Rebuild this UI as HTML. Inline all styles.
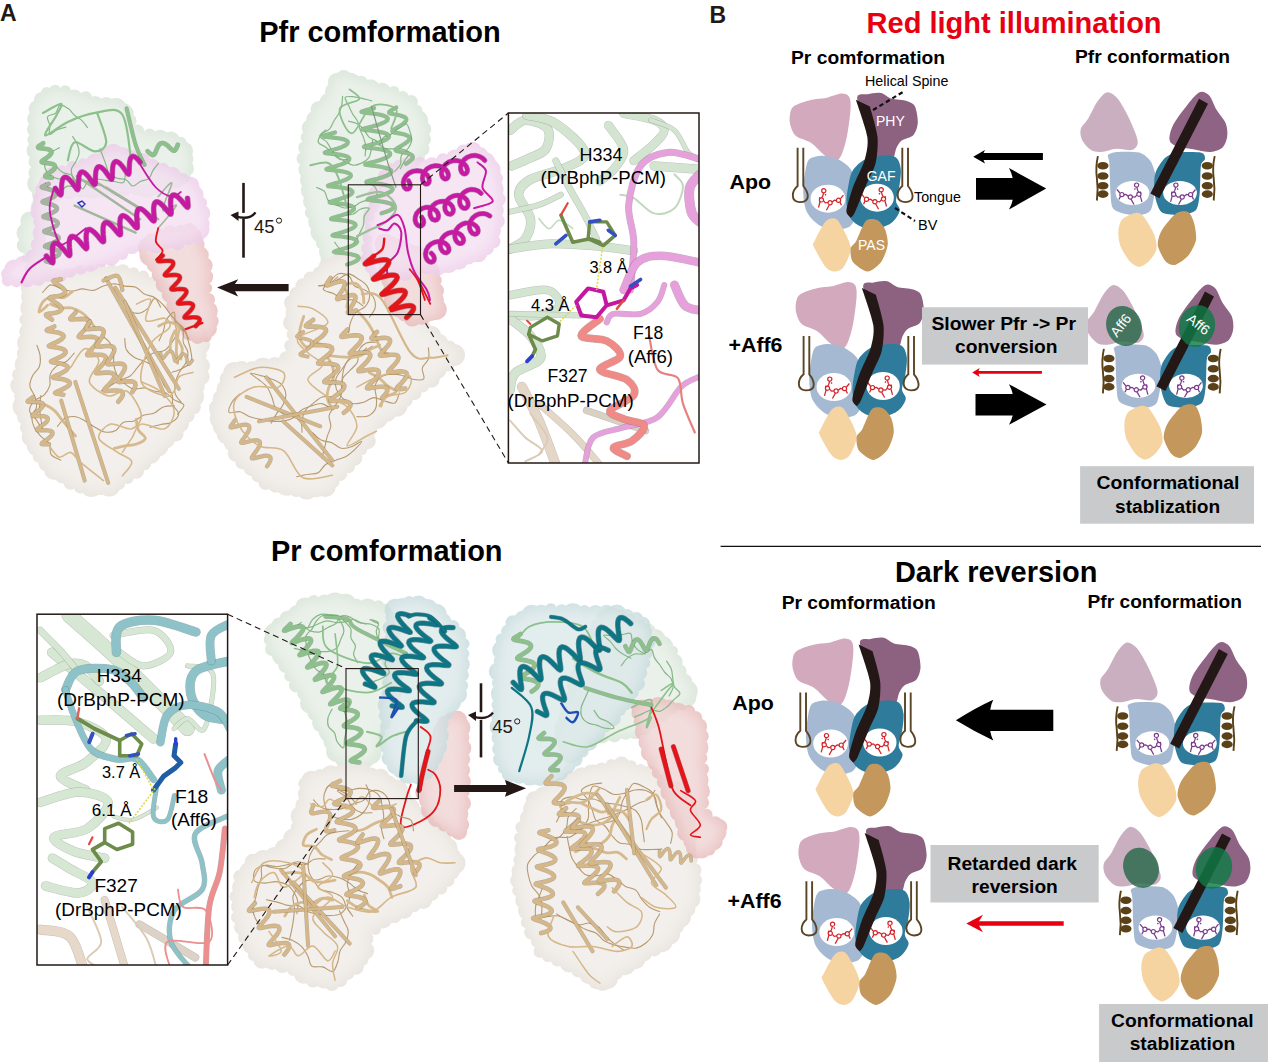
<!DOCTYPE html>
<html><head><meta charset="utf-8"><style>
html,body{margin:0;padding:0;background:#fff;width:1268px;height:1062px;overflow:hidden}
svg{display:block}
text{font-family:"Liberation Sans",sans-serif}
</style></head><body>
<svg width="1268" height="1062" viewBox="0 0 1268 1062">
<rect width="1268" height="1062" fill="#fff"/>
<defs><filter id="shade" x="-5%" y="-5%" width="110%" height="110%" color-interpolation-filters="sRGB"><feMorphology in="SourceAlpha" operator="erode" radius="4" result="er"/><feGaussianBlur in="er" stdDeviation="6" result="bl"/><feFlood flood-color="#ffffff" flood-opacity="0.4"/><feComposite in2="bl" operator="in" result="hi"/><feMerge><feMergeNode in="SourceGraphic"/><feMergeNode in="hi"/></feMerge></filter></defs>
<g opacity="1"><g fill="#dde8dc" filter="url(#shade)"><path d="M36.6,119.4 L40.9,110.1 L43.9,101.3 L47.1,93.4 L55.1,91.3 L64.7,92.9 L74.5,97.4 L85.4,99 L95.3,104.7 L105.7,107.5 L114.3,112.9 L121.4,115.7 L128.7,121.9 L137.2,131.9 L149.5,135.7 L159.8,140.8 L170,143 L179.7,143.9 L182.1,151.7 L185.5,159 L184.1,168 L180.1,174.5 L176.1,181.2 L166.8,182.8 L156.7,183.4 L146.1,183 L135.3,186.7 L124.4,188.8 L113.6,190.2 L102.7,186.3 L91.6,185.6 L80,186.9 L67.9,189 L54.8,192.1 L45.3,201.8 L39.3,212.7 L30.5,221.4 L24.7,232.4 L24.2,245.6 L27.1,257.8 L28.9,270 L42.8,274.3 L43,260.8 L43.7,249.6 L41.2,238.7 L42.8,227.5 L43.4,216.3 L39.7,205.6 L39.3,194.5 L41.7,183.3 L36.7,172.6 L36.3,161.6 L37.6,150.4 L33.7,139.7 L35.3,129.3Z"/><circle cx="34.5" cy="119" r="7.4"/><circle cx="38.1" cy="109.1" r="9.4"/><circle cx="42.5" cy="100.4" r="8.7"/><circle cx="46.7" cy="92.8" r="5.8"/><circle cx="55.1" cy="90.4" r="5.7"/><circle cx="65.1" cy="91.1" r="5.9"/><circle cx="74.4" cy="97.6" r="8"/><circle cx="85.8" cy="97.5" r="6.2"/><circle cx="95.1" cy="105.4" r="9.3"/><circle cx="106.2" cy="106" r="9"/><circle cx="115.9" cy="109.5" r="11.4"/><circle cx="123" cy="114" r="10.7"/><circle cx="130.2" cy="120.8" r="6.4"/><circle cx="137.1" cy="132" r="7.4"/><circle cx="149.6" cy="135.1" r="6.6"/><circle cx="160.2" cy="139.1" r="9.3"/><circle cx="170.9" cy="140.3" r="8.8"/><circle cx="180.6" cy="142.7" r="5.9"/><circle cx="183.5" cy="151" r="9.6"/><circle cx="186.1" cy="159" r="7.4"/><circle cx="185.8" cy="168.4" r="8.2"/><circle cx="180.4" cy="174.7" r="10.3"/><circle cx="176.4" cy="181.8" r="7"/><circle cx="166.7" cy="182.4" r="8.7"/><circle cx="157" cy="185.5" r="9.9"/><circle cx="146.3" cy="186.3" r="11.4"/><circle cx="135.3" cy="186.8" r="8"/><circle cx="124.5" cy="189.7" r="6.4"/><circle cx="113.6" cy="190.5" r="5.7"/><circle cx="102.7" cy="187.3" r="10.1"/><circle cx="91.6" cy="187.9" r="10.8"/><circle cx="80.1" cy="187.7" r="9.7"/><circle cx="68.2" cy="190.3" r="9"/><circle cx="54.4" cy="191.4" r="10.5"/><circle cx="45.6" cy="202.1" r="8.3"/><circle cx="39.4" cy="212.8" r="5.9"/><circle cx="29.7" cy="221" r="9.4"/><circle cx="26.9" cy="233.1" r="10.4"/><circle cx="24.6" cy="245.6" r="7.8"/><circle cx="27.9" cy="257.6" r="5.6"/><circle cx="30.7" cy="269.3" r="6.5"/><circle cx="42.8" cy="274.3" r="5.9"/><circle cx="41.5" cy="260.9" r="6.3"/><circle cx="44" cy="249.6" r="7.8"/><circle cx="40.3" cy="238.7" r="6"/><circle cx="43.3" cy="227.4" r="8.8"/><circle cx="43.8" cy="216.3" r="10.4"/><circle cx="38.5" cy="205.6" r="7.2"/><circle cx="39.6" cy="194.5" r="7.7"/><circle cx="38.5" cy="183.5" r="11.2"/><circle cx="35.1" cy="172.7" r="6.6"/><circle cx="35.4" cy="161.7" r="6.9"/><circle cx="35.5" cy="150.6" r="9"/><circle cx="32.8" cy="139.7" r="5.5"/><circle cx="34.6" cy="129.3" r="7.7"/></g></g>
<g opacity="1"><g fill="#eae5df" filter="url(#shade)"><path d="M32.5,282.8 L37,278.6 L46.5,278.4 L57.3,279.4 L68.9,278.8 L80.1,274.6 L90.5,271.6 L101,271.2 L111.8,272.6 L122.5,274.2 L133.1,274.2 L142.8,277.8 L152.5,282 L160.4,290 L170.4,294 L178.5,300.7 L183.9,309.4 L191.3,315.6 L197.1,323.7 L198.2,333.9 L196.8,344.5 L201.6,354.9 L198.7,365.6 L197.9,376.3 L196.8,386.8 L192.9,396.3 L192.5,406.7 L188,416 L180.3,423.6 L174.6,432.7 L165.7,439 L158.1,446.2 L150.3,453.5 L143.9,462.8 L134.8,469.1 L127.1,477.3 L118.1,482.9 L108.6,483.8 L100.8,485 L91.8,483.8 L81,485 L71.1,481.5 L63,474.9 L55.5,468.4 L47.7,462.5 L39.1,456.5 L37.8,445.5 L32.8,436.5 L26.5,427.6 L24.5,417.1 L25.8,406.1 L21.5,396.1 L22.8,385.7 L20.1,375 L25.5,364.7 L23,353.3 L29.2,343.1 L27.6,331.4 L27.7,319.8 L32.4,308.1 L29.2,297 L28.4,287.4Z"/><circle cx="32.1" cy="282.5" r="11.2"/><circle cx="36.9" cy="278" r="8.6"/><circle cx="46.3" cy="275.3" r="9.6"/><circle cx="57.3" cy="279.4" r="10.9"/><circle cx="68.9" cy="278.9" r="10.7"/><circle cx="79.9" cy="273.3" r="7.9"/><circle cx="90.5" cy="271.2" r="6.1"/><circle cx="101.1" cy="269.3" r="5.9"/><circle cx="112" cy="270.8" r="6.8"/><circle cx="122.8" cy="271.8" r="7.5"/><circle cx="133.5" cy="272.7" r="5.5"/><circle cx="143.3" cy="276.7" r="6.1"/><circle cx="152.4" cy="282.3" r="5.7"/><circle cx="161.7" cy="287.8" r="9.2"/><circle cx="171.2" cy="292.9" r="7"/><circle cx="179.9" cy="299" r="7.7"/><circle cx="183.2" cy="310.1" r="10.6"/><circle cx="192.3" cy="315.1" r="8.3"/><circle cx="198.9" cy="323.1" r="6"/><circle cx="199.9" cy="333.6" r="7.6"/><circle cx="199.7" cy="344.3" r="10.5"/><circle cx="201.2" cy="354.9" r="5.6"/><circle cx="201.2" cy="365.7" r="8.7"/><circle cx="200.9" cy="376.6" r="8.8"/><circle cx="196" cy="386.7" r="8.7"/><circle cx="193.3" cy="396.4" r="10.7"/><circle cx="193.7" cy="407.2" r="7.1"/><circle cx="188" cy="416" r="6.5"/><circle cx="180.3" cy="423.6" r="8.7"/><circle cx="176" cy="433.9" r="7.5"/><circle cx="165" cy="438.4" r="10.4"/><circle cx="158" cy="446.1" r="10.6"/><circle cx="150.4" cy="453.6" r="10.4"/><circle cx="144.4" cy="463.4" r="6.9"/><circle cx="136.4" cy="471.1" r="7.6"/><circle cx="127.9" cy="478.3" r="5.7"/><circle cx="118.2" cy="483.1" r="7.1"/><circle cx="109.2" cy="485.4" r="11.2"/><circle cx="100.7" cy="484" r="11.1"/><circle cx="91.4" cy="485.8" r="11.2"/><circle cx="80.5" cy="486.6" r="6.8"/><circle cx="70.4" cy="483.1" r="6.7"/><circle cx="63.2" cy="474.4" r="9.2"/><circle cx="54.6" cy="469.5" r="10.5"/><circle cx="47.7" cy="462.5" r="9.4"/><circle cx="38.8" cy="456.7" r="6"/><circle cx="37.8" cy="445.5" r="11"/><circle cx="31.6" cy="437" r="10"/><circle cx="26.5" cy="427.6" r="6.6"/><circle cx="24.6" cy="417.1" r="7.5"/><circle cx="23.9" cy="406.4" r="11.3"/><circle cx="22.1" cy="396.1" r="7.9"/><circle cx="20.1" cy="385.6" r="9.8"/><circle cx="18.4" cy="374.8" r="6.3"/><circle cx="25.7" cy="364.8" r="10.9"/><circle cx="23.2" cy="353.4" r="6.4"/><circle cx="28.6" cy="343" r="11.4"/><circle cx="26.8" cy="331.3" r="7.6"/><circle cx="25.6" cy="319.7" r="6.3"/><circle cx="31.7" cy="308.1" r="11.3"/><circle cx="29.8" cy="296.9" r="8.7"/><circle cx="28.7" cy="287.5" r="8.1"/></g></g>
<g opacity="0.8"><g fill="#e7b8b8" filter="url(#shade)"><path d="M151.2,248.1 L152.6,241.3 L160.6,236.5 L170.4,233.4 L180.5,230.8 L189.2,231.7 L193.6,236.6 L197.1,244.7 L199.4,255.2 L201.1,265.9 L203,277 L206.7,288.1 L207.7,299.7 L206.9,311.2 L210.4,321 L208.1,328.9 L205.4,335.7 L197.7,335.5 L192,330 L186,324 L182.8,313.8 L176.4,304.3 L170.6,294.2 L164.7,284.4 L159.5,274.6 L156,264.1 L153.2,254.4Z"/><circle cx="148.6" cy="247.5" r="10.5"/><circle cx="151.6" cy="240.2" r="7"/><circle cx="160.4" cy="236" r="6.9"/><circle cx="170.1" cy="232.3" r="7.1"/><circle cx="180.5" cy="231.2" r="6.3"/><circle cx="189.5" cy="230.7" r="7.6"/><circle cx="193.2" cy="236.9" r="9"/><circle cx="196.6" cy="244.8" r="8"/><circle cx="200.3" cy="255" r="8.5"/><circle cx="204.1" cy="265.5" r="8.6"/><circle cx="205.1" cy="276.7" r="8.1"/><circle cx="206.7" cy="288.1" r="5.5"/><circle cx="208.6" cy="299.5" r="6.5"/><circle cx="207.9" cy="311.1" r="9.9"/><circle cx="211.2" cy="321.1" r="7.5"/><circle cx="208.1" cy="328.9" r="8.8"/><circle cx="205.7" cy="336.2" r="6.1"/><circle cx="197.5" cy="337.1" r="7"/><circle cx="191.2" cy="331" r="10.1"/><circle cx="186" cy="324" r="8.9"/><circle cx="181.3" cy="314.6" r="11"/><circle cx="175.4" cy="304.9" r="9.2"/><circle cx="170.3" cy="294.4" r="8.6"/><circle cx="163.9" cy="284.8" r="8.2"/><circle cx="160.1" cy="274.3" r="8.4"/><circle cx="156.4" cy="263.9" r="9.7"/><circle cx="150.7" cy="255.1" r="11.2"/></g></g>
<g opacity="0.8"><g fill="#edcbe9" filter="url(#shade)"><path d="M47.1,183.1 L54.7,179.8 L62.4,172.3 L72.8,168.4 L83.4,164.3 L95.3,163.3 L103.9,155.9 L113.9,155.9 L122.5,157.1 L132.4,156.4 L141.7,161.8 L150.4,169.6 L162.5,170.2 L171.4,176.8 L181.4,180.6 L187.4,188.7 L193.7,195.3 L200.4,203.1 L200,213.8 L204.4,223.2 L200.1,229.9 L197.2,236.6 L187.9,239.9 L177.2,241.3 L166.6,241.9 L155.5,240.4 L144.2,244.9 L131.6,244.9 L121.3,252.1 L110.2,254.7 L101.6,261.7 L90.2,262.6 L80.8,268.9 L70.3,272.2 L59.3,272.6 L48.5,273.9 L37.9,276.9 L26.9,276.5 L16.5,279.3 L8.7,279.4 L10.1,275 L15.7,271.3 L23.7,266.6 L34.9,258.6 L40.1,245.3 L43.5,233 L40.5,221.7 L45,210.8 L44.9,199.8 L43.7,189.9Z"/><circle cx="47.6" cy="183.5" r="8.9"/><circle cx="53.3" cy="177.2" r="10.5"/><circle cx="62.1" cy="171.5" r="6.2"/><circle cx="72.3" cy="167" r="5.9"/><circle cx="83.3" cy="164.1" r="5.9"/><circle cx="95.5" cy="163.8" r="10.2"/><circle cx="103.8" cy="155.8" r="6.4"/><circle cx="113.5" cy="153.2" r="9.5"/><circle cx="122.3" cy="158" r="10.8"/><circle cx="132.2" cy="156.9" r="6.8"/><circle cx="142.1" cy="160.9" r="7.9"/><circle cx="150.3" cy="169.8" r="11.4"/><circle cx="162.9" cy="169.3" r="6.5"/><circle cx="172.2" cy="175.3" r="8.6"/><circle cx="182.1" cy="179.4" r="6.7"/><circle cx="189.7" cy="186.3" r="9.8"/><circle cx="194.8" cy="194.6" r="8.8"/><circle cx="201.5" cy="202.7" r="5.6"/><circle cx="201.1" cy="213.6" r="9.2"/><circle cx="203.8" cy="223.2" r="5.9"/><circle cx="199.3" cy="229.5" r="10.2"/><circle cx="197.9" cy="237.9" r="6.1"/><circle cx="187.9" cy="239.9" r="5.7"/><circle cx="177.6" cy="243.3" r="7.1"/><circle cx="166.6" cy="241.4" r="8"/><circle cx="155.7" cy="242.8" r="10.4"/><circle cx="144.2" cy="244.5" r="6.4"/><circle cx="131.7" cy="245.2" r="8.9"/><circle cx="122.2" cy="253.9" r="6"/><circle cx="110.8" cy="256" r="9.6"/><circle cx="101.5" cy="261.3" r="5.9"/><circle cx="90.2" cy="262.5" r="9.3"/><circle cx="80.7" cy="268.7" r="6"/><circle cx="70.2" cy="271.9" r="5.9"/><circle cx="59.6" cy="274.2" r="8.2"/><circle cx="48.4" cy="273.3" r="8.8"/><circle cx="38.1" cy="278.9" r="7.1"/><circle cx="27" cy="278.6" r="8.7"/><circle cx="16.4" cy="281" r="6.2"/><circle cx="7.7" cy="280.6" r="5.8"/><circle cx="8.6" cy="274.6" r="7.4"/><circle cx="14.3" cy="269.6" r="10.1"/><circle cx="22.7" cy="264.6" r="8.5"/><circle cx="33" cy="256.9" r="7.6"/><circle cx="37.7" cy="244.8" r="7"/><circle cx="42.5" cy="233" r="9.9"/><circle cx="39.6" cy="221.6" r="6.6"/><circle cx="41.6" cy="210.7" r="11.1"/><circle cx="43.3" cy="199.7" r="10.4"/><circle cx="43.9" cy="190" r="8.5"/></g></g>
<path d="M125.4,173.8 C125,175.2 125.2,181.3 123.4,182.6 C121.5,183.8 117.4,181.9 114.4,181.5 C111.4,181.1 108.5,180.7 105.5,180.3 C102.5,179.9 99.5,178.9 96.6,179 C93.6,179.2 90.1,179.6 87.9,181.3 C85.6,182.9 84.8,188.7 83,188.8 C81.2,189 78.7,184.6 76.8,182.3 C74.9,180 73.8,176.7 71.4,175.1 C69.1,173.4 65.4,173.9 62.8,172.5 C60.3,171.1 57.2,167.5 56.1,166.5" fill="none" stroke="#86b886" stroke-width="1.2" stroke-linecap="round" stroke-linejoin="round"/><path d="M72.6,136.5 C73.4,137.8 76.2,141.4 77.3,144.2 C78.4,146.9 79.4,150.1 79.1,153 C78.9,155.9 77.2,158.7 75.9,161.4 C74.6,164.1 71.9,166.4 71.4,169.1 C70.8,171.9 72,175.2 72.8,178 C73.7,180.9 77.4,184.9 76.5,186.2 C75.6,187.6 70.2,185.4 67.5,186.2 C64.7,187 62.7,190.4 59.9,191.1 C57.1,191.7 53.4,191.4 51,190.1 C48.5,188.7 46.4,184.2 45.4,183" fill="none" stroke="#86b886" stroke-width="1.2" stroke-linecap="round" stroke-linejoin="round"/><path d="M101.5,184.8 C100,184.8 95.3,185.6 92.5,184.9 C89.7,184.2 87.5,180.9 84.7,180.4 C81.9,179.9 78.7,182.3 75.9,182 C73,181.7 70.4,179.2 67.5,178.7 C64.6,178.2 61.4,179.4 58.5,178.9 C55.6,178.3 52.4,177.2 50.2,175.4 C47.9,173.6 45.7,170.7 45,168 C44.3,165.3 44.8,161.7 45.9,159.1 C46.9,156.4 49.3,154 51.5,152.1 C53.8,150.2 58.1,148.5 59.4,147.7" fill="none" stroke="#86b886" stroke-width="1.2" stroke-linecap="round" stroke-linejoin="round"/><path d="M158.5,163.3 C157.6,164.5 154.6,167.9 153,170.4 C151.4,173 151,176.6 148.9,178.4 C146.8,180.3 143.1,180.2 140.4,181.5 C137.7,182.8 135,186.3 132.6,186 C130.2,185.7 128.7,181 126.1,179.7 C123.6,178.4 120.1,179.2 117.3,178.2 C114.4,177.3 111.1,176.1 109.3,174 C107.5,171.9 107.3,168.4 106.3,165.6 C105.3,162.7 104.2,159.9 103.2,157.1 C102.1,154.3 100.5,150.1 100,148.7" fill="none" stroke="#86b886" stroke-width="1.2" stroke-linecap="round" stroke-linejoin="round"/><path d="M65.8,127.1 C64.4,127.5 60,128.6 57.3,129.8 C54.5,131.1 50.8,135.2 49.5,134.5 C48.3,133.8 50.2,128.5 49.8,125.5 C49.5,122.6 46.6,118.9 47.5,116.8 C48.5,114.7 53.7,115 55.7,113.1 C57.8,111.2 57.9,105.9 60,105.2 C62.1,104.4 65.9,107 68.3,108.6 C70.7,110.3 72.3,113.2 74.5,115.2 C76.8,117.1 79.7,118.4 81.8,120.4 C84,122.5 86.5,126.3 87.4,127.5" fill="none" stroke="#86b886" stroke-width="1.2" stroke-linecap="round" stroke-linejoin="round"/>
<path d="M42.9,112.9 C46,111.4 58.8,103.5 61,103.9 C63.3,104.3 59.1,109.9 56.5,115.2 C53.9,120.5 43.3,134.4 45.2,135.5 C47.1,136.7 59.5,125.7 67.8,122 C76.1,118.2 85.9,114.3 94.9,112.9 C104,111.6 116,106.2 122,114.1 C128.1,122 129.6,152.7 131.1,160.4" fill="none" stroke="#8cc18b" stroke-width="2.2" stroke-linecap="round" stroke-linejoin="round" stroke-opacity="1"/>
<path d="M97.2,112.9 C98.7,117.8 106.6,135.9 106.2,142.3 C105.8,148.7 100.2,151.4 94.9,151.4 C89.6,151.4 79.1,140.8 74.6,142.3 C70.1,143.8 68.9,157.4 67.8,160.4" fill="none" stroke="#8cc18b" stroke-width="2.2" stroke-linecap="round" stroke-linejoin="round" stroke-opacity="1"/>
<path d="M43.2,143.2 L41.2,144.6 L39.5,145.7 L38.4,146.6 L38,147.3 L38.5,147.8 L39.8,148.1 L41.7,148.4 L44,148.6 L46.5,149 L48.7,149.5 L50.4,150.3 L51.3,151.4 L51.5,152.6 L50.8,154 L49.4,155.6 L47.6,157.1 L45.6,158.5 L43.7,159.7 L42.4,160.8 L41.7,161.5 L41.8,162.1 L42.8,162.5 L44.5,162.7 L46.7,163 L49.1,163.3 L51.5,163.8 L53.4,164.4 L54.7,165.4 L55.1,166.5 L54.8,167.9 L53.6,169.4 L52,170.9 L50,172.4 L48,173.7 L46.5,174.9 L45.5,175.7 L45.3,176.4 L45.9,176.8 L47.3,177.1 L49.4,177.3 L51.8,177.6" fill="none" stroke="#547353" stroke-width="4.8" stroke-linecap="round" stroke-linejoin="round" stroke-opacity="0.5"/><path d="M43.2,143.2 L41.2,144.6 L39.5,145.7 L38.4,146.6 L38,147.3 L38.5,147.8 L39.8,148.1 L41.7,148.4 L44,148.6 L46.5,149 L48.7,149.5 L50.4,150.3 L51.3,151.4 L51.5,152.6 L50.8,154 L49.4,155.6 L47.6,157.1 L45.6,158.5 L43.7,159.7 L42.4,160.8 L41.7,161.5 L41.8,162.1 L42.8,162.5 L44.5,162.7 L46.7,163 L49.1,163.3 L51.5,163.8 L53.4,164.4 L54.7,165.4 L55.1,166.5 L54.8,167.9 L53.6,169.4 L52,170.9 L50,172.4 L48,173.7 L46.5,174.9 L45.5,175.7 L45.3,176.4 L45.9,176.8 L47.3,177.1 L49.4,177.3 L51.8,177.6" fill="none" stroke="#8cc18b" stroke-width="3.6" stroke-linecap="round" stroke-linejoin="round"/>
<path d="M48.6,184 L46,185 L43.8,185.8 L42.3,186.5 L41.8,187.1 L42.3,187.5 L43.8,188 L46,188.6 L48.7,189.3 L51.4,190.1 L53.8,191.1 L55.4,192.3 L56.2,193.5 L55.9,194.9 L54.6,196.2 L52.5,197.5 L50,198.6 L47.3,199.7 L45,200.5 L43.4,201.2 L42.6,201.8 L43,202.3 L44.3,202.7 L46.4,203.3 L49,203.9 L51.7,204.7 L54.2,205.7 L56,206.8 L56.9,208.1 L56.8,209.4 L55.7,210.7 L53.7,212 L51.3,213.2 L48.6,214.3 L46.2,215.1 L44.4,215.9 L43.5,216.5 L43.6,217 L44.8,217.4 L46.8,218 L49.3,218.6 L52.1,219.4 L54.6,220.3 L56.6,221.4 L57.7,222.6 L57.7,224 L56.8,225.3 L55,226.6 L52.6,227.8 L49.9,228.9 L47.4,229.8 L45.5,230.5 L44.4,231.1 L44.4,231.7 L45.3,232.1 L47.2,232.7 L49.7,233.3 L52.4,234 L55,234.9 L57.1,236 L58.4,237.2 L58.6,238.5 L57.9,239.8 L56.2,241.2 L53.8,242.4 L51.2,243.5 L48.7,244.4 L46.6,245.2 L45.4,245.8 L45.1,246.4 L45.9,246.8 L47.6,247.4 L50,247.9 L52.7,248.7 L55.4,249.5 L57.6,250.6 L59,251.8 L59.5,253 L58.9,254.4 L57.4,255.7 L55.1,257 L52.5,258.1 L49.9,259.1 L47.8,259.9 L46.4,260.5 L45.9,261.1 L46.5,261.6 L48.1,262 L50.4,262.6 L53,263.3" fill="none" stroke="#636c5f" stroke-width="4.6" stroke-linecap="round" stroke-linejoin="round" stroke-opacity="0.5"/><path d="M48.6,184 L46,185 L43.8,185.8 L42.3,186.5 L41.8,187.1 L42.3,187.5 L43.8,188 L46,188.6 L48.7,189.3 L51.4,190.1 L53.8,191.1 L55.4,192.3 L56.2,193.5 L55.9,194.9 L54.6,196.2 L52.5,197.5 L50,198.6 L47.3,199.7 L45,200.5 L43.4,201.2 L42.6,201.8 L43,202.3 L44.3,202.7 L46.4,203.3 L49,203.9 L51.7,204.7 L54.2,205.7 L56,206.8 L56.9,208.1 L56.8,209.4 L55.7,210.7 L53.7,212 L51.3,213.2 L48.6,214.3 L46.2,215.1 L44.4,215.9 L43.5,216.5 L43.6,217 L44.8,217.4 L46.8,218 L49.3,218.6 L52.1,219.4 L54.6,220.3 L56.6,221.4 L57.7,222.6 L57.7,224 L56.8,225.3 L55,226.6 L52.6,227.8 L49.9,228.9 L47.4,229.8 L45.5,230.5 L44.4,231.1 L44.4,231.7 L45.3,232.1 L47.2,232.7 L49.7,233.3 L52.4,234 L55,234.9 L57.1,236 L58.4,237.2 L58.6,238.5 L57.9,239.8 L56.2,241.2 L53.8,242.4 L51.2,243.5 L48.7,244.4 L46.6,245.2 L45.4,245.8 L45.1,246.4 L45.9,246.8 L47.6,247.4 L50,247.9 L52.7,248.7 L55.4,249.5 L57.6,250.6 L59,251.8 L59.5,253 L58.9,254.4 L57.4,255.7 L55.1,257 L52.5,258.1 L49.9,259.1 L47.8,259.9 L46.4,260.5 L45.9,261.1 L46.5,261.6 L48.1,262 L50.4,262.6 L53,263.3" fill="none" stroke="#a5b49f" stroke-width="3.4" stroke-linecap="round" stroke-linejoin="round"/>
<path d="M147.6,151.2 L149.2,152.7 L150.7,154 L151.9,154.9 L153,155.1 L154,154.7 L154.8,153.6 L155.6,152 L156.4,150 L157.3,147.9 L158.3,145.9 L159.5,144.3 L160.9,143.3 L162.5,143 L164.1,143.3 L165.9,144.3 L167.6,145.6 L169.3,147.2 L170.8,148.7 L172.2,149.9 L173.4,150.5 L174.5,150.6 L175.4,149.9 L176.2,148.6 L177,146.8 L177.8,144.7" fill="none" stroke="#547353" stroke-width="4.8" stroke-linecap="round" stroke-linejoin="round" stroke-opacity="0.5"/><path d="M147.6,151.2 L149.2,152.7 L150.7,154 L151.9,154.9 L153,155.1 L154,154.7 L154.8,153.6 L155.6,152 L156.4,150 L157.3,147.9 L158.3,145.9 L159.5,144.3 L160.9,143.3 L162.5,143 L164.1,143.3 L165.9,144.3 L167.6,145.6 L169.3,147.2 L170.8,148.7 L172.2,149.9 L173.4,150.5 L174.5,150.6 L175.4,149.9 L176.2,148.6 L177,146.8 L177.8,144.7" fill="none" stroke="#8cc18b" stroke-width="3.6" stroke-linecap="round" stroke-linejoin="round"/>
<path d="M76.8,176.2 L140.1,219.2" fill="none" stroke="#a3b59c" stroke-width="2.4" stroke-linecap="round" stroke-linejoin="round" stroke-opacity="1"/>
<path d="M90.4,178.5 L149.2,214.6" fill="none" stroke="#a3b59c" stroke-width="2.4" stroke-linecap="round" stroke-linejoin="round" stroke-opacity="1"/>
<path d="M106.2,187.5 L158.2,219.2" fill="none" stroke="#a3b59c" stroke-width="2.4" stroke-linecap="round" stroke-linejoin="round" stroke-opacity="1"/>
<path d="M74.6,205.6 L135.6,232.7" fill="none" stroke="#a3b59c" stroke-width="2.4" stroke-linecap="round" stroke-linejoin="round" stroke-opacity="1"/>
<path d="M126.6,108.4 C128.1,114.4 132.6,135.2 135.6,144.6 C138.6,154 143.1,161.5 144.6,164.9" fill="none" stroke="#547353" stroke-width="4.2" stroke-linecap="round" stroke-linejoin="round" stroke-opacity="0.5"/><path d="M126.6,108.4 C128.1,114.4 132.6,135.2 135.6,144.6 C138.6,154 143.1,161.5 144.6,164.9" fill="none" stroke="#8cc18b" stroke-width="3.2" stroke-linecap="round" stroke-linejoin="round" stroke-opacity="1"/>
<path d="M158.2,196.6 C160.5,194.3 171,180.7 171.8,183 C172.5,185.3 162,206.3 162.7,210.1 C163.5,213.9 177,202.6 176.3,205.6 C175.5,208.6 161.2,224.4 158.2,228.2" fill="none" stroke="#a3b59c" stroke-width="1.6" stroke-linecap="round" stroke-linejoin="round" stroke-opacity="1"/>
<path d="M55.4,188.3 L57.2,190.9 L58.8,193.1 L60,194.6 L60.8,195 L61.2,194.3 L61.4,192.5 L61.5,189.9 L61.6,186.7 L61.8,183.5 L62.3,180.6 L63.1,178.4 L64.4,177.2 L66,177.1 L67.9,178.2 L69.9,180.1 L71.9,182.6 L73.8,185.2 L75.5,187.5 L76.7,189.2 L77.6,189.8 L78.1,189.3 L78.4,187.8 L78.4,185.3 L78.5,182.2 L78.7,178.9 L79.1,175.9 L79.9,173.5 L81.1,172.1 L82.6,171.8 L84.4,172.7 L86.4,174.4 L88.5,176.8 L90.4,179.5 L92.1,181.9 L93.5,183.7 L94.4,184.6 L95,184.3 L95.3,183 L95.4,180.6 L95.4,177.6 L95.6,174.4 L95.9,171.3 L96.6,168.7 L97.7,167.1 L99.2,166.6 L101,167.2 L103,168.8 L105,171.1 L107,173.8 L108.7,176.3 L110.2,178.2 L111.2,179.3 L111.9,179.3 L112.2,178.1 L112.3,176 L112.4,173.1 L112.5,169.8 L112.8,166.6 L113.4,164 L114.4,162.2 L115.8,161.4 L117.6,161.8 L119.5,163.2 L121.6,165.4 L123.6,168 L125.4,170.6 L126.9,172.7 L128,173.9 L128.7,174.2 L129.1,173.2 L129.2,171.3 L129.3,168.5 L129.4,165.3 L129.6,162.1 L130.2,159.3 L131.2,157.3 L132.5,156.3 L134.1,156.5 L136.1,157.7 L138.1,159.8 L140.1,162.3" fill="none" stroke="#770f61" stroke-width="5.4" stroke-linecap="round" stroke-linejoin="round" stroke-opacity="0.5"/><path d="M55.4,188.3 L57.2,190.9 L58.8,193.1 L60,194.6 L60.8,195 L61.2,194.3 L61.4,192.5 L61.5,189.9 L61.6,186.7 L61.8,183.5 L62.3,180.6 L63.1,178.4 L64.4,177.2 L66,177.1 L67.9,178.2 L69.9,180.1 L71.9,182.6 L73.8,185.2 L75.5,187.5 L76.7,189.2 L77.6,189.8 L78.1,189.3 L78.4,187.8 L78.4,185.3 L78.5,182.2 L78.7,178.9 L79.1,175.9 L79.9,173.5 L81.1,172.1 L82.6,171.8 L84.4,172.7 L86.4,174.4 L88.5,176.8 L90.4,179.5 L92.1,181.9 L93.5,183.7 L94.4,184.6 L95,184.3 L95.3,183 L95.4,180.6 L95.4,177.6 L95.6,174.4 L95.9,171.3 L96.6,168.7 L97.7,167.1 L99.2,166.6 L101,167.2 L103,168.8 L105,171.1 L107,173.8 L108.7,176.3 L110.2,178.2 L111.2,179.3 L111.9,179.3 L112.2,178.1 L112.3,176 L112.4,173.1 L112.5,169.8 L112.8,166.6 L113.4,164 L114.4,162.2 L115.8,161.4 L117.6,161.8 L119.5,163.2 L121.6,165.4 L123.6,168 L125.4,170.6 L126.9,172.7 L128,173.9 L128.7,174.2 L129.1,173.2 L129.2,171.3 L129.3,168.5 L129.4,165.3 L129.6,162.1 L130.2,159.3 L131.2,157.3 L132.5,156.3 L134.1,156.5 L136.1,157.7 L138.1,159.8 L140.1,162.3" fill="none" stroke="#c71aa3" stroke-width="4.2" stroke-linecap="round" stroke-linejoin="round"/>
<path d="M46.4,256 L48.6,258.6 L50.4,260.8 L51.8,262.2 L52.6,262.6 L53,261.8 L53,259.9 L52.7,257 L52.5,253.7 L52.4,250.2 L52.6,247.1 L53.3,244.8 L54.5,243.4 L56.2,243.3 L58.3,244.3 L60.6,246.2 L63,248.7 L65.2,251.3 L67.1,253.6 L68.5,255.2 L69.4,255.7 L69.9,255 L69.9,253.2 L69.7,250.5 L69.4,247.2 L69.2,243.7 L69.4,240.5 L70.1,238.1 L71.2,236.6 L72.9,236.4 L74.9,237.2 L77.2,239.1 L79.6,241.5 L81.8,244.1 L83.8,246.5 L85.3,248.1 L86.2,248.8 L86.7,248.3 L86.8,246.6 L86.6,243.9 L86.3,240.7 L86.1,237.2 L86.3,234 L86.9,231.4 L87.9,229.8 L89.5,229.4 L91.5,230.2 L93.8,231.9 L96.2,234.3 L98.5,236.9 L100.4,239.3 L102,241.1 L103,241.8 L103.6,241.5 L103.7,239.9 L103.5,237.4 L103.2,234.2 L103,230.7 L103.1,227.4 L103.6,224.7 L104.7,223 L106.2,222.5 L108.2,223.1 L110.4,224.7 L112.8,227.1 L115.1,229.7 L117.1,232.2 L118.7,234 L119.8,234.9 L120.4,234.7 L120.6,233.2 L120.4,230.8 L120.1,227.6 L119.9,224.2 L120,220.8 L120.4,218.1 L121.4,216.3 L122.9,215.6 L124.8,216.1 L127,217.6 L129.4,219.9 L131.7,222.5 L133.8,225 L135.4,226.9 L136.6,227.9 L137.2,227.8 L137.4,226.6 L137.3,224.2 L137,221.1 L136.8,217.7 L136.8,214.3 L137.2,211.5 L138.1,209.5 L139.6,208.7 L141.4,209 L143.6,210.5 L146,212.7 L148.3,215.3 L150.4,217.8 L152.1,219.8 L153.4,221 L154.1,221 L154.3,219.9 L154.2,217.6 L154,214.6 L153.7,211.2 L153.7,207.8 L154.1,204.8 L154.9,202.8 L156.3,201.8 L158.1,202 L160.3,203.3 L162.6,205.5 L165,208 L167.1,210.6 L168.9,212.7 L170.1,214 L170.9,214.1 L171.2,213.1 L171.1,211 L170.9,208.1 L170.6,204.7 L170.6,201.2 L170.9,198.2 L171.7,196.1 L173,195 L174.7,195 L176.9,196.2 L179.2,198.3 L181.6,200.8 L183.7,203.4 L185.6,205.6 L186.9,207 L187.7,207.3 L188.1,206.4 L188,204.4 L187.8,201.5 L187.5,198.2" fill="none" stroke="#770f61" stroke-width="5.6" stroke-linecap="round" stroke-linejoin="round" stroke-opacity="0.5"/><path d="M46.4,256 L48.6,258.6 L50.4,260.8 L51.8,262.2 L52.6,262.6 L53,261.8 L53,259.9 L52.7,257 L52.5,253.7 L52.4,250.2 L52.6,247.1 L53.3,244.8 L54.5,243.4 L56.2,243.3 L58.3,244.3 L60.6,246.2 L63,248.7 L65.2,251.3 L67.1,253.6 L68.5,255.2 L69.4,255.7 L69.9,255 L69.9,253.2 L69.7,250.5 L69.4,247.2 L69.2,243.7 L69.4,240.5 L70.1,238.1 L71.2,236.6 L72.9,236.4 L74.9,237.2 L77.2,239.1 L79.6,241.5 L81.8,244.1 L83.8,246.5 L85.3,248.1 L86.2,248.8 L86.7,248.3 L86.8,246.6 L86.6,243.9 L86.3,240.7 L86.1,237.2 L86.3,234 L86.9,231.4 L87.9,229.8 L89.5,229.4 L91.5,230.2 L93.8,231.9 L96.2,234.3 L98.5,236.9 L100.4,239.3 L102,241.1 L103,241.8 L103.6,241.5 L103.7,239.9 L103.5,237.4 L103.2,234.2 L103,230.7 L103.1,227.4 L103.6,224.7 L104.7,223 L106.2,222.5 L108.2,223.1 L110.4,224.7 L112.8,227.1 L115.1,229.7 L117.1,232.2 L118.7,234 L119.8,234.9 L120.4,234.7 L120.6,233.2 L120.4,230.8 L120.1,227.6 L119.9,224.2 L120,220.8 L120.4,218.1 L121.4,216.3 L122.9,215.6 L124.8,216.1 L127,217.6 L129.4,219.9 L131.7,222.5 L133.8,225 L135.4,226.9 L136.6,227.9 L137.2,227.8 L137.4,226.6 L137.3,224.2 L137,221.1 L136.8,217.7 L136.8,214.3 L137.2,211.5 L138.1,209.5 L139.6,208.7 L141.4,209 L143.6,210.5 L146,212.7 L148.3,215.3 L150.4,217.8 L152.1,219.8 L153.4,221 L154.1,221 L154.3,219.9 L154.2,217.6 L154,214.6 L153.7,211.2 L153.7,207.8 L154.1,204.8 L154.9,202.8 L156.3,201.8 L158.1,202 L160.3,203.3 L162.6,205.5 L165,208 L167.1,210.6 L168.9,212.7 L170.1,214 L170.9,214.1 L171.2,213.1 L171.1,211 L170.9,208.1 L170.6,204.7 L170.6,201.2 L170.9,198.2 L171.7,196.1 L173,195 L174.7,195 L176.9,196.2 L179.2,198.3 L181.6,200.8 L183.7,203.4 L185.6,205.6 L186.9,207 L187.7,207.3 L188.1,206.4 L188,204.4 L187.8,201.5 L187.5,198.2" fill="none" stroke="#c71aa3" stroke-width="4.4" stroke-linecap="round" stroke-linejoin="round"/>
<path d="M21.5,282.4 C22.8,280.2 25.4,273 29.4,268.9 C33.3,264.7 42.6,259.5 45.2,257.6" fill="none" stroke="#c71aa3" stroke-width="2.2" stroke-linecap="round" stroke-linejoin="round" stroke-opacity="1"/>
<path d="M54.2,187.5 C53.5,191.3 49,201.1 49.7,210.1 C50.5,219.2 55.7,236.5 58.8,241.8 C61.8,247 63.3,244 67.8,241.8 C72.3,239.5 82.9,230.5 85.9,228.2" fill="none" stroke="#c71aa3" stroke-width="1.8" stroke-linecap="round" stroke-linejoin="round" stroke-opacity="1"/>
<path d="M139,162.7 C141.8,166.8 150.5,181.9 155.9,187.5 C161.4,193.2 167.6,195.8 171.8,196.6 C175.9,197.3 179.3,192.8 180.8,192" fill="none" stroke="#c71aa3" stroke-width="1.8" stroke-linecap="round" stroke-linejoin="round" stroke-opacity="1"/>
<path d="M78,203 l4,-2 l3,3 l-3,3 z" fill="none" stroke="#2233bb" stroke-width="1.4"/>
<path d="M158.2,228.2 C157.8,230.5 155.2,238 155.9,241.8 C156.7,245.5 162.7,247.8 162.7,250.8 C162.7,253.8 157.1,258.3 155.9,259.8" fill="none" stroke="#e3141a" stroke-width="1.8" stroke-linecap="round" stroke-linejoin="round" stroke-opacity="1"/>
<path d="M162.8,255.6 L160.9,257.4 L159.3,259 L158.3,260.2 L158.1,261 L158.7,261.3 L160.2,261.3 L162.4,261.1 L165,260.9 L167.6,260.8 L170.1,260.9 L172,261.4 L173.1,262.4 L173.3,263.7 L172.8,265.4 L171.5,267.3 L169.7,269.3 L167.9,271.2 L166.2,272.8 L165.1,274.1 L164.7,275 L165.1,275.4 L166.5,275.5 L168.5,275.3 L171,275.1 L173.7,274.9 L176.2,275 L178.2,275.4 L179.5,276.3 L180,277.5 L179.5,279.2 L178.4,281.1 L176.7,283 L174.8,285 L173.1,286.7 L171.8,288 L171.3,288.9 L171.6,289.4 L172.7,289.6 L174.6,289.5 L177.1,289.2 L179.8,289 L182.3,289.1 L184.5,289.4 L185.9,290.2 L186.5,291.4 L186.3,292.9 L185.2,294.8 L183.6,296.8 L181.8,298.7 L180,300.5 L178.6,301.9 L177.9,302.9 L178,303.5 L179,303.7 L180.8,303.6 L183.2,303.4 L185.8,303.2 L188.4,303.1 L190.7,303.4 L192.3,304.1 L193.1,305.2 L193,306.7 L192.1,308.5 L190.6,310.5 L188.7,312.4 L186.9,314.2 L185.4,315.7 L184.6,316.9 L184.5,317.5 L185.3,317.8 L187,317.8 L189.2,317.6 L191.9,317.3 L194.5,317.3 L196.9,317.5 L198.6,318.1 L199.6,319.1 L199.6,320.5 L198.9,322.3 L197.5,324.2 L195.7,326.2" fill="none" stroke="#880c0f" stroke-width="4.8" stroke-linecap="round" stroke-linejoin="round" stroke-opacity="0.5"/><path d="M162.8,255.6 L160.9,257.4 L159.3,259 L158.3,260.2 L158.1,261 L158.7,261.3 L160.2,261.3 L162.4,261.1 L165,260.9 L167.6,260.8 L170.1,260.9 L172,261.4 L173.1,262.4 L173.3,263.7 L172.8,265.4 L171.5,267.3 L169.7,269.3 L167.9,271.2 L166.2,272.8 L165.1,274.1 L164.7,275 L165.1,275.4 L166.5,275.5 L168.5,275.3 L171,275.1 L173.7,274.9 L176.2,275 L178.2,275.4 L179.5,276.3 L180,277.5 L179.5,279.2 L178.4,281.1 L176.7,283 L174.8,285 L173.1,286.7 L171.8,288 L171.3,288.9 L171.6,289.4 L172.7,289.6 L174.6,289.5 L177.1,289.2 L179.8,289 L182.3,289.1 L184.5,289.4 L185.9,290.2 L186.5,291.4 L186.3,292.9 L185.2,294.8 L183.6,296.8 L181.8,298.7 L180,300.5 L178.6,301.9 L177.9,302.9 L178,303.5 L179,303.7 L180.8,303.6 L183.2,303.4 L185.8,303.2 L188.4,303.1 L190.7,303.4 L192.3,304.1 L193.1,305.2 L193,306.7 L192.1,308.5 L190.6,310.5 L188.7,312.4 L186.9,314.2 L185.4,315.7 L184.6,316.9 L184.5,317.5 L185.3,317.8 L187,317.8 L189.2,317.6 L191.9,317.3 L194.5,317.3 L196.9,317.5 L198.6,318.1 L199.6,319.1 L199.6,320.5 L198.9,322.3 L197.5,324.2 L195.7,326.2" fill="none" stroke="#e3141a" stroke-width="3.6" stroke-linecap="round" stroke-linejoin="round"/>
<path d="M183.5,330 L202.4,322.9" fill="none" stroke="#e3141a" stroke-width="2.2" stroke-linecap="round" stroke-linejoin="round" stroke-opacity="1"/>
<path d="M100.9,391.1 C102.5,390.2 107.2,387.4 110.4,385.6 C113.6,383.7 116.7,381.7 120,380.1 C123.3,378.5 127.3,378.1 130.2,376 C133.1,373.9 134.9,370.4 137.4,367.7 C139.8,364.9 142,361.9 144.7,359.5 C147.4,357 150.2,354.3 153.5,352.9 C156.8,351.4 161.2,352.3 164.3,350.6 C167.3,348.9 169.7,345.6 171.8,342.6 C173.9,339.6 176.2,336.2 176.7,332.8 C177.2,329.3 174,322.5 175,321.9 C176.1,321.3 180.9,326.5 183.1,329.3 C185.4,332.1 187.9,337.2 188.8,338.8" fill="none" stroke="#b89a6e" stroke-width="1.1" stroke-linecap="round" stroke-linejoin="round"/><path d="M128,311.8 C129.8,312 135.5,313.9 138.9,313.3 C142.3,312.6 145.8,310.2 148.4,307.8 C151,305.3 151.9,299 154.4,298.6 C156.9,298.1 160.8,302.5 163.4,305 C166,307.5 167.7,310.9 170,313.8 C172.3,316.6 174.7,319.4 177.2,322.1 C179.7,324.8 183.2,326.8 185,329.8 C186.8,332.9 187.1,336.9 188.1,340.4 C189,343.9 190.3,347.4 190.8,351.1 C191.3,354.7 192.7,359.2 191.3,362 C189.8,364.9 185.5,366.7 182.3,368.4 C179.1,370.1 173.7,371.7 172,372.3" fill="none" stroke="#b89a6e" stroke-width="1.1" stroke-linecap="round" stroke-linejoin="round"/><path d="M101.7,335.6 C103.1,336.8 108,339.9 109.9,342.9 C111.9,345.8 112.9,349.7 113.5,353.3 C114.1,356.9 113.2,360.7 113.7,364.3 C114.3,367.9 115.2,371.6 116.9,374.8 C118.7,378 121.3,380.8 124.1,383.2 C126.8,385.6 130,388.2 133.4,389 C136.8,389.8 140.8,387.6 144.4,387.9 C147.9,388.3 151.3,390.4 154.9,391.3 C158.4,392.1 162.5,391.6 165.7,393 C169,394.4 171.3,397.8 174.3,399.9 C177.3,401.9 183.4,402.8 183.9,405.2 C184.4,407.6 178.6,412.7 177.5,414.1" fill="none" stroke="#b89a6e" stroke-width="1.1" stroke-linecap="round" stroke-linejoin="round"/><path d="M60.7,460.2 C59.1,459.3 53.1,457.4 51.2,454.6 C49.3,451.9 50.8,446.9 49.1,443.8 C47.4,440.8 43.4,439.1 40.9,436.4 C38.5,433.7 35.9,430.9 34.4,427.6 C32.9,424.3 31.6,420.3 32,416.9 C32.3,413.4 36.2,410.4 36.6,406.9 C37,403.4 35.7,399.5 34.6,396.1 C33.4,392.6 30.2,389.5 29.9,386.1 C29.6,382.7 31.1,378.7 32.7,375.5 C34.3,372.2 38.1,370 39.3,366.7 C40.6,363.4 40.6,359.3 40.1,355.7 C39.7,352.1 37.4,347 36.8,345.2" fill="none" stroke="#b89a6e" stroke-width="1.1" stroke-linecap="round" stroke-linejoin="round"/><path d="M42.6,292.5 C44,291.3 47.6,285.6 50.6,284.9 C53.7,284.3 57.5,287.5 61,288.5 C64.5,289.6 68.1,291.2 71.7,291.3 C75.3,291.3 78.8,289.1 82.4,288.9 C86,288.8 89.8,290.9 93.3,290.4 C96.8,289.9 99.9,287.1 103.4,285.9 C106.9,284.8 110.6,283.7 114.2,283.7 C117.7,283.8 121.3,285.6 124.9,286.1 C128.5,286.7 132.6,285.9 135.8,287.3 C139.1,288.6 141.3,292.4 144.4,294.1 C147.6,295.9 152.2,295.5 154.9,297.7 C157.5,299.8 159.6,305.5 160.5,307.1" fill="none" stroke="#b89a6e" stroke-width="1.1" stroke-linecap="round" stroke-linejoin="round"/><path d="M159.1,340.7 C159.8,339 162.3,334.1 163.5,330.6 C164.7,327.2 164.5,323 166.3,320 C168.1,316.9 172.5,311.7 174.1,312.2 C175.6,312.7 174.1,319.9 175.6,323.1 C177.1,326.2 181.8,328 183.1,331.2 C184.3,334.4 182.4,338.7 183.2,342.2 C184,345.7 187.4,348.7 187.8,352.2 C188.2,355.6 187.1,359.6 185.7,362.9 C184.2,366.2 181,368.7 179.4,372 C177.7,375.2 176.3,378.7 175.6,382.3 C174.9,385.8 174.1,389.9 175.1,393.3 C176,396.6 180.2,400.9 181.2,402.4" fill="none" stroke="#b89a6e" stroke-width="1.1" stroke-linecap="round" stroke-linejoin="round"/><path d="M40.8,395.6 C40.6,397.4 39.7,402.9 39.6,406.6 C39.6,410.2 40.1,413.9 40.6,417.5 C41,421.2 43,428.1 42.3,428.4 C41.5,428.7 38.1,422.3 36,419.4 C33.9,416.4 29.7,413.6 29.5,410.5 C29.3,407.4 32.2,403.3 34.6,400.7 C37,398.1 41.5,397.6 44,395.1 C46.5,392.5 48.8,389.1 49.8,385.7 C50.8,382.3 49,378 50.2,374.7 C51.3,371.4 54.1,368.2 56.8,365.9 C59.6,363.7 63.8,363.3 66.7,361.2 C69.6,359.1 73,354.5 74.2,353.1" fill="none" stroke="#b89a6e" stroke-width="1.1" stroke-linecap="round" stroke-linejoin="round"/><path d="M57.4,426.5 C58.6,425.2 61.7,420 64.8,418.4 C67.8,416.8 72.2,416.2 75.7,416.7 C79.1,417.2 82.5,419.4 85.7,421.2 C88.9,422.9 91.8,425.4 94.9,427.2 C98.1,429 101.4,431.5 104.8,432 C108.3,432.6 112.7,432.1 115.7,430.5 C118.8,428.9 120.1,424 123.1,422.4 C126.2,420.8 130.6,422.1 134,420.9 C137.4,419.7 140.2,416.7 143.5,415.3 C146.9,414 151,414.4 154.3,412.9 C157.6,411.5 160.1,408 163.4,406.9 C166.8,405.7 172.6,405.9 174.4,405.8" fill="none" stroke="#b89a6e" stroke-width="1.1" stroke-linecap="round" stroke-linejoin="round"/><path d="M124.8,338.6 C125,340.4 124.8,346.4 126.3,349.5 C127.9,352.6 131.1,355.3 134.1,357.2 C137.1,359.2 141,359.8 144.3,361.3 C147.6,362.8 151.5,363.9 154.1,366.3 C156.8,368.6 158.4,372.3 160.1,375.5 C161.8,378.7 162.5,382.6 164.4,385.6 C166.4,388.7 170.3,390.6 171.8,393.8 C173.2,397 171.8,401.4 172.9,404.7 C174.1,408.1 179,411.2 178.7,414.1 C178.4,417 174.4,420.6 171.4,422.4 C168.4,424.1 164.2,423.6 160.6,424.5 C157.1,425.3 151.8,426.9 150,427.4" fill="none" stroke="#b89a6e" stroke-width="1.1" stroke-linecap="round" stroke-linejoin="round"/>
<path d="M158.6,326.1 C160.3,325.5 165.5,322 168.9,322.2 C172.2,322.3 177.2,324.5 178.6,327.2 C180.1,329.9 177.2,334.7 177.7,338.2 C178.3,341.7 181.7,344.7 182.2,348.2 C182.7,351.7 181,357.3 180.8,359.1" fill="none" stroke="#d6ba8e" stroke-width="2.8" stroke-linecap="round" stroke-linejoin="round"/><path d="M96.1,329.3 C95,327.8 92,323.1 89.6,320.3 C87.2,317.6 84.7,314.7 81.7,312.7 C78.7,310.6 75.3,308.8 71.8,308 C68.3,307.2 64.3,308.5 60.8,307.8 C57.2,307.2 52.1,304.7 50.4,304.1" fill="none" stroke="#d6ba8e" stroke-width="2.8" stroke-linecap="round" stroke-linejoin="round"/><path d="M170.2,351.4 C170.3,349.5 170,343.9 170.9,340.4 C171.8,336.9 174.7,330.3 175.7,330.5 C176.6,330.7 176.5,337.8 176.6,341.4 C176.7,345.1 176.2,348.8 176.4,352.4 C176.6,356.1 177.5,361.5 177.7,363.4" fill="none" stroke="#d6ba8e" stroke-width="2.8" stroke-linecap="round" stroke-linejoin="round"/><path d="M47.6,305.3 C46.2,306.5 39.9,312.8 39.1,312.2 C38.3,311.7 40.7,304.6 42.9,301.9 C45.2,299.3 49,297 52.4,296.3 C55.8,295.6 60,298.5 63.3,297.7 C66.6,296.9 70.9,292.5 72.4,291.5" fill="none" stroke="#d6ba8e" stroke-width="2.8" stroke-linecap="round" stroke-linejoin="round"/><path d="M34.5,402.1 C36.2,402.6 41.8,403.5 45.1,404.9 C48.4,406.3 51.8,408.2 54.5,410.6 C57.2,412.9 59,416.3 61.3,419.2 C63.6,422 66,424.8 68.4,427.6 C70.7,430.4 74.3,434.6 75.5,436" fill="none" stroke="#d6ba8e" stroke-width="2.8" stroke-linecap="round" stroke-linejoin="round"/><path d="M136.3,419.1 C136.6,420.9 136.8,426.7 138.3,429.9 C139.8,433.1 145.7,436 145.3,438.4 C144.9,440.8 139.3,443 135.9,444.2 C132.5,445.4 128.6,445.2 125,445.9 C121.4,446.6 116.1,447.9 114.3,448.3" fill="none" stroke="#d6ba8e" stroke-width="2.8" stroke-linecap="round" stroke-linejoin="round"/>
<path d="M60.9,279.3 L58.2,279.7 L55.8,280 L54.2,280.4 L53.4,280.9 L53.7,281.6 L54.8,282.6 L56.7,283.9 L59,285.4 L61.4,287 L63.4,288.7 L64.8,290.4 L65.2,292 L64.7,293.4 L63.3,294.5 L61,295.4 L58.3,296 L55.5,296.4 L52.9,296.8 L51,297.1 L49.8,297.6 L49.7,298.2 L50.5,299.1 L52.2,300.3 L54.3,301.7 L56.7,303.3 L58.9,305 L60.6,306.7 L61.4,308.4 L61.3,309.8 L60.2,311 L58.2,312 L55.7,312.7 L52.9,313.2 L50.1,313.6 L47.9,313.9 L46.4,314.3 L45.9,314.9 L46.3,315.7 L47.6,316.7 L49.7,318 L52,319.6" fill="none" stroke="#806d51" stroke-width="4.6" stroke-linecap="round" stroke-linejoin="round" stroke-opacity="0.5"/><path d="M60.9,279.3 L58.2,279.7 L55.8,280 L54.2,280.4 L53.4,280.9 L53.7,281.6 L54.8,282.6 L56.7,283.9 L59,285.4 L61.4,287 L63.4,288.7 L64.8,290.4 L65.2,292 L64.7,293.4 L63.3,294.5 L61,295.4 L58.3,296 L55.5,296.4 L52.9,296.8 L51,297.1 L49.8,297.6 L49.7,298.2 L50.5,299.1 L52.2,300.3 L54.3,301.7 L56.7,303.3 L58.9,305 L60.6,306.7 L61.4,308.4 L61.3,309.8 L60.2,311 L58.2,312 L55.7,312.7 L52.9,313.2 L50.1,313.6 L47.9,313.9 L46.4,314.3 L45.9,314.9 L46.3,315.7 L47.6,316.7 L49.7,318 L52,319.6" fill="none" stroke="#d6b788" stroke-width="3.4" stroke-linecap="round" stroke-linejoin="round"/>
<path d="M54.3,326.5 L51.4,327.8 L48.9,328.8 L47.3,329.6 L46.7,330.2 L47.3,330.7 L49,331.1 L51.6,331.4 L54.6,331.9 L57.8,332.5 L60.6,333.4 L62.6,334.5 L63.6,335.8 L63.4,337.2 L62,338.8 L59.8,340.4 L57,341.9 L54.1,343.2 L51.5,344.3 L49.7,345.2 L48.8,345.8 L49.2,346.3 L50.6,346.7 L53,347 L56,347.5 L59.2,348 L62.1,348.8 L64.3,349.9 L65.5,351.1 L65.6,352.6 L64.5,354.1 L62.5,355.7 L59.8,357.2 L56.8,358.6 L54.1,359.8 L52.1,360.7 L51,361.4 L51.1,361.9 L52.3,362.3 L54.5,362.6 L57.4,363 L60.6,363.6 L63.6,364.3 L66,365.3 L67.5,366.5 L67.8,367.9 L66.9,369.5 L65.1,371.1 L62.5,372.6 L59.6,374 L56.8,375.2 L54.6,376.2 L53.2,376.9 L53,377.5 L54,377.9 L56,378.2 L58.8,378.6 L62,379.1 L65.1,379.8 L67.6,380.8 L69.3,381.9 L69.9,383.3 L69.3,384.8 L67.7,386.4 L65.2,387.9 L62.3,389.4 L59.5,390.6 L57.1,391.7 L55.5,392.5 L55.1,393 L55.8,393.5 L57.6,393.8 L60.3,394.2 L63.4,394.7" fill="none" stroke="#806d51" stroke-width="4.6" stroke-linecap="round" stroke-linejoin="round" stroke-opacity="0.5"/><path d="M54.3,326.5 L51.4,327.8 L48.9,328.8 L47.3,329.6 L46.7,330.2 L47.3,330.7 L49,331.1 L51.6,331.4 L54.6,331.9 L57.8,332.5 L60.6,333.4 L62.6,334.5 L63.6,335.8 L63.4,337.2 L62,338.8 L59.8,340.4 L57,341.9 L54.1,343.2 L51.5,344.3 L49.7,345.2 L48.8,345.8 L49.2,346.3 L50.6,346.7 L53,347 L56,347.5 L59.2,348 L62.1,348.8 L64.3,349.9 L65.5,351.1 L65.6,352.6 L64.5,354.1 L62.5,355.7 L59.8,357.2 L56.8,358.6 L54.1,359.8 L52.1,360.7 L51,361.4 L51.1,361.9 L52.3,362.3 L54.5,362.6 L57.4,363 L60.6,363.6 L63.6,364.3 L66,365.3 L67.5,366.5 L67.8,367.9 L66.9,369.5 L65.1,371.1 L62.5,372.6 L59.6,374 L56.8,375.2 L54.6,376.2 L53.2,376.9 L53,377.5 L54,377.9 L56,378.2 L58.8,378.6 L62,379.1 L65.1,379.8 L67.6,380.8 L69.3,381.9 L69.9,383.3 L69.3,384.8 L67.7,386.4 L65.2,387.9 L62.3,389.4 L59.5,390.6 L57.1,391.7 L55.5,392.5 L55.1,393 L55.8,393.5 L57.6,393.8 L60.3,394.2 L63.4,394.7" fill="none" stroke="#d6b788" stroke-width="3.4" stroke-linecap="round" stroke-linejoin="round"/>
<path d="M33.3,396.9 L31,398.5 L29.1,399.9 L27.9,400.9 L27.5,401.6 L28.1,401.9 L29.6,402 L31.8,402 L34.6,401.9 L37.4,402 L39.9,402.3 L41.9,403 L43,404 L43.1,405.3 L42.3,406.9 L40.7,408.7 L38.6,410.5 L36.4,412.2 L34.3,413.6 L32.8,414.8 L32.2,415.5 L32.5,416 L33.8,416.1 L35.8,416.1 L38.5,416.1 L41.3,416.1 L44,416.3 L46.1,416.9 L47.5,417.8 L47.9,419 L47.4,420.6 L46,422.3 L44,424.1 L41.7,425.8 L39.6,427.4 L37.9,428.6 L37,429.5 L37,430 L38,430.2 L39.9,430.3 L42.4,430.2 L45.2,430.2 L47.9,430.4 L50.3,430.8 L51.9,431.6 L52.6,432.8 L52.3,434.2 L51.1,435.9 L49.3,437.7 L47.1,439.5 L44.9,441.1 L43,442.4 L41.9,443.4 L41.6,444 L42.3,444.3 L44,444.4 L46.3,444.3 L49.1,444.3" fill="none" stroke="#806d51" stroke-width="4.4" stroke-linecap="round" stroke-linejoin="round" stroke-opacity="0.5"/><path d="M33.3,396.9 L31,398.5 L29.1,399.9 L27.9,400.9 L27.5,401.6 L28.1,401.9 L29.6,402 L31.8,402 L34.6,401.9 L37.4,402 L39.9,402.3 L41.9,403 L43,404 L43.1,405.3 L42.3,406.9 L40.7,408.7 L38.6,410.5 L36.4,412.2 L34.3,413.6 L32.8,414.8 L32.2,415.5 L32.5,416 L33.8,416.1 L35.8,416.1 L38.5,416.1 L41.3,416.1 L44,416.3 L46.1,416.9 L47.5,417.8 L47.9,419 L47.4,420.6 L46,422.3 L44,424.1 L41.7,425.8 L39.6,427.4 L37.9,428.6 L37,429.5 L37,430 L38,430.2 L39.9,430.3 L42.4,430.2 L45.2,430.2 L47.9,430.4 L50.3,430.8 L51.9,431.6 L52.6,432.8 L52.3,434.2 L51.1,435.9 L49.3,437.7 L47.1,439.5 L44.9,441.1 L43,442.4 L41.9,443.4 L41.6,444 L42.3,444.3 L44,444.4 L46.3,444.3 L49.1,444.3" fill="none" stroke="#d6b788" stroke-width="3.2" stroke-linecap="round" stroke-linejoin="round"/>
<path d="M75.8,312.3 L73.6,314.6 L71.6,316.6 L70.4,318.1 L70.2,319 L71,319.5 L72.8,319.5 L75.5,319.3 L78.7,319.1 L82,318.9 L85,319.1 L87.3,319.8 L88.8,320.9 L89.1,322.6 L88.4,324.8 L86.8,327.2 L84.7,329.7 L82.5,332 L80.5,334.1 L79.1,335.7 L78.6,336.8 L79.2,337.3 L80.8,337.4 L83.4,337.3 L86.5,337 L89.8,336.8 L92.9,336.9 L95.4,337.5 L97,338.5 L97.6,340.1 L97.1,342.2 L95.7,344.6 L93.7,347 L91.4,349.4 L89.3,351.6 L87.8,353.3 L87.1,354.5 L87.5,355.1 L88.9,355.3 L91.3,355.2 L94.3,354.9 L97.6,354.7 L100.8,354.8 L103.4,355.2 L105.3,356.2 L106,357.7 L105.7,359.6 L104.5,361.9 L102.6,364.4 L100.3,366.9 L98.1,369.1 L96.5,370.9 L95.6,372.2 L95.8,372.9 L97,373.2 L99.2,373.1 L102.1,372.9 L105.4,372.6 L108.7,372.6 L111.4,373 L113.4,373.8 L114.4,375.2 L114.3,377.1 L113.3,379.3 L111.5,381.8 L109.2,384.3 L107,386.5 L105.2,388.4 L104.2,389.8 L104.1,390.7 L105.2,391.1 L107.2,391 L110,390.8 L113.2,390.5 L116.5,390.5 L119.4,390.7 L121.6,391.5 L122.8,392.8 L122.9,394.6 L122,396.8 L120.3,399.2 L118.2,401.7" fill="none" stroke="#806d51" stroke-width="4.6" stroke-linecap="round" stroke-linejoin="round" stroke-opacity="0.5"/><path d="M75.8,312.3 L73.6,314.6 L71.6,316.6 L70.4,318.1 L70.2,319 L71,319.5 L72.8,319.5 L75.5,319.3 L78.7,319.1 L82,318.9 L85,319.1 L87.3,319.8 L88.8,320.9 L89.1,322.6 L88.4,324.8 L86.8,327.2 L84.7,329.7 L82.5,332 L80.5,334.1 L79.1,335.7 L78.6,336.8 L79.2,337.3 L80.8,337.4 L83.4,337.3 L86.5,337 L89.8,336.8 L92.9,336.9 L95.4,337.5 L97,338.5 L97.6,340.1 L97.1,342.2 L95.7,344.6 L93.7,347 L91.4,349.4 L89.3,351.6 L87.8,353.3 L87.1,354.5 L87.5,355.1 L88.9,355.3 L91.3,355.2 L94.3,354.9 L97.6,354.7 L100.8,354.8 L103.4,355.2 L105.3,356.2 L106,357.7 L105.7,359.6 L104.5,361.9 L102.6,364.4 L100.3,366.9 L98.1,369.1 L96.5,370.9 L95.6,372.2 L95.8,372.9 L97,373.2 L99.2,373.1 L102.1,372.9 L105.4,372.6 L108.7,372.6 L111.4,373 L113.4,373.8 L114.4,375.2 L114.3,377.1 L113.3,379.3 L111.5,381.8 L109.2,384.3 L107,386.5 L105.2,388.4 L104.2,389.8 L104.1,390.7 L105.2,391.1 L107.2,391 L110,390.8 L113.2,390.5 L116.5,390.5 L119.4,390.7 L121.6,391.5 L122.8,392.8 L122.9,394.6 L122,396.8 L120.3,399.2 L118.2,401.7" fill="none" stroke="#d6b788" stroke-width="3.4" stroke-linecap="round" stroke-linejoin="round"/>
<path d="M90,321.5 L88.3,323.9 L86.9,325.9 L86.1,327.5 L86,328.6 L86.9,329.1 L88.6,329.1 L91,328.9 L93.8,328.6 L96.8,328.3 L99.5,328.4 L101.7,328.9 L103.2,330 L103.8,331.6 L103.5,333.6 L102.5,336 L101,338.5 L99.3,340.9 L97.8,343.1 L96.8,344.8 L96.5,346 L97.2,346.6 L98.6,346.8 L100.9,346.6 L103.6,346.3 L106.6,346 L109.4,346 L111.8,346.4 L113.5,347.3 L114.3,348.8 L114.2,350.7 L113.4,353 L111.9,355.5 L110.3,358 L108.7,360.2 L107.6,362.1 L107.1,363.4 L107.5,364.2 L108.8,364.4 L110.9,364.3 L113.5,364 L116.5,363.7 L119.4,363.6 L121.9,363.9 L123.7,364.7 L124.8,366 L124.9,367.8 L124.2,370.1 L122.9,372.5 L121.3,375 L119.7,377.4 L118.4,379.3 L117.8,380.8 L117.9,381.7 L119,382.1 L120.9,382 L123.4,381.7 L126.3,381.4 L129.2,381.2 L131.9,381.4 L133.9,382.1 L135.2,383.3 L135.5,385 L135,387.1 L133.9,389.6 L132.3,392.1" fill="none" stroke="#806d51" stroke-width="4.6" stroke-linecap="round" stroke-linejoin="round" stroke-opacity="0.5"/><path d="M90,321.5 L88.3,323.9 L86.9,325.9 L86.1,327.5 L86,328.6 L86.9,329.1 L88.6,329.1 L91,328.9 L93.8,328.6 L96.8,328.3 L99.5,328.4 L101.7,328.9 L103.2,330 L103.8,331.6 L103.5,333.6 L102.5,336 L101,338.5 L99.3,340.9 L97.8,343.1 L96.8,344.8 L96.5,346 L97.2,346.6 L98.6,346.8 L100.9,346.6 L103.6,346.3 L106.6,346 L109.4,346 L111.8,346.4 L113.5,347.3 L114.3,348.8 L114.2,350.7 L113.4,353 L111.9,355.5 L110.3,358 L108.7,360.2 L107.6,362.1 L107.1,363.4 L107.5,364.2 L108.8,364.4 L110.9,364.3 L113.5,364 L116.5,363.7 L119.4,363.6 L121.9,363.9 L123.7,364.7 L124.8,366 L124.9,367.8 L124.2,370.1 L122.9,372.5 L121.3,375 L119.7,377.4 L118.4,379.3 L117.8,380.8 L117.9,381.7 L119,382.1 L120.9,382 L123.4,381.7 L126.3,381.4 L129.2,381.2 L131.9,381.4 L133.9,382.1 L135.2,383.3 L135.5,385 L135,387.1 L133.9,389.6 L132.3,392.1" fill="none" stroke="#d6b788" stroke-width="3.4" stroke-linecap="round" stroke-linejoin="round"/>
<path d="M160.7,353.7 L161.1,355.5 L161.4,357 L161.8,358.1 L162.3,358.6 L162.9,358.5 L163.7,357.8 L164.6,356.6 L165.7,355.1 L166.9,353.6 L168.1,352.3 L169.4,351.5 L170.5,351.2 L171.5,351.6 L172.4,352.5 L173.1,354 L173.7,355.8 L174.1,357.6 L174.5,359.3 L174.8,360.6 L175.3,361.3 L175.8,361.4 L176.5,360.9 L177.4,359.9 L178.4,358.5 L179.6,357 L180.8,355.6 L182,354.6 L183.2,354.1 L184.3,354.2 L185.2,354.9 L186,356.2 L186.6,357.8 L187.1,359.7 L187.5,361.5 L187.9,362.9 L188.3,363.9 L188.8,364.3 L189.4,364 L190.2,363.2 L191.2,361.9 L192.3,360.4" fill="none" stroke="#806d51" stroke-width="3.6" stroke-linecap="round" stroke-linejoin="round" stroke-opacity="0.5"/><path d="M160.7,353.7 L161.1,355.5 L161.4,357 L161.8,358.1 L162.3,358.6 L162.9,358.5 L163.7,357.8 L164.6,356.6 L165.7,355.1 L166.9,353.6 L168.1,352.3 L169.4,351.5 L170.5,351.2 L171.5,351.6 L172.4,352.5 L173.1,354 L173.7,355.8 L174.1,357.6 L174.5,359.3 L174.8,360.6 L175.3,361.3 L175.8,361.4 L176.5,360.9 L177.4,359.9 L178.4,358.5 L179.6,357 L180.8,355.6 L182,354.6 L183.2,354.1 L184.3,354.2 L185.2,354.9 L186,356.2 L186.6,357.8 L187.1,359.7 L187.5,361.5 L187.9,362.9 L188.3,363.9 L188.8,364.3 L189.4,364 L190.2,363.2 L191.2,361.9 L192.3,360.4" fill="none" stroke="#d6b788" stroke-width="2.4" stroke-linecap="round" stroke-linejoin="round"/>
<path d="M105.9,278.2 L169.4,391.2" fill="none" stroke="#806d51" stroke-width="4" stroke-linecap="round" stroke-linejoin="round" stroke-opacity="0.5"/><path d="M105.9,278.2 L169.4,391.2" fill="none" stroke="#d6b788" stroke-width="3" stroke-linecap="round" stroke-linejoin="round" stroke-opacity="1"/>
<path d="M115.3,287.6 L178.8,388.8" fill="none" stroke="#806d51" stroke-width="4" stroke-linecap="round" stroke-linejoin="round" stroke-opacity="0.5"/><path d="M115.3,287.6 L178.8,388.8" fill="none" stroke="#d6b788" stroke-width="3" stroke-linecap="round" stroke-linejoin="round" stroke-opacity="1"/>
<path d="M124.7,301.8 L164.7,395.9" fill="none" stroke="#806d51" stroke-width="4" stroke-linecap="round" stroke-linejoin="round" stroke-opacity="0.5"/><path d="M124.7,301.8 L164.7,395.9" fill="none" stroke="#d6b788" stroke-width="3" stroke-linecap="round" stroke-linejoin="round" stroke-opacity="1"/>
<path d="M75.3,381.8 L108.2,482.9" fill="none" stroke="#806d51" stroke-width="4" stroke-linecap="round" stroke-linejoin="round" stroke-opacity="0.5"/><path d="M75.3,381.8 L108.2,482.9" fill="none" stroke="#d6b788" stroke-width="3" stroke-linecap="round" stroke-linejoin="round" stroke-opacity="1"/>
<path d="M61.2,400.6 L84.7,480.6" fill="none" stroke="#806d51" stroke-width="4" stroke-linecap="round" stroke-linejoin="round" stroke-opacity="0.5"/><path d="M61.2,400.6 L84.7,480.6" fill="none" stroke="#d6b788" stroke-width="3" stroke-linecap="round" stroke-linejoin="round" stroke-opacity="1"/>
<path d="M103.5,280.6 C105.9,279.8 114.5,274.3 117.6,275.9 C120.8,277.5 121.6,287.6 122.4,290" fill="none" stroke="#806d51" stroke-width="4.2" stroke-linecap="round" stroke-linejoin="round" stroke-opacity="0.5"/><path d="M103.5,280.6 C105.9,279.8 114.5,274.3 117.6,275.9 C120.8,277.5 121.6,287.6 122.4,290" fill="none" stroke="#d6b788" stroke-width="3.2" stroke-linecap="round" stroke-linejoin="round" stroke-opacity="1"/>
<path d="M136.5,304.1 C138.8,303.3 149,296.7 150.6,299.4 C152.2,302.2 143.5,317.5 145.9,320.6 C148.2,323.7 160.8,317.1 164.7,318.2 C168.6,319.4 171.8,323.3 169.4,327.6 C167.1,332 155.3,335.1 150.6,344.1 C145.9,353.1 138.8,373.1 141.2,381.8 C143.5,390.4 159.2,394.3 164.7,395.9 C170.2,397.5 171.8,394.3 174.1,391.2 C176.5,388 175.7,380.2 178.8,377.1 C182,373.9 190.6,373.1 192.9,372.4" fill="none" stroke="#d6b788" stroke-width="1.6" stroke-linecap="round" stroke-linejoin="round" stroke-opacity="1"/>
<path d="M70.6,367.6 C72.9,364.5 80,350 84.7,348.8 C89.4,347.6 98,355.1 98.8,360.6 C99.6,366.1 87.8,375.9 89.4,381.8 C91,387.6 102,394.3 108.2,395.9 C114.5,397.5 121.6,388 127.1,391.2 C132.5,394.3 140.4,408.4 141.2,414.7 C142,421 136.9,427.3 131.8,428.8 C126.7,430.4 116.1,422.5 110.6,424.1 C105.1,425.7 97.6,433.5 98.8,438.2 C100,442.9 112.2,448.4 117.6,452.4 C123.1,456.3 131,457.8 131.8,461.8 C132.5,465.7 123.9,473.5 122.4,475.9" fill="none" stroke="#d6b788" stroke-width="1.6" stroke-linecap="round" stroke-linejoin="round" stroke-opacity="1"/>
<path d="M47.1,442.9 C49,445.3 54.9,455.5 58.8,457.1 C62.7,458.6 67.1,451.6 70.6,452.4 C74.1,453.1 74.5,457.1 80,461.8 C85.5,466.5 99.6,477.5 103.5,480.6" fill="none" stroke="#d6b788" stroke-width="1.6" stroke-linecap="round" stroke-linejoin="round" stroke-opacity="1"/>
<path d="M141.2,381.8 C144.3,383.3 154.5,386.5 160,391.2 C165.5,395.9 173.3,403.7 174.1,410 C174.9,416.3 170.2,426.5 164.7,428.8 C159.2,431.2 146.7,422.5 141.2,424.1 C135.7,425.7 134.9,433.5 131.8,438.2 C128.6,442.9 123.9,450 122.4,452.4" fill="none" stroke="#d6b788" stroke-width="1.5" stroke-linecap="round" stroke-linejoin="round" stroke-opacity="1"/>
<g opacity="1"><g fill="#dde8dc" filter="url(#shade)"><path d="M343.9,78.8 L351,81.5 L360.8,83.2 L370.3,89.6 L381.8,92.1 L393.1,93.4 L402.6,97 L409.7,103.4 L416.4,110.5 L417,120.9 L422.3,129.3 L422.7,139.1 L422.2,148.9 L418.3,156.6 L408.6,158.9 L401.1,168.4 L392.3,176.8 L386.4,186.9 L377.6,194.7 L372.6,205.3 L368.1,216.5 L364.7,228.3 L364.7,240.2 L363.6,250.7 L361.2,257.5 L355.6,259.7 L347.1,261.1 L338.3,263.1 L334.3,257.7 L329.4,251.5 L321.7,243.5 L322.1,231.8 L317.9,221.9 L311.8,212.4 L311.3,201.4 L311,190.6 L308.5,180.2 L308.4,169.5 L305.8,158.7 L305.6,147.9 L306.6,137.4 L311.3,128.3 L315.8,120 L321.4,111.2 L329.8,103 L334.3,92 L339.7,84.3Z"/><circle cx="343.7" cy="77.9" r="7.9"/><circle cx="350.8" cy="82.3" r="9.6"/><circle cx="360.8" cy="83.4" r="7.6"/><circle cx="370.5" cy="89" r="9.7"/><circle cx="382.3" cy="90.6" r="7.9"/><circle cx="393.7" cy="91.7" r="5.8"/><circle cx="402.7" cy="96.9" r="5.9"/><circle cx="411" cy="102" r="7"/><circle cx="416.3" cy="110.6" r="6"/><circle cx="417.5" cy="120.8" r="10.7"/><circle cx="424.1" cy="129" r="7.2"/><circle cx="423.7" cy="139.2" r="7.3"/><circle cx="423.1" cy="149.1" r="6.4"/><circle cx="417.8" cy="156.3" r="7.1"/><circle cx="409.3" cy="159.9" r="11.3"/><circle cx="400.7" cy="167.9" r="7"/><circle cx="393.4" cy="177.8" r="7.4"/><circle cx="387.2" cy="187.5" r="5.5"/><circle cx="378.4" cy="195.3" r="8.3"/><circle cx="373.3" cy="205.7" r="6.7"/><circle cx="369.3" cy="216.9" r="5.5"/><circle cx="365.7" cy="228.4" r="6"/><circle cx="366.7" cy="240.2" r="5.8"/><circle cx="365.4" cy="250.9" r="7.3"/><circle cx="362.1" cy="258.1" r="9"/><circle cx="355.8" cy="260.2" r="10"/><circle cx="347.1" cy="260.6" r="9.8"/><circle cx="338" cy="264.7" r="7.8"/><circle cx="332.1" cy="260.1" r="11.4"/><circle cx="328.8" cy="251.8" r="9.8"/><circle cx="321.9" cy="243.4" r="5.8"/><circle cx="321.4" cy="232" r="10.9"/><circle cx="318" cy="221.8" r="9.9"/><circle cx="311.1" cy="212.6" r="6.3"/><circle cx="311.5" cy="201.4" r="8.5"/><circle cx="311.2" cy="190.6" r="10.3"/><circle cx="309" cy="180.2" r="9"/><circle cx="308" cy="169.5" r="9.6"/><circle cx="303.5" cy="158.7" r="6.9"/><circle cx="304.5" cy="147.8" r="6.3"/><circle cx="306.8" cy="137.4" r="6.1"/><circle cx="310.7" cy="128.1" r="8.9"/><circle cx="315.5" cy="119.8" r="9.3"/><circle cx="319" cy="109.5" r="8.4"/><circle cx="329.7" cy="102.9" r="10.3"/><circle cx="333.5" cy="91.6" r="8.5"/><circle cx="337.4" cy="82.2" r="9.5"/></g></g>
<g opacity="1"><g fill="#eae5df" filter="url(#shade)"><path d="M329.6,269.6 L336.7,261.7 L345.8,262.4 L353.1,263.7 L361.4,266.7 L369.1,273 L375.5,281.5 L383.4,288.8 L392.8,295.1 L397.8,305.4 L406,313 L415.8,319.2 L421.6,329.4 L429.9,336.9 L438.7,343.5 L447.2,350.8 L451.5,356.1 L449.9,355.9 L447.8,365.3 L437,369.4 L430.2,378.1 L422.8,386.1 L414.3,392.9 L405.8,399.8 L394.3,403 L385.9,410.5 L376.6,417.8 L370.6,429.6 L364.9,439.4 L361.2,449.2 L352.8,456.5 L347.6,466.1 L340.1,473.6 L334,482.1 L323.9,483.7 L316,485.8 L307,486.1 L296.6,488.1 L287,483 L276.3,483.8 L266.7,480.7 L257.7,476.5 L250.7,469 L243.6,461.4 L238.2,452.2 L231.2,443.8 L227.3,433.6 L221.6,426.6 L222,418.3 L221.8,409 L224,399.1 L227.1,389.6 L228.9,379.8 L236.3,375.8 L242.2,370.8 L251.8,368.8 L263.2,371.8 L275.7,368.2 L288.7,360.5 L292.4,346.2 L292.9,333.9 L293.7,322.7 L295.5,312.8 L294.5,303.7 L297.8,294.9 L304.7,287.5 L311.6,279.7 L320.6,274.5Z"/><circle cx="328.4" cy="267.6" r="9.9"/><circle cx="336.2" cy="260.4" r="5.9"/><circle cx="345.6" cy="259.9" r="9.9"/><circle cx="352.8" cy="264.5" r="9.9"/><circle cx="362.2" cy="265.5" r="8.5"/><circle cx="369.3" cy="272.8" r="8.4"/><circle cx="376.1" cy="281" r="10.1"/><circle cx="385.6" cy="286.8" r="9.4"/><circle cx="393.9" cy="294.1" r="6.4"/><circle cx="399.3" cy="304" r="10"/><circle cx="408.2" cy="310.9" r="8.9"/><circle cx="416.7" cy="318.3" r="5.9"/><circle cx="421.9" cy="329.1" r="9.5"/><circle cx="431.3" cy="335.3" r="9.6"/><circle cx="439.5" cy="342.6" r="8.6"/><circle cx="448.8" cy="348.9" r="8.3"/><circle cx="454.1" cy="355" r="10.9"/><circle cx="449.2" cy="355.6" r="11.4"/><circle cx="448.4" cy="365.9" r="5.6"/><circle cx="436.4" cy="368.8" r="10.4"/><circle cx="431.4" cy="379.5" r="8.2"/><circle cx="422.4" cy="385.7" r="6.8"/><circle cx="414.6" cy="393.3" r="6.8"/><circle cx="406.2" cy="400.4" r="6.4"/><circle cx="396.3" cy="405.6" r="11.2"/><circle cx="386.7" cy="411.5" r="10.4"/><circle cx="376.9" cy="418.1" r="10.8"/><circle cx="370.3" cy="429.4" r="6.9"/><circle cx="367.4" cy="440.8" r="8.4"/><circle cx="361.8" cy="449.6" r="5.5"/><circle cx="354.2" cy="457.6" r="8.2"/><circle cx="348.6" cy="466.9" r="6.3"/><circle cx="339.9" cy="473.5" r="7.4"/><circle cx="334" cy="482.1" r="5.5"/><circle cx="325.3" cy="486.5" r="10.5"/><circle cx="316" cy="486.1" r="11.1"/><circle cx="306.9" cy="488.5" r="10.9"/><circle cx="296.4" cy="489.4" r="7.7"/><circle cx="286.8" cy="484" r="11.5"/><circle cx="275.9" cy="485" r="7.7"/><circle cx="265.7" cy="482.8" r="7.2"/><circle cx="257.8" cy="476.3" r="6.1"/><circle cx="251.1" cy="468.7" r="7.2"/><circle cx="242.4" cy="462.4" r="7"/><circle cx="236.4" cy="453.5" r="8.6"/><circle cx="231.7" cy="443.4" r="7.7"/><circle cx="227.5" cy="433.5" r="10.8"/><circle cx="222.1" cy="426.4" r="9.3"/><circle cx="220.8" cy="418.3" r="11.1"/><circle cx="218.7" cy="408.5" r="9.8"/><circle cx="222.6" cy="398.7" r="9.9"/><circle cx="226.5" cy="389.4" r="10"/><circle cx="226.9" cy="378.6" r="7.2"/><circle cx="234.3" cy="373.2" r="11.1"/><circle cx="241.8" cy="369.2" r="8.3"/><circle cx="251.8" cy="368.6" r="7.3"/><circle cx="262.9" cy="369.1" r="11.4"/><circle cx="275.1" cy="366.3" r="9.4"/><circle cx="287.6" cy="359.5" r="8.8"/><circle cx="290.7" cy="345.8" r="6.5"/><circle cx="293.3" cy="333.9" r="6.7"/><circle cx="291.5" cy="322.8" r="8.5"/><circle cx="296.6" cy="312.8" r="10.9"/><circle cx="292.3" cy="302.9" r="8.2"/><circle cx="296.1" cy="293.8" r="6.7"/><circle cx="303" cy="285.9" r="7.6"/><circle cx="310.5" cy="278.5" r="6.9"/><circle cx="320.9" cy="274.9" r="8.9"/></g></g>
<g opacity="0.8"><g fill="#e7b8b8" filter="url(#shade)"><path d="M385.8,244.9 L389.8,244.5 L398.6,247.5 L408.7,250.6 L414.7,260 L423.3,264.2 L426.6,272.9 L433.1,280.9 L435,291 L433,300.6 L432.8,307.6 L431.5,315.1 L421.9,312.4 L412.7,314.4 L404.1,314.1 L400.2,307.7 L397.7,299.8 L390.5,291.2 L390.1,280 L390.1,268.9 L386.8,258.7 L384.9,249.2Z"/><circle cx="384.8" cy="243.6" r="10"/><circle cx="389.9" cy="243.6" r="8"/><circle cx="399.2" cy="246" r="7.8"/><circle cx="409.4" cy="249.4" r="5.9"/><circle cx="416.7" cy="257.4" r="11.3"/><circle cx="423.7" cy="263.8" r="8.5"/><circle cx="429" cy="271.7" r="10.7"/><circle cx="434.7" cy="280.4" r="7.1"/><circle cx="436.1" cy="290.8" r="7.9"/><circle cx="432.7" cy="300.6" r="11.2"/><circle cx="436.1" cy="309.2" r="10.7"/><circle cx="431.6" cy="315.3" r="5.7"/><circle cx="422.1" cy="313.9" r="10.9"/><circle cx="412.4" cy="317.6" r="9"/><circle cx="404.4" cy="313.6" r="7.8"/><circle cx="400.5" cy="307.5" r="10.5"/><circle cx="395.1" cy="300.7" r="11.3"/><circle cx="388.8" cy="291.6" r="6.2"/><circle cx="389.8" cy="280.1" r="8.6"/><circle cx="389.8" cy="268.9" r="11.1"/><circle cx="386.8" cy="258.7" r="9.4"/><circle cx="384.1" cy="249.1" r="8.2"/></g></g>
<g opacity="0.8"><g fill="#edcbe9" filter="url(#shade)"><path d="M391.2,169 L399.6,166.1 L409.3,167.3 L420.1,164.6 L432.2,166.9 L443.6,161.2 L455,158.9 L464.2,154.3 L472.3,154.1 L480,155.5 L483.9,163.7 L488.5,170.7 L494.4,178.7 L491.9,189.3 L496,199.6 L495,210.3 L494.9,220.9 L492.1,230.6 L491.6,240.2 L485.6,246.8 L476.9,250.6 L467.6,254.2 L458.3,259.1 L447.5,259.4 L437.2,262.5 L427,267.7 L416,269.4 L405.1,270.3 L394.8,273.2 L384.8,271.3 L376.1,272.9 L371.2,267.3 L368.9,258.7 L368.1,248.5 L373.3,238.3 L373.7,227.6 L376.5,217.2 L374.8,206 L380.6,196.7 L383.8,187 L386.9,177.4Z"/><circle cx="391.2" cy="169" r="5.7"/><circle cx="399.7" cy="166.5" r="6.9"/><circle cx="409.2" cy="165.4" r="9.4"/><circle cx="420" cy="163.1" r="6.3"/><circle cx="432.2" cy="166.6" r="9.3"/><circle cx="442.9" cy="159.4" r="6.2"/><circle cx="454.7" cy="158.2" r="8.6"/><circle cx="463.6" cy="152.4" r="7.8"/><circle cx="472.6" cy="150.9" r="9.1"/><circle cx="480.6" cy="154.6" r="7.3"/><circle cx="484.4" cy="163.3" r="11.3"/><circle cx="489.8" cy="170.1" r="10.8"/><circle cx="496.1" cy="178.3" r="6.9"/><circle cx="492.3" cy="189.3" r="11.3"/><circle cx="498.5" cy="199.5" r="7.3"/><circle cx="495.4" cy="210.3" r="8.5"/><circle cx="496.8" cy="221.1" r="8"/><circle cx="491.5" cy="230.5" r="9.5"/><circle cx="493.6" cy="241.3" r="6.9"/><circle cx="486.5" cy="247.7" r="7.5"/><circle cx="478.1" cy="252.7" r="9.6"/><circle cx="467.7" cy="254.3" r="10.3"/><circle cx="459" cy="261.2" r="8.5"/><circle cx="448" cy="261.7" r="11.3"/><circle cx="437.7" cy="265" r="10.4"/><circle cx="427" cy="267.7" r="6.8"/><circle cx="415.9" cy="268.8" r="7.3"/><circle cx="405.5" cy="272.5" r="8.5"/><circle cx="394.9" cy="274.3" r="6.8"/><circle cx="384.9" cy="270.6" r="9.5"/><circle cx="375.5" cy="273.9" r="6.4"/><circle cx="371.7" cy="267" r="6.8"/><circle cx="366.8" cy="259" r="6.4"/><circle cx="367.1" cy="248.5" r="5.9"/><circle cx="373.8" cy="238.3" r="10.9"/><circle cx="374.7" cy="227.7" r="9.9"/><circle cx="374.3" cy="216.8" r="11.1"/><circle cx="375.2" cy="206.1" r="6.6"/><circle cx="377.4" cy="195.6" r="10"/><circle cx="382.2" cy="186.3" r="9.5"/><circle cx="385.6" cy="176.6" r="7.7"/></g></g>
<path d="M379,145.7 C379.7,144.4 381.1,139.6 383.2,137.7 C385.2,135.8 388.9,135.7 391.4,134.1 C394,132.6 396,130.2 398.4,128.5 C400.9,126.8 404.3,123.4 406.2,124 C408.2,124.6 409.2,129.2 410.1,132.1 C411,134.9 412.1,138.1 411.6,140.9 C411.2,143.8 409.3,146.6 407.6,149 C405.9,151.4 402.5,152.8 401.3,155.4 C400.1,158 401.5,161.7 400.4,164.4 C399.3,167 395.7,170.2 394.8,171.4" fill="none" stroke="#86b886" stroke-width="1.2" stroke-linecap="round" stroke-linejoin="round"/><path d="M372.6,140.2 C372.4,141.6 371.9,146.1 371.3,149.1 C370.7,152 370.5,155.4 368.9,157.7 C367.3,160.1 364.3,161.9 361.6,163.1 C359,164.3 355.7,165.5 352.9,165.2 C350.1,164.8 347.4,162.6 344.8,161.2 C342.2,159.7 339.5,158.3 337.2,156.4 C335,154.4 333.1,152 331.3,149.5 C329.6,147.1 328.6,144.1 326.7,141.8 C324.7,139.6 319.7,138.3 319.6,136.3 C319.5,134.3 324.9,131 325.9,129.9" fill="none" stroke="#86b886" stroke-width="1.2" stroke-linecap="round" stroke-linejoin="round"/><path d="M343.9,214.8 C345.4,214.7 350.1,215.2 352.9,214.3 C355.6,213.3 357.6,210.2 360.3,209.2 C363,208.2 368.6,207.2 369.3,208.3 C369.9,209.4 365.3,213.1 364.4,215.8 C363.4,218.6 364.2,221.9 363.5,224.8 C362.7,227.6 361.1,230.3 359.8,233 C358.5,235.7 357.4,238.6 355.7,241 C354,243.4 351.9,246.1 349.4,247.5 C346.9,248.8 343,249.8 340.5,248.9 C338.1,248 335.6,243.3 334.6,242.2" fill="none" stroke="#86b886" stroke-width="1.2" stroke-linecap="round" stroke-linejoin="round"/><path d="M365.1,155.8 C365.2,154.3 365.9,149.8 365.7,146.8 C365.5,143.9 364.7,140.9 363.7,138.1 C362.8,135.2 361.1,132.6 360.1,129.8 C359.1,127 358.8,123.9 357.5,121.2 C356.3,118.5 354,116.3 352.5,113.7 C351,111.1 349.8,108.4 348.6,105.6 C347.4,102.9 344.3,98.8 345.2,97.3 C346.2,95.8 351.2,96.6 354.2,96.8 C357.2,97 360.1,97.9 363,98.6 C365.9,99.3 370.3,100.5 371.7,100.8" fill="none" stroke="#86b886" stroke-width="1.2" stroke-linecap="round" stroke-linejoin="round"/><path d="M348.4,159.4 C346.9,159.3 342,160.1 339.4,159.1 C336.7,158 334.8,155.2 332.5,153.2 C330.3,151.2 328.2,149 325.8,147.2 C323.5,145.4 319,144.5 318.3,142.3 C317.6,140 320,136.2 321.9,134 C323.7,131.8 327.4,131.2 329.4,129.1 C331.4,127 332.2,123.8 333.8,121.2 C335.3,118.7 337.3,116.3 338.7,113.7 C340,111 341.1,108.1 341.7,105.2 C342.4,102.3 342.4,97.7 342.6,96.3" fill="none" stroke="#86b886" stroke-width="1.2" stroke-linecap="round" stroke-linejoin="round"/><path d="M348.5,121.2 C349.9,121.6 354.6,122.3 357.1,123.7 C359.7,125.2 361.9,127.5 363.9,129.7 C365.8,132 366.9,135.1 369.1,137.1 C371.3,139 374.6,139.6 377,141.4 C379.3,143.2 380.8,146.6 383.3,147.8 C385.8,149.1 389.2,148.7 392.2,148.9 C395.2,149.1 398.4,148.1 401.2,148.8 C404.1,149.4 408.7,150.9 409.2,152.9 C409.8,154.9 406.1,158 404.6,160.6 C403.1,163.3 401.1,167.3 400.4,168.6" fill="none" stroke="#86b886" stroke-width="1.2" stroke-linecap="round" stroke-linejoin="round"/><path d="M365.8,183.6 C367.2,184.1 372.5,184.5 374.4,186.4 C376.3,188.3 377.9,192.8 377,195 C376.2,197.2 372,198.3 369.3,199.5 C366.6,200.7 363.4,201.1 360.7,202.3 C358,203.5 355.8,206 353,206.9 C350.2,207.8 346.9,208.2 344,207.9 C341.1,207.5 338.3,205.9 335.6,204.6 C333,203.3 329.7,202.2 327.9,200 C326.1,197.9 326.5,193.7 324.6,191.6 C322.7,189.6 318,188.2 316.6,187.5" fill="none" stroke="#86b886" stroke-width="1.2" stroke-linecap="round" stroke-linejoin="round"/>
<path d="M335,132.4 L330.5,133.8 L326.7,134.8 L324.2,135.6 L323.3,136.2 L324.2,136.6 L326.7,136.9 L330.6,137.3 L335.2,137.8 L339.8,138.5 L343.9,139.4 L346.7,140.7 L347.9,142.1 L347.3,143.8 L345.1,145.5 L341.5,147.2 L337.1,148.8 L332.6,150.1 L328.7,151.2 L326,152.1 L324.8,152.7 L325.5,153.1 L327.9,153.4 L331.6,153.8 L336.1,154.2 L340.8,154.9 L345,155.8 L348,157 L349.4,158.5 L349,160.1 L347,161.8 L343.5,163.5 L339.2,165.1 L334.7,166.5 L330.6,167.6 L327.7,168.5 L326.4,169.1 L326.8,169.6 L329,169.9 L332.6,170.2 L337.1,170.7 L341.8,171.3 L346,172.2 L349.2,173.4 L350.8,174.8 L350.7,176.4 L348.8,178.1 L345.5,179.8 L341.3,181.4 L336.7,182.9 L332.6,184 L329.6,184.9 L328,185.6 L328.2,186.1 L330.2,186.4 L333.6,186.7 L338,187.2 L342.7,187.8 L347.1,188.6 L350.4,189.7 L352.3,191.1 L352.4,192.7 L350.7,194.4 L347.5,196.1 L343.4,197.8 L338.8,199.2 L334.6,200.4 L331.4,201.4 L329.6,202.1 L329.6,202.5 L331.4,202.9 L334.6,203.2 L339,203.6 L343.7,204.2 L348.1,205 L351.6,206.1 L353.7,207.5 L354,209 L352.5,210.7 L349.5,212.4 L345.4,214.1 L340.9,215.6 L336.6,216.8 L333.3,217.8 L331.3,218.5 L331.1,219 L332.6,219.4 L335.7,219.7 L339.9,220.1 L344.6,220.6 L349.1,221.4 L352.8,222.5 L355,223.8 L355.6,225.3 L354.3,227 L351.5,228.8 L347.5,230.4 L343,231.9 L338.7,233.2 L335.1,234.2 L333,235 L332.5,235.5 L333.8,235.8 L336.8,236.2 L340.9,236.5 L345.5,237.1 L350.1,237.8 L353.9,238.9 L356.4,240.2 L357.1,241.7 L356.1,243.3 L353.5,245.1 L349.6,246.7 L345.1,248.3 L340.7,249.6 L337,250.6 L334.7,251.4 L334,251.9 L335.1,252.3 L337.9,252.6 L341.8,253 L346.5,253.5 L351.1,254.3 L355,255.2 L357.7,256.5 L358.7,258 L357.9,259.7 L355.4,261.4 L351.7,263.1 L347.2,264.6" fill="none" stroke="#547353" stroke-width="4.2" stroke-linecap="round" stroke-linejoin="round" stroke-opacity="0.5"/><path d="M335,132.4 L330.5,133.8 L326.7,134.8 L324.2,135.6 L323.3,136.2 L324.2,136.6 L326.7,136.9 L330.6,137.3 L335.2,137.8 L339.8,138.5 L343.9,139.4 L346.7,140.7 L347.9,142.1 L347.3,143.8 L345.1,145.5 L341.5,147.2 L337.1,148.8 L332.6,150.1 L328.7,151.2 L326,152.1 L324.8,152.7 L325.5,153.1 L327.9,153.4 L331.6,153.8 L336.1,154.2 L340.8,154.9 L345,155.8 L348,157 L349.4,158.5 L349,160.1 L347,161.8 L343.5,163.5 L339.2,165.1 L334.7,166.5 L330.6,167.6 L327.7,168.5 L326.4,169.1 L326.8,169.6 L329,169.9 L332.6,170.2 L337.1,170.7 L341.8,171.3 L346,172.2 L349.2,173.4 L350.8,174.8 L350.7,176.4 L348.8,178.1 L345.5,179.8 L341.3,181.4 L336.7,182.9 L332.6,184 L329.6,184.9 L328,185.6 L328.2,186.1 L330.2,186.4 L333.6,186.7 L338,187.2 L342.7,187.8 L347.1,188.6 L350.4,189.7 L352.3,191.1 L352.4,192.7 L350.7,194.4 L347.5,196.1 L343.4,197.8 L338.8,199.2 L334.6,200.4 L331.4,201.4 L329.6,202.1 L329.6,202.5 L331.4,202.9 L334.6,203.2 L339,203.6 L343.7,204.2 L348.1,205 L351.6,206.1 L353.7,207.5 L354,209 L352.5,210.7 L349.5,212.4 L345.4,214.1 L340.9,215.6 L336.6,216.8 L333.3,217.8 L331.3,218.5 L331.1,219 L332.6,219.4 L335.7,219.7 L339.9,220.1 L344.6,220.6 L349.1,221.4 L352.8,222.5 L355,223.8 L355.6,225.3 L354.3,227 L351.5,228.8 L347.5,230.4 L343,231.9 L338.7,233.2 L335.1,234.2 L333,235 L332.5,235.5 L333.8,235.8 L336.8,236.2 L340.9,236.5 L345.5,237.1 L350.1,237.8 L353.9,238.9 L356.4,240.2 L357.1,241.7 L356.1,243.3 L353.5,245.1 L349.6,246.7 L345.1,248.3 L340.7,249.6 L337,250.6 L334.7,251.4 L334,251.9 L335.1,252.3 L337.9,252.6 L341.8,253 L346.5,253.5 L351.1,254.3 L355,255.2 L357.7,256.5 L358.7,258 L357.9,259.7 L355.4,261.4 L351.7,263.1 L347.2,264.6" fill="none" stroke="#8cc18b" stroke-width="3" stroke-linecap="round" stroke-linejoin="round"/>
<path d="M374.1,108.1 L369.3,109.4 L365.1,110.4 L362.4,111.2 L361.4,111.8 L362.3,112.2 L365,112.6 L369.1,113.1 L374.1,113.7 L379.1,114.5 L383.5,115.6 L386.6,117 L387.9,118.6 L387.3,120.3 L384.8,122.1 L380.9,123.8 L376.2,125.4 L371.3,126.7 L367,127.8 L363.9,128.6 L362.6,129.2 L363.2,129.7 L365.7,130.1 L369.6,130.5 L374.5,131.1 L379.5,131.9 L384.1,132.9 L387.4,134.3 L389,135.8 L388.7,137.5 L386.6,139.3 L382.9,141.1 L378.2,142.7 L373.3,144.1 L368.9,145.2 L365.6,146.1 L363.9,146.7 L364.2,147.2 L366.4,147.6 L370.1,148 L374.8,148.5 L379.9,149.3 L384.6,150.3 L388.2,151.6 L390.1,153.1 L390.1,154.8 L388.3,156.6 L384.8,158.3 L380.3,160 L375.3,161.4 L370.8,162.6 L367.2,163.5 L365.3,164.2 L365.2,164.6 L367.1,165 L370.6,165.4 L375.2,166 L380.3,166.7 L385.1,167.7 L388.9,168.9 L391.1,170.4 L391.5,172 L389.9,173.8 L386.7,175.6 L382.3,177.2 L377.4,178.7 L372.7,179.9 L368.9,180.9 L366.7,181.6 L366.3,182.1 L367.9,182.5 L371.1,182.9 L375.6,183.4 L380.7,184.1 L385.6,185 L389.6,186.2 L392.1,187.7 L392.8,189.3 L391.5,191.1 L388.6,192.8 L384.3,194.5 L379.4,196 L374.6,197.3 L370.7,198.3 L368.2,199 L367.5,199.6 L368.7,200 L371.7,200.4 L376.1,200.9 L381.1,201.5 L386,202.4 L390.2,203.5 L393,204.9 L394,206.6 L393.1,208.3 L390.4,210.1 L386.3,211.8 L381.5,213.3" fill="none" stroke="#547353" stroke-width="4.2" stroke-linecap="round" stroke-linejoin="round" stroke-opacity="0.5"/><path d="M374.1,108.1 L369.3,109.4 L365.1,110.4 L362.4,111.2 L361.4,111.8 L362.3,112.2 L365,112.6 L369.1,113.1 L374.1,113.7 L379.1,114.5 L383.5,115.6 L386.6,117 L387.9,118.6 L387.3,120.3 L384.8,122.1 L380.9,123.8 L376.2,125.4 L371.3,126.7 L367,127.8 L363.9,128.6 L362.6,129.2 L363.2,129.7 L365.7,130.1 L369.6,130.5 L374.5,131.1 L379.5,131.9 L384.1,132.9 L387.4,134.3 L389,135.8 L388.7,137.5 L386.6,139.3 L382.9,141.1 L378.2,142.7 L373.3,144.1 L368.9,145.2 L365.6,146.1 L363.9,146.7 L364.2,147.2 L366.4,147.6 L370.1,148 L374.8,148.5 L379.9,149.3 L384.6,150.3 L388.2,151.6 L390.1,153.1 L390.1,154.8 L388.3,156.6 L384.8,158.3 L380.3,160 L375.3,161.4 L370.8,162.6 L367.2,163.5 L365.3,164.2 L365.2,164.6 L367.1,165 L370.6,165.4 L375.2,166 L380.3,166.7 L385.1,167.7 L388.9,168.9 L391.1,170.4 L391.5,172 L389.9,173.8 L386.7,175.6 L382.3,177.2 L377.4,178.7 L372.7,179.9 L368.9,180.9 L366.7,181.6 L366.3,182.1 L367.9,182.5 L371.1,182.9 L375.6,183.4 L380.7,184.1 L385.6,185 L389.6,186.2 L392.1,187.7 L392.8,189.3 L391.5,191.1 L388.6,192.8 L384.3,194.5 L379.4,196 L374.6,197.3 L370.7,198.3 L368.2,199 L367.5,199.6 L368.7,200 L371.7,200.4 L376.1,200.9 L381.1,201.5 L386,202.4 L390.2,203.5 L393,204.9 L394,206.6 L393.1,208.3 L390.4,210.1 L386.3,211.8 L381.5,213.3" fill="none" stroke="#8cc18b" stroke-width="3" stroke-linecap="round" stroke-linejoin="round"/>
<path d="M396.2,107.5 L393.4,109.1 L391.1,110.4 L389.5,111.6 L389,112.5 L389.6,113.2 L391.3,113.8 L393.9,114.3 L397,114.8 L400.2,115.5 L403,116.4 L405.2,117.5 L406.3,118.8 L406.2,120.4 L405.1,122.1 L403.1,123.9 L400.4,125.7 L397.6,127.3 L395.1,128.8 L393.2,130 L392.3,131 L392.5,131.8 L393.9,132.4 L396.2,132.9 L399.2,133.4 L402.4,134 L405.4,134.8 L407.8,135.9 L409.3,137.1 L409.6,138.6 L408.9,140.3 L407.1,142.1 L404.6,143.8 L401.8,145.5 L399.1,147.1 L397,148.4 L395.7,149.5 L395.6,150.3 L396.6,151 L398.6,151.5 L401.4,152 L404.6,152.6 L407.7,153.3 L410.4,154.3 L412.2,155.5 L412.9,156.9 L412.5,158.5 L411,160.2 L408.7,162 L406,163.8" fill="none" stroke="#547353" stroke-width="4.2" stroke-linecap="round" stroke-linejoin="round" stroke-opacity="0.5"/><path d="M396.2,107.5 L393.4,109.1 L391.1,110.4 L389.5,111.6 L389,112.5 L389.6,113.2 L391.3,113.8 L393.9,114.3 L397,114.8 L400.2,115.5 L403,116.4 L405.2,117.5 L406.3,118.8 L406.2,120.4 L405.1,122.1 L403.1,123.9 L400.4,125.7 L397.6,127.3 L395.1,128.8 L393.2,130 L392.3,131 L392.5,131.8 L393.9,132.4 L396.2,132.9 L399.2,133.4 L402.4,134 L405.4,134.8 L407.8,135.9 L409.3,137.1 L409.6,138.6 L408.9,140.3 L407.1,142.1 L404.6,143.8 L401.8,145.5 L399.1,147.1 L397,148.4 L395.7,149.5 L395.6,150.3 L396.6,151 L398.6,151.5 L401.4,152 L404.6,152.6 L407.7,153.3 L410.4,154.3 L412.2,155.5 L412.9,156.9 L412.5,158.5 L411,160.2 L408.7,162 L406,163.8" fill="none" stroke="#8cc18b" stroke-width="3" stroke-linecap="round" stroke-linejoin="round"/>
<path d="M349.5,89.4 C351.2,91 361,95.9 359.3,99.2 C357.7,102.4 341,103.2 339.7,109 C338.5,114.7 346.7,133.8 352,133.4 C357.3,133 364.2,110.6 371.6,106.5 C378.9,102.4 392.8,105.3 396,109 C399.3,112.6 392,125.3 391.2,128.5" fill="none" stroke="#8cc18b" stroke-width="1.8" stroke-linecap="round" stroke-linejoin="round" stroke-opacity="1"/>
<path d="M310.4,165.3 C313.2,164.9 323,161.2 327.5,162.8 C332,164.4 334,167.7 337.3,175.1 C340.6,182.4 345.5,201.6 347.1,206.9" fill="none" stroke="#8cc18b" stroke-width="2" stroke-linecap="round" stroke-linejoin="round" stroke-opacity="1"/>
<path d="M371.6,106.5 C374,115.1 382.2,144.5 386.3,157.9 C390.3,171.4 394.4,182.4 396,187.3" fill="none" stroke="#7e9a7e" stroke-width="1.2" stroke-linecap="round" stroke-linejoin="round" stroke-opacity="1"/>
<path d="M356.9,197.1 C361,196.3 374.8,190.6 381.4,192.2 C387.9,193.8 395.2,202 396,206.9 C396.9,211.8 391.2,217.5 386.3,221.6 C381.4,225.6 371.6,228.9 366.7,231.4 C361.8,233.8 358.5,235.4 356.9,236.3" fill="none" stroke="#9dbf9a" stroke-width="2.2" stroke-linecap="round" stroke-linejoin="round" stroke-opacity="1"/>
<path d="M408.5,180.8 L409.9,183.5 L410.2,186.1 L409.5,188.1 L408.1,189.1 L406.4,189.1 L404.7,187.8 L403.6,185.6 L403.3,182.5 L404.1,179.2 L406.1,175.9 L409,173.2 L412.7,171.4 L416.7,170.7 L420.8,171.2 L424.3,172.7 L427.1,175 L428.8,177.7 L429.3,180.4 L428.9,182.6 L427.6,183.9 L425.9,184.1 L424.2,183.2 L422.9,181.1 L422.4,178.3 L422.9,174.9 L424.5,171.6 L427.2,168.7 L430.8,166.7 L434.8,165.7 L438.9,165.9 L442.6,167.1 L445.5,169.3 L447.5,171.9 L448.4,174.7 L448.1,177 L447,178.6 L445.4,179.1 L443.7,178.4 L442.2,176.6 L441.5,173.9 L441.7,170.7 L443.1,167.3 L445.5,164.3 L448.9,162 L452.8,160.7 L456.9,160.6 L460.8,161.6 L464,163.6 L466.2,166.2 L467.3,168.9 L467.3,171.4 L466.4,173.2 L464.9,174 L463.1,173.6 L461.6,172.1 L460.7,169.6 L460.6,166.5 L461.7,163.1 L463.9,159.9 L467.1,157.4 L470.9,155.8 L475,155.4 L478.9,156.2 L482.3,158 L484.8,160.4" fill="none" stroke="#770f61" stroke-width="5.2" stroke-linecap="round" stroke-linejoin="round" stroke-opacity="0.5"/><path d="M408.5,180.8 L409.9,183.5 L410.2,186.1 L409.5,188.1 L408.1,189.1 L406.4,189.1 L404.7,187.8 L403.6,185.6 L403.3,182.5 L404.1,179.2 L406.1,175.9 L409,173.2 L412.7,171.4 L416.7,170.7 L420.8,171.2 L424.3,172.7 L427.1,175 L428.8,177.7 L429.3,180.4 L428.9,182.6 L427.6,183.9 L425.9,184.1 L424.2,183.2 L422.9,181.1 L422.4,178.3 L422.9,174.9 L424.5,171.6 L427.2,168.7 L430.8,166.7 L434.8,165.7 L438.9,165.9 L442.6,167.1 L445.5,169.3 L447.5,171.9 L448.4,174.7 L448.1,177 L447,178.6 L445.4,179.1 L443.7,178.4 L442.2,176.6 L441.5,173.9 L441.7,170.7 L443.1,167.3 L445.5,164.3 L448.9,162 L452.8,160.7 L456.9,160.6 L460.8,161.6 L464,163.6 L466.2,166.2 L467.3,168.9 L467.3,171.4 L466.4,173.2 L464.9,174 L463.1,173.6 L461.6,172.1 L460.7,169.6 L460.6,166.5 L461.7,163.1 L463.9,159.9 L467.1,157.4 L470.9,155.8 L475,155.4 L478.9,156.2 L482.3,158 L484.8,160.4" fill="none" stroke="#c71aa3" stroke-width="4" stroke-linecap="round" stroke-linejoin="round"/>
<path d="M421.8,217.2 L423.3,219.8 L423.7,222.4 L423,224.6 L421.5,225.9 L419.6,226.1 L417.6,225.2 L416,223.1 L415.1,220.3 L415.3,216.9 L416.6,213.5 L419,210.6 L422.2,208.4 L426,207.3 L429.8,207.4 L433.3,208.6 L436.1,210.6 L437.9,213.2 L438.5,215.9 L438.1,218.2 L436.8,219.7 L434.9,220.2 L432.9,219.6 L431.2,217.8 L430.1,215.1 L430,211.8 L431,208.4 L433.1,205.3 L436.2,202.9 L439.8,201.6 L443.7,201.3 L447.3,202.3 L450.3,204.1 L452.4,206.6 L453.3,209.3 L453.1,211.7 L452,213.5 L450.3,214.3 L448.2,213.9 L446.4,212.4 L445.1,209.9 L444.8,206.8 L445.5,203.3 L447.3,200.1 L450.2,197.5 L453.7,195.9 L457.6,195.3 L461.3,196 L464.5,197.6 L466.8,200 L468,202.7 L468.1,205.2 L467.2,207.2 L465.6,208.3 L463.6,208.2 L461.6,207 L460.2,204.7 L459.6,201.7 L460,198.3 L461.6,194.9 L464.2,192.2 L467.6,190.2 L471.4,189.4 L475.2,189.8 L478.6,191.2 L481.1,193.4" fill="none" stroke="#770f61" stroke-width="5.2" stroke-linecap="round" stroke-linejoin="round" stroke-opacity="0.5"/><path d="M421.8,217.2 L423.3,219.8 L423.7,222.4 L423,224.6 L421.5,225.9 L419.6,226.1 L417.6,225.2 L416,223.1 L415.1,220.3 L415.3,216.9 L416.6,213.5 L419,210.6 L422.2,208.4 L426,207.3 L429.8,207.4 L433.3,208.6 L436.1,210.6 L437.9,213.2 L438.5,215.9 L438.1,218.2 L436.8,219.7 L434.9,220.2 L432.9,219.6 L431.2,217.8 L430.1,215.1 L430,211.8 L431,208.4 L433.1,205.3 L436.2,202.9 L439.8,201.6 L443.7,201.3 L447.3,202.3 L450.3,204.1 L452.4,206.6 L453.3,209.3 L453.1,211.7 L452,213.5 L450.3,214.3 L448.2,213.9 L446.4,212.4 L445.1,209.9 L444.8,206.8 L445.5,203.3 L447.3,200.1 L450.2,197.5 L453.7,195.9 L457.6,195.3 L461.3,196 L464.5,197.6 L466.8,200 L468,202.7 L468.1,205.2 L467.2,207.2 L465.6,208.3 L463.6,208.2 L461.6,207 L460.2,204.7 L459.6,201.7 L460,198.3 L461.6,194.9 L464.2,192.2 L467.6,190.2 L471.4,189.4 L475.2,189.8 L478.6,191.2 L481.1,193.4" fill="none" stroke="#c71aa3" stroke-width="4" stroke-linecap="round" stroke-linejoin="round"/>
<path d="M431.3,253.2 L433.4,255.5 L434.3,257.9 L434.1,260.1 L433,261.6 L431.2,262.2 L429.1,261.6 L427.2,259.8 L425.9,257.1 L425.5,253.7 L426.3,250.1 L428.1,246.7 L431,244 L434.5,242.2 L438.4,241.5 L442.1,241.9 L445.3,243.4 L447.6,245.5 L448.8,248 L448.9,250.3 L447.9,252 L446.3,252.8 L444.2,252.5 L442.3,251 L440.8,248.5 L440.2,245.3 L440.6,241.7 L442.2,238.2 L444.8,235.3 L448.2,233.2 L452,232.2 L455.8,232.4 L459.2,233.6 L461.7,235.6 L463.2,238.1 L463.6,240.4 L462.9,242.3 L461.4,243.4 L459.4,243.4 L457.3,242.2 L455.7,239.9 L454.8,236.8 L455,233.3 L456.3,229.7 L458.7,226.6 L461.9,224.3 L465.7,223 L469.5,222.9 L473,223.9 L475.8,225.8 L477.6,228.1 L478.2,230.6 L477.8,232.6 L476.4,233.9 L474.5,234.2 L472.4,233.3 L470.7,231.3 L469.6,228.3 L469.5,224.9 L470.5,221.3 L472.6,218 L475.6,215.5 L479.3,213.9 L483.2,213.5 L486.8,214.2 L489.8,215.9" fill="none" stroke="#770f61" stroke-width="5.2" stroke-linecap="round" stroke-linejoin="round" stroke-opacity="0.5"/><path d="M431.3,253.2 L433.4,255.5 L434.3,257.9 L434.1,260.1 L433,261.6 L431.2,262.2 L429.1,261.6 L427.2,259.8 L425.9,257.1 L425.5,253.7 L426.3,250.1 L428.1,246.7 L431,244 L434.5,242.2 L438.4,241.5 L442.1,241.9 L445.3,243.4 L447.6,245.5 L448.8,248 L448.9,250.3 L447.9,252 L446.3,252.8 L444.2,252.5 L442.3,251 L440.8,248.5 L440.2,245.3 L440.6,241.7 L442.2,238.2 L444.8,235.3 L448.2,233.2 L452,232.2 L455.8,232.4 L459.2,233.6 L461.7,235.6 L463.2,238.1 L463.6,240.4 L462.9,242.3 L461.4,243.4 L459.4,243.4 L457.3,242.2 L455.7,239.9 L454.8,236.8 L455,233.3 L456.3,229.7 L458.7,226.6 L461.9,224.3 L465.7,223 L469.5,222.9 L473,223.9 L475.8,225.8 L477.6,228.1 L478.2,230.6 L477.8,232.6 L476.4,233.9 L474.5,234.2 L472.4,233.3 L470.7,231.3 L469.6,228.3 L469.5,224.9 L470.5,221.3 L472.6,218 L475.6,215.5 L479.3,213.9 L483.2,213.5 L486.8,214.2 L489.8,215.9" fill="none" stroke="#c71aa3" stroke-width="4" stroke-linecap="round" stroke-linejoin="round"/>
<path d="M477.5,162.4 C478.9,163.8 485.1,166.6 485.9,170.8 C486.8,175.1 481.4,182.7 482.5,187.8 C483.7,192.9 494.1,198 492.7,201.4 C491.3,204.7 477.2,207 474.1,208.1" fill="none" stroke="#c71aa3" stroke-width="2" stroke-linecap="round" stroke-linejoin="round" stroke-opacity="1"/>
<path d="M377.5,225.1 C378.9,224.5 382.5,223.4 385.9,221.7 C389.3,220 394.7,213.8 397.8,214.9 C400.9,216 402.9,222.3 404.6,228.5 C406.3,234.7 406.3,244.9 408,252.2 C409.7,259.5 411.6,266.3 414.7,272.5 C417.9,278.8 424.1,284.9 426.6,289.5 C429.2,294.1 429.4,298.2 430,300" fill="none" stroke="#c71aa3" stroke-width="2" stroke-linecap="round" stroke-linejoin="round" stroke-opacity="1"/>
<path d="M379.2,228.5 C380.6,228.8 385.1,231 387.6,230.2 C390.2,229.3 392.1,223.1 394.4,223.4 C396.7,223.7 400.6,227.1 401.2,231.9 C401.8,236.7 400.1,246.8 397.8,252.2 C395.5,257.6 389.3,260.1 387.6,264.1 C385.9,268 387.6,274 387.6,275.9" fill="none" stroke="#c71aa3" stroke-width="2" stroke-linecap="round" stroke-linejoin="round" stroke-opacity="1"/>
<path d="M384.2,238.6 C384,240.3 384.2,246 382.5,248.8 C380.8,251.6 375.5,254.5 374.1,255.6" fill="none" stroke="#e3141a" stroke-width="2.4" stroke-linecap="round" stroke-linejoin="round" stroke-opacity="1"/>
<path d="M373.6,256.3 L370.4,259.2 L367.6,261.5 L365.8,263.1 L365.2,263.9 L366,264 L368.2,263.4 L371.6,262.4 L375.6,261.2 L379.8,260.3 L383.7,259.8 L386.7,259.9 L388.5,260.9 L388.8,262.6 L387.8,265 L385.6,267.9 L382.6,270.9 L379.4,273.8 L376.5,276.2 L374.4,278.1 L373.4,279.1 L373.9,279.3 L375.8,278.9 L378.9,277.9 L382.8,276.8 L387.1,275.8 L391.1,275.1 L394.3,275.1 L396.4,275.9 L397.2,277.4 L396.5,279.7 L394.5,282.4 L391.7,285.4 L388.5,288.4 L385.4,291 L383.1,293 L381.8,294.2 L381.9,294.6 L383.5,294.3 L386.3,293.5 L390.1,292.4 L394.3,291.3 L398.4,290.5 L401.9,290.3 L404.3,290.9 L405.4,292.3 L405,294.3 L403.4,297 L400.7,300 L397.5,303 L394.4,305.7 L391.8,307.8 L390.3,309.3 L390,309.9 L391.2,309.8 L393.7,309.1 L397.3,308 L401.5,306.9 L405.6,306 L409.3,305.6 L412.1,306 L413.5,307.1 L413.5,309.1 L412.1,311.6 L409.7,314.5 L406.6,317.5" fill="none" stroke="#880c0f" stroke-width="5.6" stroke-linecap="round" stroke-linejoin="round" stroke-opacity="0.5"/><path d="M373.6,256.3 L370.4,259.2 L367.6,261.5 L365.8,263.1 L365.2,263.9 L366,264 L368.2,263.4 L371.6,262.4 L375.6,261.2 L379.8,260.3 L383.7,259.8 L386.7,259.9 L388.5,260.9 L388.8,262.6 L387.8,265 L385.6,267.9 L382.6,270.9 L379.4,273.8 L376.5,276.2 L374.4,278.1 L373.4,279.1 L373.9,279.3 L375.8,278.9 L378.9,277.9 L382.8,276.8 L387.1,275.8 L391.1,275.1 L394.3,275.1 L396.4,275.9 L397.2,277.4 L396.5,279.7 L394.5,282.4 L391.7,285.4 L388.5,288.4 L385.4,291 L383.1,293 L381.8,294.2 L381.9,294.6 L383.5,294.3 L386.3,293.5 L390.1,292.4 L394.3,291.3 L398.4,290.5 L401.9,290.3 L404.3,290.9 L405.4,292.3 L405,294.3 L403.4,297 L400.7,300 L397.5,303 L394.4,305.7 L391.8,307.8 L390.3,309.3 L390,309.9 L391.2,309.8 L393.7,309.1 L397.3,308 L401.5,306.9 L405.6,306 L409.3,305.6 L412.1,306 L413.5,307.1 L413.5,309.1 L412.1,311.6 L409.7,314.5 L406.6,317.5" fill="none" stroke="#e3141a" stroke-width="4.4" stroke-linecap="round" stroke-linejoin="round"/>
<path d="M409.7,269.2 C411.1,271.1 415.6,275.9 418.1,281 C420.7,286.2 423.8,296.8 424.9,300" fill="none" stroke="#e3141a" stroke-width="1.8" stroke-linecap="round" stroke-linejoin="round" stroke-opacity="1"/>
<path d="M418.1,279.4 L430.3,303.9" fill="none" stroke="#e3141a" stroke-width="1.8" stroke-linecap="round" stroke-linejoin="round" stroke-opacity="1"/>
<path d="M331.4,409 C329.8,408.1 325.2,404.1 321.8,403.6 C318.4,403.2 314.6,404.9 311.1,406.1 C307.6,407.2 304,408.5 301,410.5 C298,412.5 296.1,416.2 293,418 C289.9,419.8 286,420.6 282.4,421.1 C278.8,421.6 275.1,421.4 271.4,421.1 C267.8,420.8 264.1,420.1 260.5,419.4 C257,418.7 253.3,418.1 249.9,416.8 C246.5,415.5 243.6,412.5 240.1,411.7 C236.7,411 230.4,413.9 229.1,412.3 C227.8,410.6 230.5,404.8 232.3,401.7 C234.1,398.7 238.7,395.2 240,393.9" fill="none" stroke="#b89a6e" stroke-width="1.1" stroke-linecap="round" stroke-linejoin="round"/><path d="M377.2,342.2 C375.4,342.3 369.4,341.6 366.3,343.1 C363.2,344.6 360.1,347.9 358.7,351.1 C357.2,354.2 358.9,358.8 357.5,362 C356.1,365.2 352.7,367.5 350.2,370.2 C347.8,372.9 344.3,375.2 342.8,378.3 C341.3,381.5 343,386.2 341.4,389.3 C339.8,392.3 336.3,395.2 333.1,396.5 C329.9,397.7 325.4,395.8 322.1,396.9 C318.8,398.1 316,401.1 313.2,403.4 C310.4,405.7 306.9,407.8 305.1,410.8 C303.2,413.8 302.5,417.7 302,421.3 C301.5,424.9 302,430.5 302,432.3" fill="none" stroke="#b89a6e" stroke-width="1.1" stroke-linecap="round" stroke-linejoin="round"/><path d="M363.1,306 C361.6,305 357.2,301.2 353.8,300.1 C350.4,299 346.2,300.4 342.8,299.3 C339.4,298.2 336.7,295.3 333.4,293.6 C330.2,292 323.8,291.5 323.3,289.4 C322.8,287.3 327.8,283.6 330.4,281 C332.9,278.4 335.5,274.5 338.6,273.7 C341.8,272.9 346.6,274.3 349.3,276.3 C352,278.4 352,283.7 354.6,286 C357.2,288.2 361.8,288 364.9,289.9 C368,291.7 371.6,294 373.3,297 C375,300 375.8,304.5 375.1,307.8 C374.5,311.2 370.3,315.7 369.4,317.2" fill="none" stroke="#b89a6e" stroke-width="1.1" stroke-linecap="round" stroke-linejoin="round"/><path d="M372.2,346.2 C370.7,347.2 366.3,350.6 363,352.2 C359.7,353.7 355.4,353.6 352.5,355.6 C349.6,357.6 347.3,361 345.6,364.1 C344,367.3 343.2,371.1 342.6,374.7 C341.9,378.3 342.1,382 341.8,385.7 C341.5,389.3 341.9,393.3 340.7,396.6 C339.6,400 336.9,402.9 334.9,406 C333,409.1 329.8,411.9 329.1,415.3 C328.4,418.7 331.1,422.6 330.8,426.2 C330.4,429.7 328.2,433.1 327.2,436.6 C326.2,440.1 325.6,443.7 324.7,447.3 C323.8,450.9 322.4,456.2 321.9,457.9" fill="none" stroke="#b89a6e" stroke-width="1.1" stroke-linecap="round" stroke-linejoin="round"/><path d="M312.8,432.9 C314.2,434.1 317.9,438.5 321.1,440.1 C324.2,441.8 328.4,441.4 331.8,442.7 C335.1,444.1 337.9,447.7 341.3,448.3 C344.6,448.9 348.7,447.7 352.1,446.5 C355.5,445.3 361.3,440.7 361.8,441.2 C362.2,441.7 357.3,447.1 354.7,449.7 C352.1,452.2 349.2,454.7 346.1,456.5 C342.9,458.2 339.1,458.8 335.7,460.2 C332.3,461.5 328.5,462.4 325.6,464.5 C322.7,466.5 321.3,471 318.2,472.7 C315.2,474.3 311,473.8 307.4,474.5 C303.8,475.1 298.4,476.3 296.6,476.7" fill="none" stroke="#b89a6e" stroke-width="1.1" stroke-linecap="round" stroke-linejoin="round"/><path d="M428.4,347.8 C428.5,349.7 429.6,355.5 428.5,358.8 C427.5,362.2 423.1,364.5 422.3,367.9 C421.4,371.2 425.3,376.9 423.7,378.8 C422.1,380.7 416.3,379.9 412.7,379.3 C409.2,378.8 405.9,376.3 402.4,375.5 C398.9,374.6 395.1,373.9 391.5,374.2 C387.9,374.4 383.6,375 380.9,377.1 C378.1,379.1 375.7,383 375,386.4 C374.2,389.7 376.2,393.6 376.3,397.3 C376.5,400.9 377.1,405.1 375.7,408.3 C374.4,411.4 371.1,414.7 368,416.1 C364.9,417.5 358.9,416.5 357,416.6" fill="none" stroke="#b89a6e" stroke-width="1.1" stroke-linecap="round" stroke-linejoin="round"/><path d="M337.7,276.9 C336.3,278 332.4,282.3 329.2,283.8 C325.9,285.3 318.3,285.7 318.4,285.8 C318.4,286 325.9,285.7 329.3,284.5 C332.7,283.4 335.6,280.8 338.8,279 C342,277.3 345.3,273.9 348.5,273.9 C351.8,273.9 355.2,277 358.3,279 C361.3,281 365,283 366.9,285.9 C368.8,288.8 369.9,293.1 369.6,296.5 C369.4,300 367.5,303.9 365.2,306.6 C362.9,309.2 358.3,309.9 355.9,312.5 C353.5,315 351.8,318.7 350.6,322.1 C349.4,325.5 348.9,331.1 348.6,332.9" fill="none" stroke="#b89a6e" stroke-width="1.1" stroke-linecap="round" stroke-linejoin="round"/><path d="M284,414.4 C282.6,413.3 277.4,410.5 275.4,407.6 C273.4,404.7 273.3,400.6 271.9,397.2 C270.5,393.8 269.3,390.1 267.2,387.2 C265,384.3 261.9,382.1 259,379.8 C256.2,377.5 249.9,373.9 250.2,373.2 C250.6,372.5 257.4,374.7 261,375.6 C264.5,376.6 268.1,377.5 271.4,379 C274.8,380.4 278.7,381.7 281.1,384.2 C283.5,386.7 285.5,390.7 285.8,394.2 C286.2,397.6 284.7,401.6 283.1,404.8 C281.6,408.1 278.6,410.6 276.6,413.6 C274.6,416.7 272,421.6 271.1,423.2" fill="none" stroke="#b89a6e" stroke-width="1.1" stroke-linecap="round" stroke-linejoin="round"/><path d="M399.3,392.9 C398.6,394.6 397.4,401.6 394.9,403 C392.3,404.3 387.6,401.7 384.1,400.8 C380.5,399.9 377,397.4 373.6,397.6 C370.1,397.8 367.1,401.2 363.6,402.2 C360.1,403.2 356.1,404.1 352.6,403.5 C349.2,402.8 345.6,400.6 342.9,398.3 C340.2,396 337.6,392.8 336.4,389.4 C335.3,386.1 335.1,381.8 336,378.5 C336.9,375.1 339.9,372.3 342,369.2 C344.1,366.2 345.8,362.7 348.5,360.3 C351.2,358 355.1,357.1 358.1,355 C361.1,352.9 365.2,349.2 366.6,348" fill="none" stroke="#b89a6e" stroke-width="1.1" stroke-linecap="round" stroke-linejoin="round"/>
<path d="M332.9,409 C332,407.4 328.2,402.9 327.5,399.4 C326.7,396 327.5,391.9 328.4,388.5 C329.4,385 332.6,382.1 333.3,378.6 C334.1,375.2 333.7,371.1 332.9,367.6 C332,364.2 328.8,359.4 327.9,357.8" fill="none" stroke="#d6ba8e" stroke-width="2.8" stroke-linecap="round" stroke-linejoin="round"/><path d="M327.6,355.4 C329.5,355.6 334.9,356.3 338.6,356.7 C342.2,357 345.9,357.5 349.5,357.4 C353.2,357.2 357.1,356.9 360.4,355.6 C363.8,354.3 366.5,351.4 369.7,349.7 C372.9,348 378.1,346 379.7,345.2" fill="none" stroke="#d6ba8e" stroke-width="2.8" stroke-linecap="round" stroke-linejoin="round"/><path d="M327.1,346.6 C325.4,346.1 320.2,343.2 316.7,343.2 C313.2,343.2 309.1,347.6 306.3,346.8 C303.5,345.9 300.7,341.2 299.7,337.9 C298.8,334.6 299.9,330.6 300.5,327 C301.2,323.4 303.2,318.2 303.7,316.4" fill="none" stroke="#d6ba8e" stroke-width="2.8" stroke-linecap="round" stroke-linejoin="round"/><path d="M369.3,372.6 C370.9,373.5 375.9,375.8 378.9,377.9 C381.8,380.1 384.2,383 387,385.3 C389.9,387.7 396,390 395.9,391.9 C395.7,393.8 388.7,394.5 386.1,396.9 C383.4,399.2 380.8,404.4 379.8,405.9" fill="none" stroke="#d6ba8e" stroke-width="2.8" stroke-linecap="round" stroke-linejoin="round"/><path d="M346.8,307.3 C347,305.5 348.4,300 348.1,296.4 C347.8,292.8 343.6,288.1 344.8,285.9 C346.1,283.7 352.6,282.4 355.5,283.4 C358.5,284.4 361.1,288.7 362.5,292 C363.9,295.2 363.6,301.1 363.8,302.9" fill="none" stroke="#d6ba8e" stroke-width="2.8" stroke-linecap="round" stroke-linejoin="round"/><path d="M357.8,311.7 C359.1,313 363.2,316.8 365.4,319.6 C367.7,322.5 369.7,325.6 371.5,328.8 C373.3,332 374.9,335.3 376.4,338.7 C377.9,342 378.4,346.1 380.6,348.8 C382.8,351.5 388.2,353.9 389.8,354.9" fill="none" stroke="#d6ba8e" stroke-width="2.8" stroke-linecap="round" stroke-linejoin="round"/>
<path d="M330.7,277.9 L328.9,280.5 L327.4,282.7 L326.5,284.3 L326.3,285.2 L327.1,285.4 L328.7,285 L331.1,284.1 L334,283.1 L337.1,282.1 L339.9,281.4 L342.3,281.3 L344,281.9 L344.8,283.3 L344.6,285.3 L343.7,287.8 L342.2,290.5 L340.4,293.2 L338.8,295.6 L337.6,297.5 L337.1,298.7 L337.4,299.2 L338.7,299 L340.8,298.2 L343.6,297.2 L346.6,296.1 L349.6,295.3 L352.2,295 L354.2,295.3 L355.3,296.4 L355.5,298.1 L354.9,300.4 L353.6,303.1 L351.9,305.8 L350.2,308.4 L348.7,310.5 L347.9,312 L347.9,312.8 L348.9,312.8 L350.7,312.3 L353.2,311.3 L356.1,310.3" fill="none" stroke="#806d51" stroke-width="4.6" stroke-linecap="round" stroke-linejoin="round" stroke-opacity="0.5"/><path d="M330.7,277.9 L328.9,280.5 L327.4,282.7 L326.5,284.3 L326.3,285.2 L327.1,285.4 L328.7,285 L331.1,284.1 L334,283.1 L337.1,282.1 L339.9,281.4 L342.3,281.3 L344,281.9 L344.8,283.3 L344.6,285.3 L343.7,287.8 L342.2,290.5 L340.4,293.2 L338.8,295.6 L337.6,297.5 L337.1,298.7 L337.4,299.2 L338.7,299 L340.8,298.2 L343.6,297.2 L346.6,296.1 L349.6,295.3 L352.2,295 L354.2,295.3 L355.3,296.4 L355.5,298.1 L354.9,300.4 L353.6,303.1 L351.9,305.8 L350.2,308.4 L348.7,310.5 L347.9,312 L347.9,312.8 L348.9,312.8 L350.7,312.3 L353.2,311.3 L356.1,310.3" fill="none" stroke="#d6b788" stroke-width="3.4" stroke-linecap="round" stroke-linejoin="round"/>
<path d="M313.2,319.8 L310.4,321.9 L307.9,323.7 L306.3,325.1 L305.8,326 L306.6,326.4 L308.6,326.6 L311.5,326.6 L315.1,326.6 L318.7,326.7 L322,327.2 L324.5,328.1 L325.9,329.4 L326,331.2 L324.8,333.3 L322.7,335.7 L319.9,338 L317,340.1 L314.4,342 L312.6,343.4 L311.9,344.4 L312.4,345 L314.2,345.2 L317,345.2 L320.5,345.2 L324.1,345.3 L327.5,345.7 L330.2,346.5 L331.8,347.7 L332.2,349.4 L331.3,351.5 L329.3,353.8 L326.6,356.1 L323.7,358.3 L321,360.3 L319,361.8 L318.1,362.9 L318.3,363.5 L319.9,363.8 L322.5,363.8 L325.9,363.8 L329.5,363.8 L333,364.2 L335.9,364.9 L337.7,366.1 L338.3,367.7 L337.7,369.7 L335.9,371.9 L333.3,374.3 L330.4,376.5 L327.6,378.5 L325.5,380.1 L324.3,381.3 L324.3,382 L325.6,382.4 L328,382.4 L331.3,382.4 L334.9,382.4 L338.5,382.7 L341.5,383.3 L343.6,384.4 L344.4,385.9 L344,387.9 L342.4,390.1 L340,392.4 L337.1,394.7 L334.3,396.7 L332,398.5 L330.6,399.7 L330.3,400.5 L331.4,400.9 L333.6,401 L336.7,401 L340.3,401 L343.9,401.2 L347.1,401.8 L349.3,402.7 L350.5,404.2 L350.3,406 L348.9,408.2 L346.7,410.5 L343.8,412.8" fill="none" stroke="#806d51" stroke-width="4.6" stroke-linecap="round" stroke-linejoin="round" stroke-opacity="0.5"/><path d="M313.2,319.8 L310.4,321.9 L307.9,323.7 L306.3,325.1 L305.8,326 L306.6,326.4 L308.6,326.6 L311.5,326.6 L315.1,326.6 L318.7,326.7 L322,327.2 L324.5,328.1 L325.9,329.4 L326,331.2 L324.8,333.3 L322.7,335.7 L319.9,338 L317,340.1 L314.4,342 L312.6,343.4 L311.9,344.4 L312.4,345 L314.2,345.2 L317,345.2 L320.5,345.2 L324.1,345.3 L327.5,345.7 L330.2,346.5 L331.8,347.7 L332.2,349.4 L331.3,351.5 L329.3,353.8 L326.6,356.1 L323.7,358.3 L321,360.3 L319,361.8 L318.1,362.9 L318.3,363.5 L319.9,363.8 L322.5,363.8 L325.9,363.8 L329.5,363.8 L333,364.2 L335.9,364.9 L337.7,366.1 L338.3,367.7 L337.7,369.7 L335.9,371.9 L333.3,374.3 L330.4,376.5 L327.6,378.5 L325.5,380.1 L324.3,381.3 L324.3,382 L325.6,382.4 L328,382.4 L331.3,382.4 L334.9,382.4 L338.5,382.7 L341.5,383.3 L343.6,384.4 L344.4,385.9 L344,387.9 L342.4,390.1 L340,392.4 L337.1,394.7 L334.3,396.7 L332,398.5 L330.6,399.7 L330.3,400.5 L331.4,400.9 L333.6,401 L336.7,401 L340.3,401 L343.9,401.2 L347.1,401.8 L349.3,402.7 L350.5,404.2 L350.3,406 L348.9,408.2 L346.7,410.5 L343.8,412.8" fill="none" stroke="#d6b788" stroke-width="3.4" stroke-linecap="round" stroke-linejoin="round"/>
<path d="M347.7,329.5 L345.1,332 L343,334.1 L341.5,335.7 L341.2,336.6 L342,336.9 L343.9,336.8 L346.8,336.3 L350.3,335.8 L353.9,335.4 L357.2,335.3 L359.8,335.8 L361.4,336.9 L361.8,338.6 L361,340.8 L359.3,343.4 L356.9,346 L354.3,348.6 L352,350.8 L350.4,352.5 L349.7,353.6 L350.2,354 L351.9,354 L354.6,353.6 L358,353 L361.6,352.6 L365,352.4 L367.8,352.8 L369.7,353.7 L370.4,355.2 L369.9,357.3 L368.3,359.8 L366.1,362.5 L363.5,365.1 L361.1,367.4 L359.3,369.2 L358.3,370.5 L358.6,371.1 L360,371.2 L362.4,370.9 L365.7,370.3 L369.3,369.8 L372.8,369.5 L375.8,369.7 L377.9,370.5 L378.9,371.9 L378.7,373.9 L377.4,376.3 L375.3,379 L372.7,381.6 L370.2,384 L368.2,386 L367,387.4 L367,388.2 L368.1,388.4 L370.3,388.1 L373.4,387.6 L376.9,387 L380.5,386.7 L383.7,386.8 L386,387.4 L387.3,388.7 L387.4,390.5 L386.4,392.8 L384.4,395.4 L382,398.1" fill="none" stroke="#806d51" stroke-width="4.6" stroke-linecap="round" stroke-linejoin="round" stroke-opacity="0.5"/><path d="M347.7,329.5 L345.1,332 L343,334.1 L341.5,335.7 L341.2,336.6 L342,336.9 L343.9,336.8 L346.8,336.3 L350.3,335.8 L353.9,335.4 L357.2,335.3 L359.8,335.8 L361.4,336.9 L361.8,338.6 L361,340.8 L359.3,343.4 L356.9,346 L354.3,348.6 L352,350.8 L350.4,352.5 L349.7,353.6 L350.2,354 L351.9,354 L354.6,353.6 L358,353 L361.6,352.6 L365,352.4 L367.8,352.8 L369.7,353.7 L370.4,355.2 L369.9,357.3 L368.3,359.8 L366.1,362.5 L363.5,365.1 L361.1,367.4 L359.3,369.2 L358.3,370.5 L358.6,371.1 L360,371.2 L362.4,370.9 L365.7,370.3 L369.3,369.8 L372.8,369.5 L375.8,369.7 L377.9,370.5 L378.9,371.9 L378.7,373.9 L377.4,376.3 L375.3,379 L372.7,381.6 L370.2,384 L368.2,386 L367,387.4 L367,388.2 L368.1,388.4 L370.3,388.1 L373.4,387.6 L376.9,387 L380.5,386.7 L383.7,386.8 L386,387.4 L387.3,388.7 L387.4,390.5 L386.4,392.8 L384.4,395.4 L382,398.1" fill="none" stroke="#d6b788" stroke-width="3.4" stroke-linecap="round" stroke-linejoin="round"/>
<path d="M377,331.9 L374.8,334.2 L372.9,336.1 L371.7,337.6 L371.4,338.5 L372.2,338.9 L373.9,338.9 L376.5,338.6 L379.7,338.2 L382.9,337.9 L385.9,337.9 L388.3,338.4 L389.7,339.5 L390.2,341.1 L389.5,343.1 L388.1,345.5 L386,347.9 L383.8,350.3 L381.8,352.4 L380.3,354 L379.8,355.1 L380.2,355.6 L381.7,355.7 L384.1,355.4 L387.1,355.1 L390.4,354.7 L393.5,354.7 L396.1,355 L397.8,355.9 L398.5,357.4 L398.2,359.3 L397,361.6 L395,364 L392.8,366.4 L390.7,368.6 L389.1,370.4 L388.2,371.6 L388.4,372.3 L389.6,372.5 L391.7,372.3 L394.6,372 L397.8,371.6 L401,371.4 L403.8,371.7 L405.8,372.4 L406.8,373.7 L406.8,375.5 L405.8,377.7 L404,380.1 L401.9,382.6 L399.7,384.8 L397.8,386.7 L396.7,388.1 L396.6,389 L397.5,389.3 L399.4,389.2 L402.1,388.9 L405.3,388.5" fill="none" stroke="#806d51" stroke-width="4.6" stroke-linecap="round" stroke-linejoin="round" stroke-opacity="0.5"/><path d="M377,331.9 L374.8,334.2 L372.9,336.1 L371.7,337.6 L371.4,338.5 L372.2,338.9 L373.9,338.9 L376.5,338.6 L379.7,338.2 L382.9,337.9 L385.9,337.9 L388.3,338.4 L389.7,339.5 L390.2,341.1 L389.5,343.1 L388.1,345.5 L386,347.9 L383.8,350.3 L381.8,352.4 L380.3,354 L379.8,355.1 L380.2,355.6 L381.7,355.7 L384.1,355.4 L387.1,355.1 L390.4,354.7 L393.5,354.7 L396.1,355 L397.8,355.9 L398.5,357.4 L398.2,359.3 L397,361.6 L395,364 L392.8,366.4 L390.7,368.6 L389.1,370.4 L388.2,371.6 L388.4,372.3 L389.6,372.5 L391.7,372.3 L394.6,372 L397.8,371.6 L401,371.4 L403.8,371.7 L405.8,372.4 L406.8,373.7 L406.8,375.5 L405.8,377.7 L404,380.1 L401.9,382.6 L399.7,384.8 L397.8,386.7 L396.7,388.1 L396.6,389 L397.5,389.3 L399.4,389.2 L402.1,388.9 L405.3,388.5" fill="none" stroke="#d6b788" stroke-width="3.4" stroke-linecap="round" stroke-linejoin="round"/>
<path d="M235.2,419.9 L233.3,422.5 L231.7,424.7 L230.7,426.3 L230.5,427.3 L231.3,427.6 L233,427.3 L235.6,426.6 L238.6,425.8 L241.8,425.1 L244.7,424.7 L247.2,424.9 L248.8,425.7 L249.4,427.2 L249.2,429.3 L248.1,431.8 L246.4,434.5 L244.5,437.2 L242.8,439.5 L241.5,441.3 L241.1,442.5 L241.5,443 L243,442.9 L245.2,442.4 L248.1,441.6 L251.3,440.8 L254.4,440.3 L257,440.3 L259,440.9 L259.9,442.1 L260,444 L259.1,446.4 L257.6,449.1 L255.7,451.8 L253.9,454.3 L252.5,456.3 L251.7,457.7 L251.9,458.4 L253,458.5 L255,458.1 L257.7,457.4 L260.9,456.6 L264,455.9 L266.8,455.7 L269,456.1 L270.3,457.1 L270.7,458.8 L270.1,461.1 L268.8,463.7 L267,466.4" fill="none" stroke="#806d51" stroke-width="4.2" stroke-linecap="round" stroke-linejoin="round" stroke-opacity="0.5"/><path d="M235.2,419.9 L233.3,422.5 L231.7,424.7 L230.7,426.3 L230.5,427.3 L231.3,427.6 L233,427.3 L235.6,426.6 L238.6,425.8 L241.8,425.1 L244.7,424.7 L247.2,424.9 L248.8,425.7 L249.4,427.2 L249.2,429.3 L248.1,431.8 L246.4,434.5 L244.5,437.2 L242.8,439.5 L241.5,441.3 L241.1,442.5 L241.5,443 L243,442.9 L245.2,442.4 L248.1,441.6 L251.3,440.8 L254.4,440.3 L257,440.3 L259,440.9 L259.9,442.1 L260,444 L259.1,446.4 L257.6,449.1 L255.7,451.8 L253.9,454.3 L252.5,456.3 L251.7,457.7 L251.9,458.4 L253,458.5 L255,458.1 L257.7,457.4 L260.9,456.6 L264,455.9 L266.8,455.7 L269,456.1 L270.3,457.1 L270.7,458.8 L270.1,461.1 L268.8,463.7 L267,466.4" fill="none" stroke="#d6b788" stroke-width="3" stroke-linecap="round" stroke-linejoin="round"/>
<path d="M303.2,331.8 L300.9,333.3 L298.8,334.5 L297.5,335.6 L296.9,336.4 L297.4,337 L298.8,337.6 L300.9,338 L303.5,338.5 L306.3,339.2 L308.9,340 L310.9,341 L312.1,342.3 L312.4,343.7 L311.7,345.4 L310.2,347 L308.1,348.7 L305.7,350.3 L303.4,351.7 L301.6,352.9 L300.4,353.8 L300.3,354.6 L301,355.2 L302.7,355.7 L305,356.1 L307.7,356.7" fill="none" stroke="#806d51" stroke-width="3.8" stroke-linecap="round" stroke-linejoin="round" stroke-opacity="0.5"/><path d="M303.2,331.8 L300.9,333.3 L298.8,334.5 L297.5,335.6 L296.9,336.4 L297.4,337 L298.8,337.6 L300.9,338 L303.5,338.5 L306.3,339.2 L308.9,340 L310.9,341 L312.1,342.3 L312.4,343.7 L311.7,345.4 L310.2,347 L308.1,348.7 L305.7,350.3 L303.4,351.7 L301.6,352.9 L300.4,353.8 L300.3,354.6 L301,355.2 L302.7,355.7 L305,356.1 L307.7,356.7" fill="none" stroke="#d6b788" stroke-width="2.6" stroke-linecap="round" stroke-linejoin="round"/>
<path d="M266.3,377.3 L332.4,460.5" fill="none" stroke="#806d51" stroke-width="4" stroke-linecap="round" stroke-linejoin="round" stroke-opacity="0.5"/><path d="M266.3,377.3 L332.4,460.5" fill="none" stroke="#d6b788" stroke-width="3" stroke-linecap="round" stroke-linejoin="round" stroke-opacity="1"/>
<path d="M283.4,421.4 L332.4,465.4" fill="none" stroke="#806d51" stroke-width="4" stroke-linecap="round" stroke-linejoin="round" stroke-opacity="0.5"/><path d="M283.4,421.4 L332.4,465.4" fill="none" stroke="#d6b788" stroke-width="3" stroke-linecap="round" stroke-linejoin="round" stroke-opacity="1"/>
<path d="M246.7,396.9 L320.2,426.3" fill="none" stroke="#806d51" stroke-width="4" stroke-linecap="round" stroke-linejoin="round" stroke-opacity="0.5"/><path d="M246.7,396.9 L320.2,426.3" fill="none" stroke="#d6b788" stroke-width="3" stroke-linecap="round" stroke-linejoin="round" stroke-opacity="1"/>
<path d="M259,421.4 L337.3,406.7" fill="none" stroke="#806d51" stroke-width="4" stroke-linecap="round" stroke-linejoin="round" stroke-opacity="0.5"/><path d="M259,421.4 L337.3,406.7" fill="none" stroke="#d6b788" stroke-width="3" stroke-linecap="round" stroke-linejoin="round" stroke-opacity="1"/>
<path d="M361.8,294.1 C365,294.9 373.2,289.2 381.4,299 C389.5,308.8 402.6,343 410.7,352.8 C418.9,362.6 424.2,357.3 430.3,357.7 C436.4,358.1 444.6,355.7 447.5,355.3" fill="none" stroke="#d6b788" stroke-width="2.2" stroke-linecap="round" stroke-linejoin="round" stroke-opacity="1"/>
<path d="M234.5,377.3 C238.6,375.7 250.8,368.3 259,367.5 C267.1,366.7 280.2,369.1 283.4,372.4 C286.7,375.7 283.4,384.6 278.5,387.1 C273.6,389.5 261.4,384.6 254.1,387.1 C246.7,389.5 236.9,395.2 234.5,401.8 C232,408.3 235.3,418.9 239.4,426.3 C243.5,433.6 251.6,441.8 259,445.8 C266.3,449.9 276.1,445.4 283.4,450.7 C290.8,456 294.9,473.6 303,477.7 C311.2,481.7 327.5,475.6 332.4,475.2" fill="none" stroke="#d6b788" stroke-width="1.6" stroke-linecap="round" stroke-linejoin="round" stroke-opacity="1"/>
<path d="M298.1,306.3 C300.6,306.7 307.9,305.9 312.8,308.8 C317.7,311.6 330,318.5 327.5,323.4 C325.1,328.3 301.4,333.2 298.1,338.1 C294.9,343 303.8,348.3 307.9,352.8 C312,357.3 322.6,360.6 322.6,365.1 C322.6,369.5 307.1,374.4 307.9,379.7 C308.7,385 321,392.4 327.5,396.9 C334,401.4 342.2,401.8 347.1,406.7 C352,411.6 356.9,419.7 356.9,426.3 C356.9,432.8 345.5,444.2 347.1,445.8 C348.7,447.5 361.8,438.5 366.7,436 C371.6,433.6 374.8,432 376.5,431.2" fill="none" stroke="#d6b788" stroke-width="1.5" stroke-linecap="round" stroke-linejoin="round" stroke-opacity="1"/>
<path d="M356.9,387.1 C360.1,385.5 369.9,379.7 376.5,377.3 C383,374.8 390.3,372.4 396,372.4 C401.8,372.4 409.1,374 410.7,377.3 C412.4,380.6 409.9,388.7 405.8,392 C401.8,395.2 390.3,394.4 386.3,396.9 C382.2,399.3 382.2,405 381.4,406.7" fill="none" stroke="#d6b788" stroke-width="1.5" stroke-linecap="round" stroke-linejoin="round" stroke-opacity="1"/>
<g opacity="1"><g fill="#dde8dc" filter="url(#shade)"><path d="M314.4,603.7 L324.4,603.1 L334.7,606.9 L345.1,607.9 L356.3,606.2 L367.4,610.5 L378.3,606.7 L384.3,611 L388.3,618.3 L387.3,629.2 L392,639.2 L391.7,650.1 L396.7,660.4 L392.3,671.2 L392.8,681.4 L393.1,691.8 L387,700.9 L386.9,712.2 L382.4,722.2 L379.5,733.2 L370.7,741.8 L366.9,751.3 L365.9,760.3 L357.8,759.5 L350.5,762.3 L343.5,758.1 L339.7,749.5 L333.9,741.2 L328.9,731.6 L322.8,722.3 L316.2,713 L312.9,701.7 L304.1,693.6 L297.8,684.1 L290.3,675.7 L285.2,665.8 L281.8,655.3 L274.1,648.1 L270.6,639.7 L275.7,633.3 L279.5,625.1 L288.6,620 L297.4,614.7 L306,609.6Z"/><circle cx="313.8" cy="601.5" r="6.5"/><circle cx="324.3" cy="601.7" r="7.2"/><circle cx="334.8" cy="603.6" r="11.2"/><circle cx="345.5" cy="605.1" r="11.3"/><circle cx="356.3" cy="606.4" r="7.6"/><circle cx="367.6" cy="608.9" r="10.4"/><circle cx="378.5" cy="606" r="5.8"/><circle cx="383.9" cy="611.4" r="7.7"/><circle cx="389.5" cy="617.9" r="6.7"/><circle cx="390.9" cy="628.4" r="10.9"/><circle cx="391.9" cy="639.2" r="8"/><circle cx="395" cy="649.7" r="10.1"/><circle cx="398.5" cy="660.3" r="5.7"/><circle cx="394.9" cy="671.2" r="11"/><circle cx="392.3" cy="681.3" r="10"/><circle cx="394.8" cy="692.2" r="7.5"/><circle cx="387.8" cy="701.2" r="11.2"/><circle cx="387.1" cy="712.3" r="7.1"/><circle cx="383.9" cy="722.9" r="7.4"/><circle cx="379.5" cy="733.2" r="5.5"/><circle cx="371.4" cy="742.1" r="11"/><circle cx="370.3" cy="753" r="11.2"/><circle cx="366.5" cy="761.1" r="6.9"/><circle cx="357.7" cy="758.6" r="11.2"/><circle cx="350" cy="764.1" r="7.8"/><circle cx="342.9" cy="758.9" r="8.1"/><circle cx="337.3" cy="751.2" r="11.1"/><circle cx="333.7" cy="741.3" r="10.3"/><circle cx="328.9" cy="731.6" r="10.4"/><circle cx="321.2" cy="723.1" r="9.1"/><circle cx="315" cy="713.6" r="7.4"/><circle cx="310.1" cy="703.3" r="10.2"/><circle cx="304" cy="693.6" r="6.7"/><circle cx="296" cy="685.4" r="7"/><circle cx="289.9" cy="676" r="5.7"/><circle cx="285.7" cy="665.4" r="7.5"/><circle cx="282.7" cy="654.8" r="10.8"/><circle cx="272.1" cy="648.9" r="7.1"/><circle cx="269.8" cy="639.7" r="6.1"/><circle cx="274.4" cy="632.6" r="9.8"/><circle cx="278.7" cy="624.3" r="6.9"/><circle cx="288.4" cy="619.6" r="9.2"/><circle cx="297.6" cy="615" r="10"/><circle cx="304.8" cy="607" r="9.5"/></g></g>
<g opacity="1"><g fill="#eae5df" filter="url(#shade)"><path d="M312.7,783.2 L320.8,779.5 L331.3,777.8 L341.2,773.2 L351.6,771.5 L361.7,773.9 L371.3,774.6 L379.7,779 L387,786 L394.2,793.4 L403.7,798.8 L409.8,808 L420.3,813.2 L427.2,821.8 L431.1,833.3 L438.6,841.4 L445.5,849 L453.2,855 L450.9,862.9 L450.3,870.5 L446.6,879.4 L439.7,887.1 L431.5,893.5 L421.7,897.4 L413.9,905.5 L402.5,907.2 L393.3,914 L381.8,917.4 L373.8,927.8 L364.7,938.2 L362.1,949.9 L361.9,959.2 L354.5,965.6 L347.5,973.2 L339.6,979.1 L331.6,982.2 L323.8,978.8 L314,978 L304.9,971.5 L292.7,970.6 L282.4,965.2 L272,962.4 L263,958.5 L254,955 L251.3,945.3 L244.5,937.4 L242.6,926.9 L238.9,916.9 L239.2,906.3 L236.5,896.3 L241.6,887.3 L241.7,877.2 L249.8,871.8 L254.5,864.4 L264.5,862.8 L275.3,858.6 L286.9,851.3 L295.4,840.1 L298.4,827.6 L303.8,816.9 L303.2,805.3 L307.9,794.3 L305.9,784.3Z"/><circle cx="311.6" cy="781.2" r="10.5"/><circle cx="320.3" cy="777.9" r="8.9"/><circle cx="330.8" cy="775.2" r="9.9"/><circle cx="341" cy="771.5" r="7"/><circle cx="351.6" cy="771.8" r="6.4"/><circle cx="361.9" cy="772.1" r="9"/><circle cx="371.1" cy="775.4" r="7.9"/><circle cx="380.8" cy="777.2" r="8.5"/><circle cx="387.3" cy="785.5" r="10.4"/><circle cx="396.5" cy="790.8" r="11.4"/><circle cx="403.6" cy="798.9" r="8.3"/><circle cx="409.3" cy="808.4" r="10.5"/><circle cx="421.2" cy="812.4" r="5.7"/><circle cx="428.5" cy="820.8" r="6.2"/><circle cx="431.8" cy="832.6" r="11.3"/><circle cx="440.1" cy="840.1" r="11.1"/><circle cx="446.8" cy="848.1" r="10.7"/><circle cx="453.2" cy="855" r="7.1"/><circle cx="454.3" cy="863.1" r="11.2"/><circle cx="450.9" cy="870.8" r="9.1"/><circle cx="447.6" cy="880.2" r="6.8"/><circle cx="440.9" cy="888.3" r="6.3"/><circle cx="431.8" cy="893.9" r="7"/><circle cx="422.9" cy="899.5" r="9.4"/><circle cx="414.5" cy="906.5" r="5.6"/><circle cx="403.6" cy="909.5" r="9.6"/><circle cx="394.2" cy="915.7" r="7.4"/><circle cx="382.4" cy="918.3" r="10.3"/><circle cx="375.1" cy="929.1" r="5.9"/><circle cx="365.5" cy="938.5" r="7.9"/><circle cx="364.9" cy="950.5" r="9.3"/><circle cx="362.1" cy="959.3" r="6.5"/><circle cx="355.8" cy="966.8" r="8"/><circle cx="347.1" cy="972.8" r="7.3"/><circle cx="340" cy="979.7" r="7.4"/><circle cx="331.8" cy="983.5" r="7.6"/><circle cx="324" cy="977.8" r="10.7"/><circle cx="313.2" cy="979.8" r="7.7"/><circle cx="303.8" cy="973.8" r="9.9"/><circle cx="292.8" cy="970.3" r="5.5"/><circle cx="282.4" cy="965.1" r="8"/><circle cx="272.1" cy="962" r="7.9"/><circle cx="261.9" cy="960.5" r="8.3"/><circle cx="253.6" cy="955.4" r="5.6"/><circle cx="251.8" cy="945" r="9.3"/><circle cx="244.1" cy="937.5" r="6"/><circle cx="241.7" cy="927.2" r="7.7"/><circle cx="237.5" cy="917.2" r="6.4"/><circle cx="239.7" cy="906.3" r="8.6"/><circle cx="235.7" cy="896.3" r="6.2"/><circle cx="242.4" cy="887.5" r="10.3"/><circle cx="240" cy="876.4" r="6.7"/><circle cx="250.6" cy="872.4" r="11.2"/><circle cx="253.1" cy="862.1" r="8.4"/><circle cx="263.7" cy="861" r="11.1"/><circle cx="275" cy="857.9" r="10.9"/><circle cx="285" cy="849.1" r="10.4"/><circle cx="293.2" cy="838.8" r="10.2"/><circle cx="298.7" cy="827.6" r="7.9"/><circle cx="301.1" cy="816.2" r="10.5"/><circle cx="302.1" cy="805" r="6.8"/><circle cx="306.4" cy="794" r="8.6"/><circle cx="304.5" cy="783.7" r="6.2"/></g></g>
<g opacity="0.8"><g fill="#e7b8b8" filter="url(#shade)"><path d="M445.8,724.7 L450.6,718.6 L455.1,723.2 L456.9,728.7 L459.4,737.6 L460,748.3 L461.5,759.2 L461.6,770.2 L461.4,781.3 L463.5,792.4 L460.5,803.3 L458.3,814 L458.9,824 L457.7,829.5 L452.8,829.4 L444.6,824.7 L438.5,816.3 L432.7,808.5 L429,800.6 L426.6,792.2 L427.4,782.4 L431.9,772.5 L434,761.7 L435.9,750.8 L436,739.6 L440.8,730.7Z"/><circle cx="446.1" cy="725.1" r="9.8"/><circle cx="450.5" cy="718.1" r="5.7"/><circle cx="457.1" cy="720.5" r="10"/><circle cx="459.9" cy="727.7" r="10.5"/><circle cx="460.3" cy="737.5" r="9.1"/><circle cx="462" cy="748.2" r="9.3"/><circle cx="462.2" cy="759.2" r="8"/><circle cx="462" cy="770.2" r="8.1"/><circle cx="462.7" cy="781.3" r="8.2"/><circle cx="463.9" cy="792.4" r="5.6"/><circle cx="462.6" cy="803.4" r="8.4"/><circle cx="458.3" cy="814" r="10.1"/><circle cx="461" cy="824.6" r="8.2"/><circle cx="458.9" cy="831.6" r="8.3"/><circle cx="452.5" cy="830.4" r="6.3"/><circle cx="444.1" cy="825.4" r="6.1"/><circle cx="436.5" cy="818.3" r="8.6"/><circle cx="430.3" cy="810.1" r="9.3"/><circle cx="429" cy="800.6" r="9.9"/><circle cx="423.8" cy="792.3" r="8.6"/><circle cx="425.9" cy="782.2" r="8.5"/><circle cx="428.7" cy="771.8" r="11.2"/><circle cx="435" cy="762" r="10.6"/><circle cx="436.1" cy="750.9" r="9.9"/><circle cx="436.5" cy="739.8" r="6.7"/><circle cx="441.4" cy="731" r="8.5"/></g></g>
<g opacity="0.8"><g fill="#c5dadc" filter="url(#shade)"><path d="M398.2,611.5 L402,607.6 L409.1,603 L417.8,608.3 L426.3,612.1 L434.6,616.5 L443.3,621.4 L451.5,627.6 L456.1,636.5 L462.3,644.2 L463.3,654 L460.6,664.3 L462.4,674.9 L461.2,685.3 L456.1,693.6 L449.5,701.1 L444.7,712.3 L443.2,724.7 L437.9,735.1 L434.6,745.5 L431,755 L430.8,764.6 L424.8,769.9 L416.6,771 L408.3,771 L401.1,770.2 L396.1,765 L391.4,757.2 L387.5,747.6 L389.1,736.9 L388.1,726.6 L386.6,715.9 L390.3,705.3 L387.8,694 L389.3,682.9 L390.5,671.7 L392.6,660.6 L392.9,649.6 L390.4,638.6 L391.5,628 L392,617.6Z"/><circle cx="395.7" cy="609.8" r="11"/><circle cx="402.3" cy="608.2" r="10.2"/><circle cx="409.2" cy="601.9" r="5.9"/><circle cx="418.5" cy="605.6" r="10"/><circle cx="427.4" cy="609.9" r="10.9"/><circle cx="436.3" cy="614.1" r="10.4"/><circle cx="443" cy="621.8" r="8.5"/><circle cx="452.7" cy="626.6" r="6.7"/><circle cx="457.6" cy="635.6" r="8.5"/><circle cx="463.8" cy="643.7" r="5.7"/><circle cx="462.8" cy="654.1" r="6.5"/><circle cx="460.1" cy="664.2" r="9.6"/><circle cx="462.4" cy="674.9" r="6.5"/><circle cx="461.9" cy="685.5" r="6.2"/><circle cx="457.7" cy="694.4" r="9.3"/><circle cx="450.4" cy="701.7" r="10.7"/><circle cx="444.3" cy="712.1" r="9"/><circle cx="442.6" cy="724.5" r="6.1"/><circle cx="439.5" cy="735.4" r="9.3"/><circle cx="436.9" cy="746.1" r="10.3"/><circle cx="432" cy="755.3" r="11.4"/><circle cx="430.8" cy="764.7" r="7.7"/><circle cx="426" cy="771.8" r="8.2"/><circle cx="417.2" cy="774.2" r="10"/><circle cx="408.1" cy="773.4" r="10.4"/><circle cx="401.5" cy="769.4" r="9.3"/><circle cx="395.7" cy="765.3" r="9"/><circle cx="388.9" cy="758" r="7.4"/><circle cx="385.9" cy="747.9" r="5.7"/><circle cx="387.7" cy="737" r="9.2"/><circle cx="388.6" cy="726.6" r="8.6"/><circle cx="385" cy="715.8" r="6.3"/><circle cx="387.1" cy="705" r="9.4"/><circle cx="386.8" cy="693.9" r="5.5"/><circle cx="388.2" cy="682.9" r="6.1"/><circle cx="389.9" cy="671.7" r="6.8"/><circle cx="390.3" cy="660.6" r="9"/><circle cx="391.6" cy="649.5" r="9.2"/><circle cx="390.9" cy="638.6" r="6.3"/><circle cx="389.6" cy="627.8" r="7"/><circle cx="391.6" cy="617.6" r="6.1"/></g></g>
<path d="M378.1,623.5 C376.7,622.9 370,619.7 370,619.5 C370.1,619.4 377.4,620.8 378.4,622.8 C379.5,624.7 376.3,628.6 376.3,631.5 C376.2,634.4 377.4,637.4 378.2,640.3 C379,643.2 379.5,646.3 380.9,648.9 C382.3,651.4 386.2,653 386.9,655.6 C387.5,658.2 384.6,661.6 385,664.4 C385.4,667.2 389.7,670 389.3,672.3 C388.9,674.6 384.9,676.6 382.4,678.1 C379.8,679.6 375.4,680.8 374,681.4" fill="none" stroke="#86b886" stroke-width="1.2" stroke-linecap="round" stroke-linejoin="round"/><path d="M326.3,683.1 C325.9,681.6 325.3,676.8 323.6,674.5 C321.9,672.2 318.2,671.6 316.1,669.4 C314.1,667.3 312.8,664.4 311.4,661.8 C310,659.1 308.7,656.4 307.8,653.5 C306.9,650.7 306.5,647.6 306.2,644.7 C305.9,641.7 305.2,638.3 306.2,635.7 C307.2,633 310.4,631.3 312.1,628.8 C313.8,626.4 314.5,623.2 316.4,621 C318.3,618.7 320.8,616.1 323.4,615.3 C326.1,614.5 330.8,616.2 332.3,616.4" fill="none" stroke="#86b886" stroke-width="1.2" stroke-linecap="round" stroke-linejoin="round"/><path d="M342.9,703.6 C343.2,705 344.1,709.4 344.8,712.4 C345.5,715.3 346.8,718.1 347.1,721.1 C347.4,724 346.9,727.1 346.5,730 C346,733 345.1,735.9 344.6,738.9 C344.1,741.8 344.7,747.3 343.5,747.8 C342.2,748.2 338.5,744 337,741.5 C335.5,739 336,735.4 334.5,732.9 C333.1,730.3 329.4,728.9 328.4,726.3 C327.3,723.7 327.5,720.2 328.1,717.3 C328.8,714.5 331.4,710.6 332.1,709.2" fill="none" stroke="#86b886" stroke-width="1.2" stroke-linecap="round" stroke-linejoin="round"/><path d="M301.6,627.8 C303.1,627.7 307.7,627.9 310.5,627.2 C313.4,626.5 316,624.6 318.8,623.6 C321.6,622.5 324.5,621.1 327.4,620.9 C330.3,620.8 333.3,622.4 336.2,622.6 C339.2,622.7 342.3,622.4 345.2,621.9 C348.2,621.4 351.1,619.3 353.9,619.5 C356.7,619.7 359.3,622.4 362.1,623.2 C365,623.9 368.3,623.3 371.1,624.2 C373.8,625.2 377.6,626.6 378.8,628.9 C380,631.1 378.5,636.4 378.4,637.9" fill="none" stroke="#86b886" stroke-width="1.2" stroke-linecap="round" stroke-linejoin="round"/><path d="M308.5,626.8 C309.2,625.5 310.9,621.1 313,619 C315,616.9 317.8,615 320.6,614.3 C323.4,613.6 326.6,614.5 329.6,614.7 C332.6,615 335.9,614.6 338.5,615.8 C341.1,617 343.1,619.8 345.1,622 C347.2,624.1 349.8,626.3 350.8,628.9 C351.8,631.6 350.2,635.1 350.9,637.9 C351.7,640.7 354.9,643 355.4,645.8 C355.8,648.5 353.2,651.8 353.6,654.6 C354,657.4 357,661.3 357.6,662.6" fill="none" stroke="#86b886" stroke-width="1.2" stroke-linecap="round" stroke-linejoin="round"/><path d="M325.8,615.2 C327.3,615.3 332.2,614.8 334.7,616 C337.3,617.2 339.5,619.9 341.1,622.4 C342.6,624.9 343.9,628.1 343.9,630.9 C343.8,633.8 341.9,636.6 340.7,639.4 C339.6,642.1 339.1,645.6 337.1,647.6 C335.2,649.6 331.8,650.6 328.9,651.3 C326.1,652 322.9,651.3 319.9,651.8 C317,652.3 314.1,654.5 311.3,654.3 C308.5,654.1 305.9,651.6 303.1,650.6 C300.3,649.6 295.8,648.8 294.4,648.4" fill="none" stroke="#86b886" stroke-width="1.2" stroke-linecap="round" stroke-linejoin="round"/><path d="M301.3,622.5 C300.1,623.4 293.9,627.4 294.2,628.1 C294.6,628.8 300.3,626.1 303.1,626.6 C305.9,627.1 308.2,630.2 311,631.1 C313.8,631.9 317.1,632.5 319.9,631.9 C322.7,631.3 325.1,628.9 327.8,627.5 C330.5,626.1 333.7,625.4 335.9,623.5 C338.1,621.6 338.7,617.2 341,616.1 C343.4,615.1 347.2,616.1 350,617.1 C352.7,618.1 354.8,620.9 357.5,622 C360.3,623.2 364.9,623.6 366.3,623.9" fill="none" stroke="#86b886" stroke-width="1.2" stroke-linecap="round" stroke-linejoin="round"/>
<path d="M290.5,624 L288,626.5 L285.9,628.5 L284.5,630 L284.1,630.7 L284.8,630.7 L286.6,630.1 L289.4,629 L292.7,627.9 L296.1,626.9 L299.2,626.3 L301.6,626.4 L303.1,627.1 L303.4,628.6 L302.6,630.7 L300.8,633.2 L298.5,635.8 L296.1,638.4 L293.8,640.5 L292.3,642 L291.7,642.9 L292.3,642.9 L294,642.4 L296.6,641.4 L299.9,640.3 L303.3,639.3 L306.5,638.6 L309,638.5 L310.6,639.2 L311.1,640.6 L310.4,642.6 L308.8,645 L306.6,647.7 L304.1,650.3 L301.8,652.5 L300.2,654.1 L299.5,655 L299.9,655.2 L301.4,654.8 L303.9,653.8 L307.1,652.7 L310.5,651.6 L313.8,650.9 L316.4,650.8 L318.2,651.3 L318.8,652.6 L318.3,654.5 L316.8,656.9 L314.6,659.6 L312.1,662.2 L309.8,664.4 L308,666.2 L307.2,667.2 L307.4,667.5 L308.8,667.1 L311.2,666.2 L314.3,665.1 L317.7,664 L321,663.2 L323.8,663 L325.7,663.4 L326.5,664.6 L326.1,666.4 L324.8,668.8 L322.7,671.4 L320.2,674 L317.8,676.4 L315.9,678.2 L314.9,679.3 L315,679.7 L316.2,679.4 L318.5,678.6 L321.5,677.5 L324.9,676.4 L328.3,675.5 L331.1,675.2 L333.2,675.5 L334.1,676.6 L333.9,678.4 L332.7,680.7 L330.7,683.3 L328.2,685.9 L325.8,688.3 L323.9,690.2 L322.7,691.4 L322.6,691.9 L323.7,691.7 L325.8,691 L328.7,689.9 L332.1,688.8 L335.5,687.9 L338.5,687.5 L340.6,687.7 L341.7,688.7 L341.7,690.3 L340.6,692.6 L338.7,695.1 L336.3,697.8 L333.8,700.2 L331.8,702.2 L330.5,703.6 L330.3,704.2 L331.2,704.1 L333.1,703.4 L336,702.3 L339.3,701.2 L342.7,700.2 L345.8,699.7 L348.1,699.9 L349.3,700.7 L349.5,702.3 L348.5,704.5 L346.7,707 L344.3,709.7" fill="none" stroke="#547353" stroke-width="4.8" stroke-linecap="round" stroke-linejoin="round" stroke-opacity="0.5"/><path d="M290.5,624 L288,626.5 L285.9,628.5 L284.5,630 L284.1,630.7 L284.8,630.7 L286.6,630.1 L289.4,629 L292.7,627.9 L296.1,626.9 L299.2,626.3 L301.6,626.4 L303.1,627.1 L303.4,628.6 L302.6,630.7 L300.8,633.2 L298.5,635.8 L296.1,638.4 L293.8,640.5 L292.3,642 L291.7,642.9 L292.3,642.9 L294,642.4 L296.6,641.4 L299.9,640.3 L303.3,639.3 L306.5,638.6 L309,638.5 L310.6,639.2 L311.1,640.6 L310.4,642.6 L308.8,645 L306.6,647.7 L304.1,650.3 L301.8,652.5 L300.2,654.1 L299.5,655 L299.9,655.2 L301.4,654.8 L303.9,653.8 L307.1,652.7 L310.5,651.6 L313.8,650.9 L316.4,650.8 L318.2,651.3 L318.8,652.6 L318.3,654.5 L316.8,656.9 L314.6,659.6 L312.1,662.2 L309.8,664.4 L308,666.2 L307.2,667.2 L307.4,667.5 L308.8,667.1 L311.2,666.2 L314.3,665.1 L317.7,664 L321,663.2 L323.8,663 L325.7,663.4 L326.5,664.6 L326.1,666.4 L324.8,668.8 L322.7,671.4 L320.2,674 L317.8,676.4 L315.9,678.2 L314.9,679.3 L315,679.7 L316.2,679.4 L318.5,678.6 L321.5,677.5 L324.9,676.4 L328.3,675.5 L331.1,675.2 L333.2,675.5 L334.1,676.6 L333.9,678.4 L332.7,680.7 L330.7,683.3 L328.2,685.9 L325.8,688.3 L323.9,690.2 L322.7,691.4 L322.6,691.9 L323.7,691.7 L325.8,691 L328.7,689.9 L332.1,688.8 L335.5,687.9 L338.5,687.5 L340.6,687.7 L341.7,688.7 L341.7,690.3 L340.6,692.6 L338.7,695.1 L336.3,697.8 L333.8,700.2 L331.8,702.2 L330.5,703.6 L330.3,704.2 L331.2,704.1 L333.1,703.4 L336,702.3 L339.3,701.2 L342.7,700.2 L345.8,699.7 L348.1,699.9 L349.3,700.7 L349.5,702.3 L348.5,704.5 L346.7,707 L344.3,709.7" fill="none" stroke="#8cc18b" stroke-width="3.6" stroke-linecap="round" stroke-linejoin="round"/>
<path d="M347.5,703.6 L344.8,705.2 L342.4,706.5 L340.8,707.5 L340.3,708.3 L340.9,708.8 L342.7,709.2 L345.2,709.5 L348.3,709.9 L351.6,710.4 L354.4,711.2 L356.6,712.3 L357.7,713.6 L357.6,715.2 L356.5,717 L354.5,718.8 L351.8,720.6 L349,722.2 L346.5,723.6 L344.7,724.7 L343.9,725.6 L344.1,726.2 L345.6,726.6 L347.9,726.9 L350.9,727.3 L354.1,727.7 L357.2,728.5 L359.5,729.4 L361,730.7 L361.3,732.2 L360.4,733.9 L358.6,735.8 L356.1,737.6 L353.3,739.2 L350.7,740.7 L348.6,741.9 L347.5,742.9 L347.4,743.5 L348.5,744 L350.7,744.3 L353.5,744.6 L356.7,745.1 L359.8,745.7 L362.4,746.6 L364.2,747.8 L364.8,749.2 L364.3,750.9 L362.7,752.7 L360.4,754.5 L357.6,756.3 L354.9,757.8 L352.6,759.1 L351.2,760.1 L350.8,760.8 L351.6,761.3 L353.5,761.7 L356.2,762 L359.3,762.4" fill="none" stroke="#547353" stroke-width="4.8" stroke-linecap="round" stroke-linejoin="round" stroke-opacity="0.5"/><path d="M347.5,703.6 L344.8,705.2 L342.4,706.5 L340.8,707.5 L340.3,708.3 L340.9,708.8 L342.7,709.2 L345.2,709.5 L348.3,709.9 L351.6,710.4 L354.4,711.2 L356.6,712.3 L357.7,713.6 L357.6,715.2 L356.5,717 L354.5,718.8 L351.8,720.6 L349,722.2 L346.5,723.6 L344.7,724.7 L343.9,725.6 L344.1,726.2 L345.6,726.6 L347.9,726.9 L350.9,727.3 L354.1,727.7 L357.2,728.5 L359.5,729.4 L361,730.7 L361.3,732.2 L360.4,733.9 L358.6,735.8 L356.1,737.6 L353.3,739.2 L350.7,740.7 L348.6,741.9 L347.5,742.9 L347.4,743.5 L348.5,744 L350.7,744.3 L353.5,744.6 L356.7,745.1 L359.8,745.7 L362.4,746.6 L364.2,747.8 L364.8,749.2 L364.3,750.9 L362.7,752.7 L360.4,754.5 L357.6,756.3 L354.9,757.8 L352.6,759.1 L351.2,760.1 L350.8,760.8 L351.6,761.3 L353.5,761.7 L356.2,762 L359.3,762.4" fill="none" stroke="#8cc18b" stroke-width="3.6" stroke-linecap="round" stroke-linejoin="round"/>
<path d="M325.3,616.7 C328.9,617.1 342,617.1 347.3,619.2 C352.6,621.2 347.3,623.2 357.1,629 C366.9,634.7 397.9,649.4 406,653.4" fill="none" stroke="#547353" stroke-width="4" stroke-linecap="round" stroke-linejoin="round" stroke-opacity="0.5"/><path d="M325.3,616.7 C328.9,617.1 342,617.1 347.3,619.2 C352.6,621.2 347.3,623.2 357.1,629 C366.9,634.7 397.9,649.4 406,653.4" fill="none" stroke="#8cc18b" stroke-width="3" stroke-linecap="round" stroke-linejoin="round" stroke-opacity="1"/>
<path d="M322.8,626.5 C323.6,630.2 320.4,642.4 327.7,648.5 C335.1,654.7 356.3,662.4 366.9,663.2 C377.5,664 384.8,654.3 391.4,653.4 C397.9,652.6 403.6,657.5 406,658.3" fill="none" stroke="#8cc18b" stroke-width="1.8" stroke-linecap="round" stroke-linejoin="round" stroke-opacity="1"/>
<path d="M366.9,731.8 C369.3,732.6 379.9,734.2 381.6,736.7 C383.2,739.1 375,746.5 376.7,746.5 C378.3,746.5 386.5,739.1 391.4,736.7 C396.3,734.2 403.6,732.6 406,731.8" fill="none" stroke="#8cc18b" stroke-width="2" stroke-linecap="round" stroke-linejoin="round" stroke-opacity="1"/>
<path d="M335.1,633.9 C335.5,639.2 338.7,657.5 337.5,665.7 C336.3,673.8 322.8,678.3 327.7,682.8 C332.6,687.3 356.3,692.6 366.9,692.6 C377.5,692.6 387.3,684.4 391.4,682.8" fill="none" stroke="#8cc18b" stroke-width="1.6" stroke-linecap="round" stroke-linejoin="round" stroke-opacity="1"/>
<path d="M365.2,684 L368.9,685.3 L372,686.5 L374.1,687.2 L375,687.3 L374.7,686.5 L373.3,685 L371,682.7 L368.3,680 L365.7,677 L363.6,674.1 L362.5,671.6 L362.5,669.8 L363.8,668.7 L366.2,668.5 L369.5,669 L373.3,670 L377,671.3 L380.3,672.5 L382.6,673.4 L383.8,673.6 L383.7,673 L382.4,671.6 L380.3,669.5 L377.7,666.8 L375,663.9 L372.8,660.9 L371.4,658.4 L371.2,656.4 L372.3,655.2 L374.5,654.8 L377.6,655.2 L381.3,656.1 L385.1,657.4 L388.5,658.6 L391,659.5 L392.4,659.9 L392.6,659.5 L391.6,658.3 L389.6,656.3 L387,653.7 L384.3,650.8 L382,647.8 L380.4,645.1 L380,643 L380.8,641.6 L382.8,641.1 L385.8,641.3 L389.4,642.2 L393.2,643.4 L396.7,644.7 L399.4,645.7 L401.1,646.2 L401.5,645.9 L400.7,644.9 L398.9,643 L396.4,640.5 L393.7,637.7 L391.2,634.7 L389.5,631.9 L388.8,629.7 L389.3,628.1 L391.1,627.4 L393.9,627.5 L397.5,628.3 L401.3,629.4 L404.8,630.7 L407.7,631.8 L409.6,632.4 L410.3,632.3 L409.7,631.5 L408.1,629.8 L405.7,627.4 L403,624.5 L400.5,621.6 L398.6,618.7 L397.6,616.4 L397.9,614.7 L399.5,613.8 L402.1,613.7 L405.5,614.4 L409.3,615.5" fill="none" stroke="#08464f" stroke-width="5.4" stroke-linecap="round" stroke-linejoin="round" stroke-opacity="0.5"/><path d="M365.2,684 L368.9,685.3 L372,686.5 L374.1,687.2 L375,687.3 L374.7,686.5 L373.3,685 L371,682.7 L368.3,680 L365.7,677 L363.6,674.1 L362.5,671.6 L362.5,669.8 L363.8,668.7 L366.2,668.5 L369.5,669 L373.3,670 L377,671.3 L380.3,672.5 L382.6,673.4 L383.8,673.6 L383.7,673 L382.4,671.6 L380.3,669.5 L377.7,666.8 L375,663.9 L372.8,660.9 L371.4,658.4 L371.2,656.4 L372.3,655.2 L374.5,654.8 L377.6,655.2 L381.3,656.1 L385.1,657.4 L388.5,658.6 L391,659.5 L392.4,659.9 L392.6,659.5 L391.6,658.3 L389.6,656.3 L387,653.7 L384.3,650.8 L382,647.8 L380.4,645.1 L380,643 L380.8,641.6 L382.8,641.1 L385.8,641.3 L389.4,642.2 L393.2,643.4 L396.7,644.7 L399.4,645.7 L401.1,646.2 L401.5,645.9 L400.7,644.9 L398.9,643 L396.4,640.5 L393.7,637.7 L391.2,634.7 L389.5,631.9 L388.8,629.7 L389.3,628.1 L391.1,627.4 L393.9,627.5 L397.5,628.3 L401.3,629.4 L404.8,630.7 L407.7,631.8 L409.6,632.4 L410.3,632.3 L409.7,631.5 L408.1,629.8 L405.7,627.4 L403,624.5 L400.5,621.6 L398.6,618.7 L397.6,616.4 L397.9,614.7 L399.5,613.8 L402.1,613.7 L405.5,614.4 L409.3,615.5" fill="none" stroke="#0e7585" stroke-width="4.2" stroke-linecap="round" stroke-linejoin="round"/>
<path d="M392,705.9 L395.8,706.5 L399.1,707.1 L401.3,707.3 L402.3,707.2 L401.9,706.4 L400.2,705 L397.7,703.1 L394.6,700.7 L391.6,698.1 L389.1,695.5 L387.6,693.1 L387.4,691.2 L388.6,689.9 L391,689.2 L394.4,689 L398.3,689.4 L402.3,689.9 L405.7,690.5 L408.1,690.9 L409.4,690.8 L409.2,690.1 L407.8,688.8 L405.3,687 L402.3,684.7 L399.2,682.1 L396.6,679.4 L394.9,677 L394.5,675 L395.4,673.6 L397.6,672.8 L400.9,672.6 L404.7,672.8 L408.7,673.3 L412.2,673.9 L414.9,674.3 L416.4,674.4 L416.4,673.8 L415.2,672.7 L412.9,670.9 L410,668.6 L406.9,666.1 L404.2,663.4 L402.3,661 L401.6,658.9 L402.3,657.3 L404.3,656.4 L407.4,656.1 L411.1,656.3 L415.1,656.8 L418.8,657.4 L421.6,657.8 L423.3,657.9 L423.7,657.5 L422.7,656.4 L420.5,654.8 L417.7,652.6 L414.6,650.1 L411.7,647.5 L409.7,644.9 L408.7,642.8 L409.2,641.1 L410.9,640.1 L413.8,639.6 L417.5,639.7 L421.5,640.2 L425.3,640.8 L428.3,641.3 L430.2,641.5 L430.8,641.1 L430,640.2 L428.1,638.7 L425.3,636.6 L422.2,634.1 L419.3,631.5 L417.1,628.9 L415.9,626.7 L416.1,624.9 L417.6,623.7 L420.4,623.2 L424,623.2 L427.9,623.6 L431.8,624.2 L435,624.8 L437.1,625 L437.9,624.8 L437.4,624 L435.7,622.5 L433,620.5 L429.9,618.1" fill="none" stroke="#08464f" stroke-width="5.4" stroke-linecap="round" stroke-linejoin="round" stroke-opacity="0.5"/><path d="M392,705.9 L395.8,706.5 L399.1,707.1 L401.3,707.3 L402.3,707.2 L401.9,706.4 L400.2,705 L397.7,703.1 L394.6,700.7 L391.6,698.1 L389.1,695.5 L387.6,693.1 L387.4,691.2 L388.6,689.9 L391,689.2 L394.4,689 L398.3,689.4 L402.3,689.9 L405.7,690.5 L408.1,690.9 L409.4,690.8 L409.2,690.1 L407.8,688.8 L405.3,687 L402.3,684.7 L399.2,682.1 L396.6,679.4 L394.9,677 L394.5,675 L395.4,673.6 L397.6,672.8 L400.9,672.6 L404.7,672.8 L408.7,673.3 L412.2,673.9 L414.9,674.3 L416.4,674.4 L416.4,673.8 L415.2,672.7 L412.9,670.9 L410,668.6 L406.9,666.1 L404.2,663.4 L402.3,661 L401.6,658.9 L402.3,657.3 L404.3,656.4 L407.4,656.1 L411.1,656.3 L415.1,656.8 L418.8,657.4 L421.6,657.8 L423.3,657.9 L423.7,657.5 L422.7,656.4 L420.5,654.8 L417.7,652.6 L414.6,650.1 L411.7,647.5 L409.7,644.9 L408.7,642.8 L409.2,641.1 L410.9,640.1 L413.8,639.6 L417.5,639.7 L421.5,640.2 L425.3,640.8 L428.3,641.3 L430.2,641.5 L430.8,641.1 L430,640.2 L428.1,638.7 L425.3,636.6 L422.2,634.1 L419.3,631.5 L417.1,628.9 L415.9,626.7 L416.1,624.9 L417.6,623.7 L420.4,623.2 L424,623.2 L427.9,623.6 L431.8,624.2 L435,624.8 L437.1,625 L437.9,624.8 L437.4,624 L435.7,622.5 L433,620.5 L429.9,618.1" fill="none" stroke="#0e7585" stroke-width="4.2" stroke-linecap="round" stroke-linejoin="round"/>
<path d="M416.4,720.6 L420.3,720.9 L423.7,721.3 L426,721.4 L427,721 L426.6,720.2 L424.9,718.7 L422.4,716.7 L419.3,714.3 L416.2,711.7 L413.7,709.1 L412.2,706.6 L412,704.6 L413.1,703.1 L415.5,702.2 L419,701.9 L422.9,701.9 L426.9,702.3 L430.4,702.6 L432.9,702.8 L434.2,702.5 L434.1,701.8 L432.7,700.5 L430.3,698.6 L427.3,696.2 L424.1,693.6 L421.5,691 L419.7,688.5 L419.2,686.4 L420.1,684.8 L422.3,683.8 L425.6,683.3 L429.5,683.3 L433.5,683.6 L437.1,683.9 L439.9,684.1 L441.4,684 L441.6,683.4 L440.4,682.2 L438.2,680.4 L435.2,678.1 L432.1,675.6 L429.3,672.9 L427.3,670.4 L426.6,668.2 L427.2,666.4 L429.1,665.3 L432.2,664.7 L436,664.7 L440,664.9 L443.8,665.3 L446.7,665.5 L448.6,665.5 L449,664.9 L448.1,663.8 L446,662.2 L443.2,660 L440.1,657.5 L437.2,654.8 L435,652.2 L434,650 L434.3,648.1 L436,646.9 L438.8,646.2 L442.5,646 L446.6,646.2 L450.4,646.6 L453.6,646.9 L455.6,646.9 L456.4,646.5 L455.7,645.5 L453.9,643.9 L451.1,641.9 L448,639.4 L445,636.7 L442.7,634.1 L441.4,631.8 L441.5,629.9 L442.9,628.5 L445.5,627.7 L449.1,627.4 L453.1,627.6" fill="none" stroke="#08464f" stroke-width="5.4" stroke-linecap="round" stroke-linejoin="round" stroke-opacity="0.5"/><path d="M416.4,720.6 L420.3,720.9 L423.7,721.3 L426,721.4 L427,721 L426.6,720.2 L424.9,718.7 L422.4,716.7 L419.3,714.3 L416.2,711.7 L413.7,709.1 L412.2,706.6 L412,704.6 L413.1,703.1 L415.5,702.2 L419,701.9 L422.9,701.9 L426.9,702.3 L430.4,702.6 L432.9,702.8 L434.2,702.5 L434.1,701.8 L432.7,700.5 L430.3,698.6 L427.3,696.2 L424.1,693.6 L421.5,691 L419.7,688.5 L419.2,686.4 L420.1,684.8 L422.3,683.8 L425.6,683.3 L429.5,683.3 L433.5,683.6 L437.1,683.9 L439.9,684.1 L441.4,684 L441.6,683.4 L440.4,682.2 L438.2,680.4 L435.2,678.1 L432.1,675.6 L429.3,672.9 L427.3,670.4 L426.6,668.2 L427.2,666.4 L429.1,665.3 L432.2,664.7 L436,664.7 L440,664.9 L443.8,665.3 L446.7,665.5 L448.6,665.5 L449,664.9 L448.1,663.8 L446,662.2 L443.2,660 L440.1,657.5 L437.2,654.8 L435,652.2 L434,650 L434.3,648.1 L436,646.9 L438.8,646.2 L442.5,646 L446.6,646.2 L450.4,646.6 L453.6,646.9 L455.6,646.9 L456.4,646.5 L455.7,645.5 L453.9,643.9 L451.1,641.9 L448,639.4 L445,636.7 L442.7,634.1 L441.4,631.8 L441.5,629.9 L442.9,628.5 L445.5,627.7 L449.1,627.4 L453.1,627.6" fill="none" stroke="#0e7585" stroke-width="4.2" stroke-linecap="round" stroke-linejoin="round"/>
<path d="M408.5,616.7 C409.7,616.3 412.2,614.3 415.8,614.3 C419.5,614.3 425.6,613.9 430.5,616.7 C435.4,619.6 442.8,629 445.2,631.4" fill="none" stroke="#08464f" stroke-width="4.2" stroke-linecap="round" stroke-linejoin="round" stroke-opacity="0.5"/><path d="M408.5,616.7 C409.7,616.3 412.2,614.3 415.8,614.3 C419.5,614.3 425.6,613.9 430.5,616.7 C435.4,619.6 442.8,629 445.2,631.4" fill="none" stroke="#0e7585" stroke-width="3.2" stroke-linecap="round" stroke-linejoin="round" stroke-opacity="1"/>
<path d="M415.8,722 C414.2,724.4 408.5,727.7 406,736.7 C403.6,745.6 402,769.3 401.2,775.8" fill="none" stroke="#08464f" stroke-width="4.6" stroke-linecap="round" stroke-linejoin="round" stroke-opacity="0.5"/><path d="M415.8,722 C414.2,724.4 408.5,727.7 406,736.7 C403.6,745.6 402,769.3 401.2,775.8" fill="none" stroke="#0e7585" stroke-width="3.6" stroke-linecap="round" stroke-linejoin="round" stroke-opacity="1"/>
<path d="M379.1,697.5 C382,697.9 394.2,696.7 396.3,700 C398.3,703.2 391,715.9 391.4,717.1 C391.8,718.3 397.5,708.9 398.7,707.3" fill="none" stroke="#1f4fb0" stroke-width="2.4"/>
<path d="M420.7,726.9 C422.4,728.5 429.7,731.8 430.5,736.7 C431.3,741.6 427.3,747.3 425.6,756.3 C424,765.2 421.6,784.8 420.7,790.5" fill="none" stroke="#e3141a" stroke-width="1.8" stroke-linecap="round" stroke-linejoin="round" stroke-opacity="1"/>
<path d="M428.1,751.4 C427.3,754.6 424.7,764.4 423.2,770.9 C421.6,777.5 419.5,787.3 418.8,790.5" fill="none" stroke="#880c0f" stroke-width="5.2" stroke-linecap="round" stroke-linejoin="round" stroke-opacity="0.5"/><path d="M428.1,751.4 C427.3,754.6 424.7,764.4 423.2,770.9 C421.6,777.5 419.5,787.3 418.8,790.5" fill="none" stroke="#e3141a" stroke-width="4.2" stroke-linecap="round" stroke-linejoin="round" stroke-opacity="1"/>
<path d="M410.9,784.5 C410.1,786.9 407.7,792.2 406,799.2 C404.4,806.1 398.7,822.4 401.2,826.1 C403.6,829.8 415,824.1 420.7,821.2 C426.4,818.3 432.2,814.3 435.4,809 C438.7,803.7 440.3,795.1 440.3,789.4 C440.3,783.7 437.5,778 435.4,774.7 C433.4,771.4 429.3,770.6 428.1,769.8" fill="none" stroke="#e3141a" stroke-width="1.8" stroke-linecap="round" stroke-linejoin="round" stroke-opacity="1"/>
<path d="M296.8,913.8 C297,911.9 298.5,906.4 298,902.8 C297.6,899.3 296.1,895.6 294.2,892.5 C292.2,889.5 289.6,886.4 286.5,884.6 C283.5,882.8 279.5,881.9 275.9,881.6 C272.4,881.4 268.7,883.3 265,883.1 C261.4,883 255.9,883 254.3,880.8 C252.7,878.6 253.4,872.4 255.3,869.8 C257.1,867.2 261.8,865.7 265.3,865.2 C268.7,864.7 272.5,866.7 276.2,866.7 C279.8,866.6 283.4,865.6 287,864.8 C290.6,864 294,861.9 297.6,861.8 C301.1,861.7 306.5,863.9 308.3,864.3" fill="none" stroke="#b89a6e" stroke-width="1.1" stroke-linecap="round" stroke-linejoin="round"/><path d="M366,784.7 C366.6,786.4 369.6,791.5 369.9,795 C370.2,798.5 369.3,802.5 367.9,805.8 C366.4,809 363.9,812.2 361.2,814.5 C358.4,816.8 354.8,818.6 351.3,819.4 C347.8,820.1 343.8,819.8 340.3,819 C336.8,818.2 332.7,817.1 330.2,814.7 C327.6,812.4 325.9,808.5 324.9,805.1 C323.9,801.6 323.4,797.5 324.3,794.1 C325.2,790.7 327.7,785.5 330.3,784.9 C332.9,784.3 336.6,788.6 339.8,790.5 C342.9,792.3 346.6,793.5 349.4,795.9 C352.1,798.2 355.1,803 356.2,804.4" fill="none" stroke="#b89a6e" stroke-width="1.1" stroke-linecap="round" stroke-linejoin="round"/><path d="M357.2,864.6 C356.2,866.1 352.5,870.3 350.9,873.6 C349.2,876.8 347.5,880.5 347.3,884 C347.1,887.5 349.9,891.1 349.9,894.7 C349.9,898.2 348.9,902.1 347.3,905.3 C345.7,908.5 343.3,912.2 340.4,913.9 C337.4,915.6 333.1,915.5 329.5,915.6 C325.9,915.6 322.2,914.8 318.6,914.1 C315,913.5 311.2,913.2 307.8,911.8 C304.5,910.4 302,906.9 298.7,905.8 C295.3,904.7 291.2,906 287.7,905.4 C284.1,904.8 280.7,903 277.2,902.1 C273.6,901.2 268.2,900.1 266.4,899.7" fill="none" stroke="#b89a6e" stroke-width="1.1" stroke-linecap="round" stroke-linejoin="round"/><path d="M349,830.7 C347.2,830.8 341.7,831.1 338.1,831.7 C334.5,832.4 330.5,832.7 327.4,834.5 C324.4,836.3 322.3,839.8 319.8,842.4 C317.3,845.1 314.2,847.4 312.3,850.5 C310.4,853.5 309,857.2 308.5,860.8 C307.9,864.3 308,868.3 309,871.8 C309.9,875.2 312.2,878.4 314.2,881.4 C316.3,884.4 318.4,888 321.3,889.8 C324.3,891.6 328.6,891.1 332.1,892.3 C335.5,893.5 339.5,894.7 341.9,897.2 C344.4,899.6 344.8,904 346.6,907.1 C348.4,910.3 351.7,914.7 352.8,916.2" fill="none" stroke="#b89a6e" stroke-width="1.1" stroke-linecap="round" stroke-linejoin="round"/><path d="M372,812.7 C370.2,812.6 364.4,813.6 361,812.6 C357.7,811.5 354.3,809.1 351.9,806.5 C349.4,803.9 348.8,799.6 346.3,797 C343.9,794.3 336.9,791.8 337.3,790.8 C337.6,789.7 344.6,791 348.2,790.6 C351.9,790.2 355.4,788.6 359,788.4 C362.6,788.3 366.6,788.5 369.9,789.8 C373.3,791 377.1,793 379.2,795.8 C381.2,798.6 381.5,802.8 382.2,806.3 C383,809.9 383.8,813.6 383.7,817.3 C383.5,820.9 381.4,824.4 381.4,828 C381.5,831.6 383.5,837 383.9,838.7" fill="none" stroke="#b89a6e" stroke-width="1.1" stroke-linecap="round" stroke-linejoin="round"/><path d="M367.7,893.7 C366,893 360.5,891.6 357.4,889.8 C354.3,887.9 352.1,884.7 349,882.7 C346,880.7 342.7,878.8 339.2,877.7 C335.8,876.6 331.9,875.7 328.4,876 C324.8,876.3 321.6,879 318,879.7 C314.5,880.4 310.3,879.2 307,880.5 C303.7,881.7 300.6,884.4 298.3,887.1 C295.9,889.8 293.6,893.3 292.9,896.7 C292.3,900.1 294.3,904 294.4,907.6 C294.5,911.3 294,914.9 293.6,918.6 C293.1,922.2 292.5,925.8 291.8,929.4 C291.1,933 289.7,938.4 289.3,940.2" fill="none" stroke="#b89a6e" stroke-width="1.1" stroke-linecap="round" stroke-linejoin="round"/><path d="M313.5,799.8 C314.8,801 318.3,805.7 321.4,807.4 C324.5,809 328.6,809.4 332.2,809.5 C335.8,809.7 339.7,809.4 343.1,808.4 C346.6,807.5 349.6,805 353.1,803.7 C356.5,802.4 360.7,802.5 363.6,800.4 C366.4,798.4 367.2,793 370.1,791.6 C373,790.2 378,790.4 381.1,791.8 C384.2,793.2 386.9,796.7 388.6,799.9 C390.3,803 389.3,807.7 391.3,810.5 C393.3,813.3 397.2,814.9 400.5,816.6 C403.8,818.2 408.7,817.8 410.9,820.1 C413.1,822.5 413.1,829 413.5,830.8" fill="none" stroke="#b89a6e" stroke-width="1.1" stroke-linecap="round" stroke-linejoin="round"/><path d="M339.4,910.7 C340.2,912.4 342.3,917.5 343.8,920.8 C345.3,924.2 347.8,927.4 348.2,930.9 C348.5,934.4 347.3,938.3 345.9,941.7 C344.5,945 341.4,947.6 340,951 C338.7,954.3 339,958.3 337.8,961.7 C336.6,965.2 335.2,970.6 332.7,971.5 C330.2,972.4 326.2,967.8 322.7,966.9 C319.2,966 314.2,968 311.8,966.1 C309.3,964.3 309.5,959.1 307.8,955.9 C306.1,952.6 304.2,949.3 301.7,946.7 C299.2,944.2 295.9,942 292.6,940.5 C289.4,938.9 283.8,937.9 282.1,937.4" fill="none" stroke="#b89a6e" stroke-width="1.1" stroke-linecap="round" stroke-linejoin="round"/><path d="M262.8,927.8 C261.6,926.4 257.4,922.5 255.8,919.3 C254.1,916.1 252.8,912.2 252.8,908.7 C252.7,905.2 254.7,901.6 255.6,898.1 C256.5,894.5 257.1,890.9 258.1,887.4 C259.1,883.8 260.8,880.5 261.5,876.9 C262.1,873.3 260.2,867.4 262.1,865.9 C264.1,864.4 269.3,867.4 273,867.8 C276.6,868.3 280.5,869.4 283.9,868.7 C287.4,868 290.3,864.4 293.8,863.7 C297.2,863 301.3,865.3 304.7,864.6 C308.2,863.8 310.9,860.2 314.4,859.3 C317.8,858.3 323.5,859.1 325.4,859" fill="none" stroke="#b89a6e" stroke-width="1.1" stroke-linecap="round" stroke-linejoin="round"/>
<path d="M353.1,831.6 C354.9,831.2 360.5,830.6 363.9,829.3 C367.2,828 370.1,825.5 373.5,823.9 C376.8,822.4 380.3,821.4 383.7,820 C387.2,818.7 391.8,815 394,816.1 C396.2,817.2 396.4,824.9 396.9,826.7" fill="none" stroke="#d6ba8e" stroke-width="2.8" stroke-linecap="round" stroke-linejoin="round"/><path d="M331.6,859.6 C330,858.7 324.7,856.7 321.8,854.5 C318.9,852.4 317.4,848.1 314.3,846.5 C311.2,844.9 304.6,847.1 303.4,845.1 C302.2,843.1 304.8,837.4 307,834.7 C309.2,832.1 314.9,830.1 316.5,829.1" fill="none" stroke="#d6ba8e" stroke-width="2.8" stroke-linecap="round" stroke-linejoin="round"/><path d="M391.9,897.4 C391.3,895.7 390,890.1 387.9,887.2 C385.8,884.3 382.4,882.3 379.4,880.2 C376.5,878 373.4,875.7 370.1,874.4 C366.7,873 362.9,871.9 359.4,872 C355.8,872 350.5,874.2 348.7,874.6" fill="none" stroke="#d6ba8e" stroke-width="2.8" stroke-linecap="round" stroke-linejoin="round"/><path d="M284.8,916 C285.9,914.5 288.4,909.2 291.1,907 C293.8,904.7 297.6,903 301.1,902.4 C304.6,901.7 308.6,903.8 312.1,903.1 C315.5,902.4 318.5,898.8 322,898.3 C325.4,897.8 331,899.8 332.8,900.1" fill="none" stroke="#d6ba8e" stroke-width="2.8" stroke-linecap="round" stroke-linejoin="round"/><path d="M282.8,873.3 C284.6,873.2 290.1,872.3 293.7,872.4 C297.3,872.6 301.3,872.8 304.6,874.2 C307.8,875.7 309.9,879.8 313.2,881.1 C316.4,882.4 320.5,882.2 324.1,882.1 C327.8,881.9 333.2,880.5 335,880.2" fill="none" stroke="#d6ba8e" stroke-width="2.8" stroke-linecap="round" stroke-linejoin="round"/><path d="M364.3,895.2 C365.1,896.9 366.4,902.7 368.7,905.3 C370.9,908 378.2,910.5 377.9,911.3 C377.6,912.2 370.5,911.2 366.9,910.4 C363.4,909.7 359.8,908.4 356.5,906.8 C353.3,905.2 348.9,901.8 347.3,900.8" fill="none" stroke="#d6ba8e" stroke-width="2.8" stroke-linecap="round" stroke-linejoin="round"/>
<path d="M340.1,780.9 L336.9,782.4 L334.1,783.6 L332.3,784.6 L331.6,785.3 L332.3,785.8 L334.3,786.3 L337.2,786.7 L340.7,787.3 L344.3,788 L347.4,789.1 L349.6,790.3 L350.7,791.8 L350.4,793.6 L348.8,795.4 L346.2,797.2 L343.1,798.9 L339.8,800.4 L336.9,801.7 L334.9,802.7 L334.1,803.4 L334.6,804 L336.4,804.4 L339.2,804.8 L342.7,805.4 L346.3,806.1 L349.5,807.1 L351.8,808.3 L353.1,809.8 L352.9,811.5 L351.5,813.3 L349.1,815.1 L346,816.8 L342.7,818.4 L339.7,819.7 L337.6,820.7 L336.6,821.5 L336.9,822.1 L338.5,822.5 L341.2,823 L344.6,823.5 L348.2,824.2 L351.5,825.1 L354,826.3 L355.4,827.8 L355.5,829.4 L354.3,831.2 L351.9,833 L348.9,834.8 L345.6,836.4 L342.6,837.7 L340.3,838.8 L339.1,839.6 L339.2,840.2 L340.7,840.7 L343.2,841.1 L346.5,841.6 L350.1,842.2 L353.5,843.1 L356.2,844.3 L357.7,845.7 L358,847.4 L357,849.1 L354.8,851 L351.8,852.7 L348.5,854.3 L345.4,855.7 L343,856.8 L341.6,857.7 L341.6,858.3 L342.8,858.8 L345.3,859.2 L348.5,859.7 L352.1,860.3 L355.5,861.2 L358.3,862.3 L360,863.7 L360.5,865.3 L359.6,867.1 L357.6,868.9 L354.7,870.7 L351.4,872.3 L348.3,873.7 L345.7,874.9 L344.2,875.7 L343.9,876.4 L345,876.9 L347.3,877.3 L350.4,877.8 L354,878.4 L357.5,879.2 L360.4,880.3 L362.3,881.7 L363,883.2 L362.3,885 L360.4,886.8 L357.6,888.6 L354.3,890.3 L351.1,891.7 L348.5,892.9 L346.8,893.8 L346.3,894.5 L347.2,895 L349.4,895.5 L352.4,895.9 L355.9,896.5 L359.5,897.3 L362.5,898.3 L364.6,899.6 L365.4,901.2 L364.9,902.9 L363.2,904.7 L360.5,906.5 L357.3,908.2" fill="none" stroke="#806d51" stroke-width="4.6" stroke-linecap="round" stroke-linejoin="round" stroke-opacity="0.5"/><path d="M340.1,780.9 L336.9,782.4 L334.1,783.6 L332.3,784.6 L331.6,785.3 L332.3,785.8 L334.3,786.3 L337.2,786.7 L340.7,787.3 L344.3,788 L347.4,789.1 L349.6,790.3 L350.7,791.8 L350.4,793.6 L348.8,795.4 L346.2,797.2 L343.1,798.9 L339.8,800.4 L336.9,801.7 L334.9,802.7 L334.1,803.4 L334.6,804 L336.4,804.4 L339.2,804.8 L342.7,805.4 L346.3,806.1 L349.5,807.1 L351.8,808.3 L353.1,809.8 L352.9,811.5 L351.5,813.3 L349.1,815.1 L346,816.8 L342.7,818.4 L339.7,819.7 L337.6,820.7 L336.6,821.5 L336.9,822.1 L338.5,822.5 L341.2,823 L344.6,823.5 L348.2,824.2 L351.5,825.1 L354,826.3 L355.4,827.8 L355.5,829.4 L354.3,831.2 L351.9,833 L348.9,834.8 L345.6,836.4 L342.6,837.7 L340.3,838.8 L339.1,839.6 L339.2,840.2 L340.7,840.7 L343.2,841.1 L346.5,841.6 L350.1,842.2 L353.5,843.1 L356.2,844.3 L357.7,845.7 L358,847.4 L357,849.1 L354.8,851 L351.8,852.7 L348.5,854.3 L345.4,855.7 L343,856.8 L341.6,857.7 L341.6,858.3 L342.8,858.8 L345.3,859.2 L348.5,859.7 L352.1,860.3 L355.5,861.2 L358.3,862.3 L360,863.7 L360.5,865.3 L359.6,867.1 L357.6,868.9 L354.7,870.7 L351.4,872.3 L348.3,873.7 L345.7,874.9 L344.2,875.7 L343.9,876.4 L345,876.9 L347.3,877.3 L350.4,877.8 L354,878.4 L357.5,879.2 L360.4,880.3 L362.3,881.7 L363,883.2 L362.3,885 L360.4,886.8 L357.6,888.6 L354.3,890.3 L351.1,891.7 L348.5,892.9 L346.8,893.8 L346.3,894.5 L347.2,895 L349.4,895.5 L352.4,895.9 L355.9,896.5 L359.5,897.3 L362.5,898.3 L364.6,899.6 L365.4,901.2 L364.9,902.9 L363.2,904.7 L360.5,906.5 L357.3,908.2" fill="none" stroke="#d6b788" stroke-width="3.4" stroke-linecap="round" stroke-linejoin="round"/>
<path d="M362.8,834.5 L360.7,837.4 L358.9,839.8 L357.7,841.6 L357.5,842.5 L358.3,842.7 L360.2,842.3 L363,841.3 L366.3,840.2 L369.8,839.2 L373,838.6 L375.7,838.6 L377.4,839.4 L378.1,841 L377.7,843.3 L376.5,846.1 L374.6,849.1 L372.4,852 L370.5,854.6 L369.1,856.5 L368.6,857.7 L369.2,858.1 L370.8,857.8 L373.3,857 L376.5,855.9 L380,854.8 L383.3,854.1 L386.2,853.9 L388.2,854.5 L389.2,855.9 L389.1,858 L388.1,860.6 L386.3,863.6 L384.2,866.6 L382.2,869.3 L380.6,871.4 L379.9,872.9 L380.1,873.5 L381.4,873.4 L383.7,872.7 L386.7,871.6 L390.2,870.5 L393.6,869.6 L396.6,869.3 L398.9,869.6 L400.2,870.8 L400.4,872.7 L399.7,875.2 L398.1,878.1 L396,881.1 L394,883.9 L392.2,886.3 L391.2,887.9 L391.1,888.8 L392.1,888.9 L394.1,888.3 L397,887.3 L400.4,886.2" fill="none" stroke="#806d51" stroke-width="4.6" stroke-linecap="round" stroke-linejoin="round" stroke-opacity="0.5"/><path d="M362.8,834.5 L360.7,837.4 L358.9,839.8 L357.7,841.6 L357.5,842.5 L358.3,842.7 L360.2,842.3 L363,841.3 L366.3,840.2 L369.8,839.2 L373,838.6 L375.7,838.6 L377.4,839.4 L378.1,841 L377.7,843.3 L376.5,846.1 L374.6,849.1 L372.4,852 L370.5,854.6 L369.1,856.5 L368.6,857.7 L369.2,858.1 L370.8,857.8 L373.3,857 L376.5,855.9 L380,854.8 L383.3,854.1 L386.2,853.9 L388.2,854.5 L389.2,855.9 L389.1,858 L388.1,860.6 L386.3,863.6 L384.2,866.6 L382.2,869.3 L380.6,871.4 L379.9,872.9 L380.1,873.5 L381.4,873.4 L383.7,872.7 L386.7,871.6 L390.2,870.5 L393.6,869.6 L396.6,869.3 L398.9,869.6 L400.2,870.8 L400.4,872.7 L399.7,875.2 L398.1,878.1 L396,881.1 L394,883.9 L392.2,886.3 L391.2,887.9 L391.1,888.8 L392.1,888.9 L394.1,888.3 L397,887.3 L400.4,886.2" fill="none" stroke="#d6b788" stroke-width="3.4" stroke-linecap="round" stroke-linejoin="round"/>
<path d="M379.7,800.4 L377.1,802.9 L374.9,805 L373.5,806.5 L373.1,807.5 L373.9,807.9 L375.9,807.9 L378.9,807.6 L382.4,807.2 L386,806.9 L389.4,807 L392,807.6 L393.5,808.8 L393.9,810.6 L393.1,812.9 L391.3,815.4 L388.9,818.1 L386.3,820.6 L383.9,822.8 L382.3,824.6 L381.6,825.7 L382.2,826.2 L383.9,826.3 L386.6,826 L390,825.6 L393.7,825.3 L397.2,825.3 L400,825.8 L401.8,826.8 L402.5,828.5 L402,830.6 L400.4,833.1 L398.1,835.8 L395.5,838.4 L393.1,840.7 L391.2,842.5 L390.3,843.8 L390.5,844.5 L391.9,844.7 L394.4,844.5 L397.7,844.1 L401.3,843.7 L404.9,843.6 L407.9,844 L410,844.9 L411,846.4 L410.8,848.4 L409.5,850.8 L407.3,853.5 L404.7,856.1 L402.2,858.5 L400.1,860.5 L399,861.9 L398.9,862.8 L400,863 L402.3,862.9 L405.4,862.5 L409,862.2 L412.6,862 L415.8,862.2 L418.2,863 L419.4,864.3 L419.5,866.2 L418.4,868.6 L416.5,871.2 L414,873.8" fill="none" stroke="#806d51" stroke-width="4.6" stroke-linecap="round" stroke-linejoin="round" stroke-opacity="0.5"/><path d="M379.7,800.4 L377.1,802.9 L374.9,805 L373.5,806.5 L373.1,807.5 L373.9,807.9 L375.9,807.9 L378.9,807.6 L382.4,807.2 L386,806.9 L389.4,807 L392,807.6 L393.5,808.8 L393.9,810.6 L393.1,812.9 L391.3,815.4 L388.9,818.1 L386.3,820.6 L383.9,822.8 L382.3,824.6 L381.6,825.7 L382.2,826.2 L383.9,826.3 L386.6,826 L390,825.6 L393.7,825.3 L397.2,825.3 L400,825.8 L401.8,826.8 L402.5,828.5 L402,830.6 L400.4,833.1 L398.1,835.8 L395.5,838.4 L393.1,840.7 L391.2,842.5 L390.3,843.8 L390.5,844.5 L391.9,844.7 L394.4,844.5 L397.7,844.1 L401.3,843.7 L404.9,843.6 L407.9,844 L410,844.9 L411,846.4 L410.8,848.4 L409.5,850.8 L407.3,853.5 L404.7,856.1 L402.2,858.5 L400.1,860.5 L399,861.9 L398.9,862.8 L400,863 L402.3,862.9 L405.4,862.5 L409,862.2 L412.6,862 L415.8,862.2 L418.2,863 L419.4,864.3 L419.5,866.2 L418.4,868.6 L416.5,871.2 L414,873.8" fill="none" stroke="#d6b788" stroke-width="3.4" stroke-linecap="round" stroke-linejoin="round"/>
<path d="M254.9,903.2 L252.6,905.8 L250.5,908 L249.2,909.7 L248.9,910.7 L249.7,911 L251.6,910.8 L254.5,910.2 L257.9,909.5 L261.5,908.9 L264.8,908.7 L267.5,909 L269.2,910 L269.7,911.7 L269.2,913.9 L267.7,916.6 L265.5,919.4 L263.1,922.1 L260.9,924.5 L259.3,926.3 L258.7,927.6 L259.1,928.1 L260.7,928.1 L263.2,927.6 L266.5,926.9 L270.1,926.2 L273.6,925.8 L276.5,926 L278.5,926.7 L279.5,928.2 L279.3,930.2 L278.1,932.8 L276.1,935.6 L273.7,938.3 L271.4,940.9 L269.6,942.9 L268.6,944.4 L268.6,945.1 L269.8,945.3 L272.1,944.9 L275.2,944.2 L278.7,943.5 L282.2,943.1 L285.4,943 L287.8,943.5 L289.1,944.8 L289.3,946.6 L288.4,949 L286.6,951.8 L284.3,954.6" fill="none" stroke="#806d51" stroke-width="4.4" stroke-linecap="round" stroke-linejoin="round" stroke-opacity="0.5"/><path d="M254.9,903.2 L252.6,905.8 L250.5,908 L249.2,909.7 L248.9,910.7 L249.7,911 L251.6,910.8 L254.5,910.2 L257.9,909.5 L261.5,908.9 L264.8,908.7 L267.5,909 L269.2,910 L269.7,911.7 L269.2,913.9 L267.7,916.6 L265.5,919.4 L263.1,922.1 L260.9,924.5 L259.3,926.3 L258.7,927.6 L259.1,928.1 L260.7,928.1 L263.2,927.6 L266.5,926.9 L270.1,926.2 L273.6,925.8 L276.5,926 L278.5,926.7 L279.5,928.2 L279.3,930.2 L278.1,932.8 L276.1,935.6 L273.7,938.3 L271.4,940.9 L269.6,942.9 L268.6,944.4 L268.6,945.1 L269.8,945.3 L272.1,944.9 L275.2,944.2 L278.7,943.5 L282.2,943.1 L285.4,943 L287.8,943.5 L289.1,944.8 L289.3,946.6 L288.4,949 L286.6,951.8 L284.3,954.6" fill="none" stroke="#d6b788" stroke-width="3.2" stroke-linecap="round" stroke-linejoin="round"/>
<path d="M313.7,804.9 L312.5,807.5 L311.6,809.8 L311,811.7 L311.2,812.8 L312.1,813.4 L313.7,813.4 L316,813 L318.7,812.4 L321.7,811.9 L324.5,811.6 L326.9,811.7 L328.8,812.5 L329.9,813.9 L330.3,815.8 L330,818.3 L329.1,821 L328,823.7 L326.9,826.3 L326,828.5 L325.7,830.1 L326.1,831.1 L327.2,831.4 L329.1,831.3 L331.6,830.8 L334.4,830.2" fill="none" stroke="#806d51" stroke-width="4.2" stroke-linecap="round" stroke-linejoin="round" stroke-opacity="0.5"/><path d="M313.7,804.9 L312.5,807.5 L311.6,809.8 L311,811.7 L311.2,812.8 L312.1,813.4 L313.7,813.4 L316,813 L318.7,812.4 L321.7,811.9 L324.5,811.6 L326.9,811.7 L328.8,812.5 L329.9,813.9 L330.3,815.8 L330,818.3 L329.1,821 L328,823.7 L326.9,826.3 L326,828.5 L325.7,830.1 L326.1,831.1 L327.2,831.4 L329.1,831.3 L331.6,830.8 L334.4,830.2" fill="none" stroke="#d6b788" stroke-width="3" stroke-linecap="round" stroke-linejoin="round"/>
<path d="M281.2,870.2 L335.1,936.3" fill="none" stroke="#806d51" stroke-width="4" stroke-linecap="round" stroke-linejoin="round" stroke-opacity="0.5"/><path d="M281.2,870.2 L335.1,936.3" fill="none" stroke="#d6b788" stroke-width="3" stroke-linecap="round" stroke-linejoin="round" stroke-opacity="1"/>
<path d="M293.4,882.4 L349.7,943.6" fill="none" stroke="#806d51" stroke-width="4" stroke-linecap="round" stroke-linejoin="round" stroke-opacity="0.5"/><path d="M293.4,882.4 L349.7,943.6" fill="none" stroke="#d6b788" stroke-width="3" stroke-linecap="round" stroke-linejoin="round" stroke-opacity="1"/>
<path d="M273.9,911.8 L342.4,906.9" fill="none" stroke="#806d51" stroke-width="4" stroke-linecap="round" stroke-linejoin="round" stroke-opacity="0.5"/><path d="M273.9,911.8 L342.4,906.9" fill="none" stroke="#d6b788" stroke-width="3" stroke-linecap="round" stroke-linejoin="round" stroke-opacity="1"/>
<path d="M303.2,865.3 L308.1,946" fill="none" stroke="#806d51" stroke-width="4" stroke-linecap="round" stroke-linejoin="round" stroke-opacity="0.5"/><path d="M303.2,865.3 L308.1,946" fill="none" stroke="#d6b788" stroke-width="3" stroke-linecap="round" stroke-linejoin="round" stroke-opacity="1"/>
<path d="M391.4,809 L415.8,875.1" fill="none" stroke="#806d51" stroke-width="4" stroke-linecap="round" stroke-linejoin="round" stroke-opacity="0.5"/><path d="M391.4,809 L415.8,875.1" fill="none" stroke="#d6b788" stroke-width="3" stroke-linecap="round" stroke-linejoin="round" stroke-opacity="1"/>
<path d="M251.8,882.4 C253.9,879.1 257.9,866.1 264.1,862.8 C270.2,859.6 282,861.2 288.5,862.8 C295.1,864.4 304,868.5 303.2,872.6 C302.4,876.7 288.5,887.3 283.6,887.3 C278.8,887.3 277.9,873.4 273.9,872.6 C269.8,871.8 262.4,878.3 259.2,882.4 C255.9,886.5 255.1,894.6 254.3,897.1" fill="none" stroke="#d6b788" stroke-width="1.6" stroke-linecap="round" stroke-linejoin="round" stroke-opacity="1"/>
<path d="M313,906.9 C315.5,905.2 322,897.1 327.7,897.1 C333.4,897.1 340,904.4 347.3,906.9 C354.6,909.3 364.4,913.4 371.8,911.8 C379.1,910.1 384,901.2 391.4,897.1 C398.7,893 412.6,892.2 415.8,887.3 C419.1,882.4 409.3,872.6 410.9,867.7 C412.6,862.8 420.7,858.7 425.6,857.9 C430.5,857.1 435.4,862 440.3,862.8 C445.2,863.6 452.6,862.8 455,862.8" fill="none" stroke="#d6b788" stroke-width="1.6" stroke-linecap="round" stroke-linejoin="round" stroke-opacity="1"/>
<path d="M322.8,862.8 C324.4,864.9 333.4,871 332.6,875.1 C331.8,879.1 317.9,883.6 317.9,887.3 C317.9,891 333.4,892.2 332.6,897.1 C331.8,902 314.7,911 313,916.7 C311.4,922.4 318.7,926.5 322.8,931.4 C326.9,936.3 335.9,940.7 337.5,946 C339.1,951.4 333,957.5 332.6,963.2 C332.2,968.9 334.6,977.5 335.1,980.3" fill="none" stroke="#d6b788" stroke-width="1.5" stroke-linecap="round" stroke-linejoin="round" stroke-opacity="1"/>
<path d="M269,931.4 C271,934.6 281.2,946.9 281.2,950.9 C281.2,955 267.7,956.7 269,955.8 C270.2,955 283.6,946 288.5,946 C293.4,946 294.3,955.8 298.3,955.8 C302.4,955.8 308.1,945.2 313,946 C317.9,946.9 324,959.9 327.7,960.7 C331.4,961.6 333.8,952.6 335.1,950.9" fill="none" stroke="#d6b788" stroke-width="1.5" stroke-linecap="round" stroke-linejoin="round" stroke-opacity="1"/>
<path d="M310.6,804.1 C312.6,804.5 319.6,807.3 322.8,806.5 C326.1,805.7 326.1,798.8 330.2,799.2 C334.2,799.6 342,809.4 347.3,809 C352.6,808.6 357.1,796.7 362,796.7 C366.9,796.7 371,807.7 376.7,809 C382.4,810.2 393,804.9 396.3,804.1" fill="none" stroke="#d6b788" stroke-width="1.5" stroke-linecap="round" stroke-linejoin="round" stroke-opacity="1"/>
<g opacity="1"><g fill="#eae5df" filter="url(#shade)"><path d="M544.5,797 L551.9,789.8 L560.7,783.2 L571.8,781.6 L582,778 L592.6,775.8 L601.6,769 L611.5,765.4 L621.4,766.4 L631,766.1 L640.4,770.1 L647.9,779.7 L659.7,780.9 L668.3,787.3 L675.8,794.1 L684.7,798.2 L690.5,805.2 L687.7,814.8 L691.4,825 L686.1,835.4 L685,847.3 L688.8,859.6 L692.3,870.7 L694.4,880.1 L691.4,888.8 L688.5,898.2 L685.4,908.1 L679.7,916.6 L676.4,926.5 L666.8,931.4 L659.5,938.6 L653.2,948 L643.3,952.2 L634.4,957.5 L623.6,962.6 L616.4,973.2 L608.1,979.2 L602.7,982.4 L596.2,981.1 L588.8,974.7 L579.3,969.3 L569.7,961.8 L557.8,959.2 L548,956.5 L541.7,950 L536.7,941.6 L533.7,931.3 L528.4,921.7 L528.3,910.3 L525,899.9 L518.7,890.3 L517.7,880.6 L521.5,871.6 L519,860 L524.7,849.5 L521.7,838.2 L523.6,827.8 L530.4,818.6 L532.2,808.8 L536.7,801.5Z"/><circle cx="544.5" cy="797" r="10.7"/><circle cx="551.1" cy="788.2" r="7.9"/><circle cx="560.5" cy="782.9" r="5.6"/><circle cx="571.1" cy="780" r="8.9"/><circle cx="581.5" cy="776.7" r="9.4"/><circle cx="592.5" cy="775.6" r="11.1"/><circle cx="601.7" cy="769.4" r="7"/><circle cx="611.4" cy="764.8" r="5.8"/><circle cx="621.5" cy="764.4" r="7.9"/><circle cx="631" cy="766.1" r="5.9"/><circle cx="640.6" cy="769.6" r="5.6"/><circle cx="649.4" cy="776.8" r="11.1"/><circle cx="659.9" cy="780.4" r="6.7"/><circle cx="668.6" cy="786.9" r="8.5"/><circle cx="677.5" cy="791.9" r="10.4"/><circle cx="685.9" cy="797.2" r="7.4"/><circle cx="690.2" cy="805.3" r="5.8"/><circle cx="688" cy="814.7" r="10.2"/><circle cx="691.2" cy="825" r="5.5"/><circle cx="687.5" cy="835.6" r="10"/><circle cx="686.5" cy="847.4" r="10"/><circle cx="690.8" cy="859.2" r="6.9"/><circle cx="694.5" cy="870" r="6.9"/><circle cx="694.5" cy="880.1" r="7.5"/><circle cx="691.1" cy="888.8" r="9.7"/><circle cx="690.6" cy="899" r="9.8"/><circle cx="686.7" cy="908.6" r="8.8"/><circle cx="680.7" cy="917.2" r="10.2"/><circle cx="676.8" cy="926.8" r="7.1"/><circle cx="668.9" cy="933.4" r="11.3"/><circle cx="661.9" cy="941.4" r="10.8"/><circle cx="654.3" cy="949.3" r="7.1"/><circle cx="642.9" cy="951.6" r="10"/><circle cx="635.4" cy="959.3" r="10"/><circle cx="624.9" cy="964.4" r="10.8"/><circle cx="616.1" cy="972.9" r="6.9"/><circle cx="608.3" cy="979.5" r="9.3"/><circle cx="602.6" cy="981.5" r="9.5"/><circle cx="596.3" cy="980.9" r="8.3"/><circle cx="589" cy="974.5" r="9.7"/><circle cx="579.1" cy="969.4" r="8.1"/><circle cx="568.8" cy="963.5" r="8.9"/><circle cx="557.6" cy="959.6" r="6.8"/><circle cx="548.2" cy="956.2" r="6"/><circle cx="540" cy="951.4" r="6.4"/><circle cx="537" cy="941.4" r="6.1"/><circle cx="531.7" cy="932.1" r="7.6"/><circle cx="526.6" cy="922.4" r="5.7"/><circle cx="527.7" cy="910.5" r="9.7"/><circle cx="524.9" cy="899.9" r="9.7"/><circle cx="518.2" cy="890.5" r="5.9"/><circle cx="517.8" cy="880.6" r="7.7"/><circle cx="522" cy="871.6" r="10.4"/><circle cx="519.2" cy="860" r="5.9"/><circle cx="525.5" cy="849.6" r="11"/><circle cx="520.1" cy="838" r="6.1"/><circle cx="521.6" cy="827.3" r="6.2"/><circle cx="530.6" cy="818.7" r="10.6"/><circle cx="532.4" cy="808.9" r="9.3"/><circle cx="535.2" cy="800.2" r="9.3"/></g></g>
<g opacity="1"><g fill="#dde8dc" filter="url(#shade)"><path d="M603.2,618.5 L611.4,619.2 L619.8,618 L629.7,620.2 L638.3,626.4 L647.1,632.6 L653.9,641.5 L662.1,647.2 L671.6,651.9 L674.4,661.9 L678.8,671.6 L681.5,682.7 L683.7,691.4 L683.6,695.7 L680.5,703.8 L669.3,706.4 L662.1,715.9 L651.4,720.4 L643.8,728.1 L634.9,731.5 L625.3,733.3 L614.3,733.4 L601.3,732.6 L590.6,741.1 L581.7,749 L573.8,752.2 L571.5,752.7 L567.8,747.6 L568.5,738.4 L568.5,729.1 L566.5,718.4 L572.6,708.6 L572.5,697.3 L574.6,686.4 L579.2,676.3 L583.7,666.2 L585.2,655.2 L588.1,644.6 L594.9,636.1 L597.7,625.9Z"/><circle cx="602.1" cy="617" r="6.1"/><circle cx="611.1" cy="616.7" r="10"/><circle cx="620.1" cy="616.9" r="7.4"/><circle cx="630.2" cy="619" r="5.6"/><circle cx="638.4" cy="626.2" r="7.2"/><circle cx="648" cy="631.3" r="7.7"/><circle cx="654.7" cy="640.4" r="11.3"/><circle cx="662.6" cy="646.7" r="10.6"/><circle cx="672.3" cy="651.3" r="5.7"/><circle cx="674.5" cy="661.9" r="8.1"/><circle cx="679" cy="671.5" r="7.6"/><circle cx="683.5" cy="681.9" r="8.7"/><circle cx="687" cy="691" r="10.7"/><circle cx="686.1" cy="697.1" r="10.4"/><circle cx="681.3" cy="704.9" r="5.5"/><circle cx="668.8" cy="705.7" r="10.1"/><circle cx="662.5" cy="716.5" r="5.5"/><circle cx="651.3" cy="720.4" r="8.4"/><circle cx="644.3" cy="728.8" r="6.6"/><circle cx="634.8" cy="731.3" r="7.6"/><circle cx="625.3" cy="732.7" r="7.1"/><circle cx="614.4" cy="735.2" r="7.2"/><circle cx="601.6" cy="733.8" r="9.7"/><circle cx="590.8" cy="741.4" r="6.2"/><circle cx="581.7" cy="749" r="6"/><circle cx="573.8" cy="752.1" r="9.7"/><circle cx="570.6" cy="754.1" r="9.3"/><circle cx="566.5" cy="748.1" r="7.9"/><circle cx="565.1" cy="738.7" r="10.8"/><circle cx="564.9" cy="728.8" r="10.8"/><circle cx="565" cy="718.1" r="6.7"/><circle cx="571.3" cy="708.3" r="10.9"/><circle cx="572.9" cy="697.4" r="7.8"/><circle cx="573.7" cy="686.1" r="6.9"/><circle cx="579.1" cy="676.2" r="8.7"/><circle cx="583.1" cy="666" r="10"/><circle cx="583.7" cy="654.6" r="7.6"/><circle cx="588.3" cy="644.7" r="6.4"/><circle cx="594.8" cy="636" r="9.5"/><circle cx="596.9" cy="625.3" r="6.5"/></g></g>
<g opacity="0.8"><g fill="#e7b8b8" filter="url(#shade)"><path d="M642.5,710.3 L648.4,706.5 L658.6,710.3 L669,707.4 L678.1,712.1 L687.8,713 L694.2,718.9 L696.3,727.5 L699.2,736.9 L696.6,747.6 L701.8,758.1 L701.9,769.1 L697.1,780.1 L698.6,791.4 L702,802.9 L705.1,815.6 L713.4,826.2 L719.5,827 L715.6,832.2 L712.3,840.5 L708.9,848.7 L702,850.5 L697.9,846.2 L692.3,841.1 L687,832.4 L684.1,821.9 L680.2,811.7 L676.4,801.3 L670.9,791.4 L664.6,781.9 L658.7,772.4 L657.4,761 L652.3,751.6 L647.6,742 L645.4,731.4 L642.7,721.2 L638.3,713.1Z"/><circle cx="641.9" cy="709.6" r="10.1"/><circle cx="648.3" cy="705.6" r="6.3"/><circle cx="658.6" cy="707.7" r="10.8"/><circle cx="669.2" cy="706" r="6.6"/><circle cx="678" cy="712.4" r="9.7"/><circle cx="688.8" cy="711.4" r="6.4"/><circle cx="695.3" cy="718" r="7"/><circle cx="698.6" cy="726.7" r="8.6"/><circle cx="701.2" cy="736.6" r="7.5"/><circle cx="696.9" cy="747.6" r="11.4"/><circle cx="701.3" cy="758.1" r="6.1"/><circle cx="703" cy="769.1" r="6.1"/><circle cx="697.1" cy="780.1" r="11.4"/><circle cx="700.1" cy="791.3" r="9.9"/><circle cx="702.4" cy="802.8" r="6.7"/><circle cx="706.5" cy="814.8" r="6.1"/><circle cx="714.9" cy="824" r="7.8"/><circle cx="719.5" cy="827" r="7.9"/><circle cx="716.7" cy="832.6" r="9.7"/><circle cx="713.4" cy="841.2" r="9.3"/><circle cx="709.2" cy="849.1" r="6.4"/><circle cx="702" cy="850.6" r="7.9"/><circle cx="696.9" cy="847.6" r="10.9"/><circle cx="692.2" cy="841.1" r="8.9"/><circle cx="685.2" cy="833.2" r="8"/><circle cx="684.5" cy="821.7" r="9.8"/><circle cx="679.8" cy="811.8" r="10.1"/><circle cx="675.9" cy="801.5" r="10.6"/><circle cx="669.7" cy="791.9" r="9.3"/><circle cx="664.2" cy="782.1" r="7.4"/><circle cx="657.9" cy="772.8" r="6.1"/><circle cx="657.1" cy="761.1" r="10.2"/><circle cx="650.2" cy="752.4" r="9.3"/><circle cx="646.5" cy="742.4" r="8"/><circle cx="644" cy="731.8" r="9.2"/><circle cx="643.3" cy="721.1" r="9.6"/><circle cx="638" cy="713.1" r="6.6"/></g></g>
<g opacity="0.8"><g fill="#c5dadc" filter="url(#shade)"><path d="M532.3,616.5 L541,612.5 L550.9,609.5 L561.7,610.7 L572.7,615.7 L584.4,611.5 L595.6,613.8 L606.4,613.8 L616.5,616.3 L626.7,616.4 L636.2,619 L642.3,624.7 L646.6,631.8 L645.4,641.5 L644.6,652 L643.9,662.8 L639,672.6 L635.8,682.6 L631.8,692.3 L622.9,698.8 L619.4,709.5 L611.4,717.1 L604.9,726.2 L594.5,732.1 L588.5,741.9 L582.3,751.3 L574.6,758.9 L565.6,764.1 L558.7,770.9 L549.7,773.8 L540.4,773.6 L530.4,772.6 L519.5,774.1 L510.9,772.1 L503.6,768.3 L502,758.9 L500.5,748.7 L500.2,737.8 L500.8,726.8 L501.9,715.8 L497.1,704.8 L501.8,693.8 L498,682.7 L501.3,671.9 L498.9,660.7 L503.8,650.6 L503.4,640 L508.1,631.3 L514.5,624.4 L524,621.4Z"/><circle cx="531.7" cy="614.9" r="10.2"/><circle cx="541.1" cy="613.2" r="8.4"/><circle cx="550.9" cy="608.9" r="5.7"/><circle cx="561.7" cy="610.7" r="6.5"/><circle cx="572.8" cy="614.4" r="11.1"/><circle cx="584.4" cy="611" r="6.1"/><circle cx="595.6" cy="613.6" r="8.7"/><circle cx="606.5" cy="613.3" r="8.6"/><circle cx="616.7" cy="615.1" r="10.5"/><circle cx="626.5" cy="617" r="8"/><circle cx="636.4" cy="618.7" r="6.8"/><circle cx="642.4" cy="624.7" r="7.9"/><circle cx="646" cy="631.9" r="6.2"/><circle cx="647.9" cy="641.7" r="7.6"/><circle cx="645.8" cy="652.2" r="7.1"/><circle cx="644.8" cy="663" r="5.6"/><circle cx="639.2" cy="672.7" r="8"/><circle cx="637.4" cy="683.3" r="7.6"/><circle cx="631.9" cy="692.3" r="6.8"/><circle cx="623.9" cy="699.5" r="11.1"/><circle cx="619.3" cy="709.5" r="6.8"/><circle cx="612.9" cy="718.4" r="7.9"/><circle cx="604.9" cy="726.2" r="6.3"/><circle cx="595" cy="732.6" r="10.4"/><circle cx="589.1" cy="742.4" r="8.3"/><circle cx="581.9" cy="750.9" r="6.9"/><circle cx="575" cy="759.2" r="7.6"/><circle cx="565.5" cy="763.9" r="10.4"/><circle cx="559.6" cy="772.5" r="8.3"/><circle cx="550.4" cy="776.3" r="8.8"/><circle cx="540.4" cy="775.6" r="10.5"/><circle cx="530.2" cy="775" r="10.6"/><circle cx="519.2" cy="775.9" r="7.8"/><circle cx="509.9" cy="774" r="8.1"/><circle cx="503.5" cy="768.4" r="5.5"/><circle cx="500.3" cy="759.4" r="7.2"/><circle cx="499.5" cy="748.8" r="7.3"/><circle cx="499.7" cy="737.8" r="8.1"/><circle cx="499.1" cy="726.9" r="9.5"/><circle cx="502.3" cy="715.8" r="11.1"/><circle cx="497.3" cy="704.8" r="5.8"/><circle cx="501.9" cy="693.8" r="10.9"/><circle cx="498.2" cy="682.7" r="6.3"/><circle cx="498.1" cy="671.6" r="9.3"/><circle cx="499.3" cy="660.7" r="5.6"/><circle cx="501.6" cy="650.2" r="9.4"/><circle cx="501.7" cy="639.4" r="6.1"/><circle cx="508.1" cy="631.3" r="6.9"/><circle cx="513" cy="622.8" r="7.6"/><circle cx="524.1" cy="621.5" r="10.9"/></g></g>
<path d="M594.1,710.3 C594.9,711.5 597,715.8 599.2,717.7 C601.4,719.6 604.9,719.9 607.4,721.5 C609.8,723.2 614.4,726.6 614,727.7 C613.6,728.8 607.9,728.6 605,728.2 C602.1,727.7 599.4,726 596.5,725.1 C593.6,724.2 590.3,724.3 587.8,722.8 C585.3,721.4 582.6,718.9 581.6,716.4 C580.5,713.8 580.7,710.2 581.2,707.4 C581.8,704.5 583.5,701.8 584.7,699 C585.8,696.3 587.7,692.2 588.3,690.8" fill="none" stroke="#86b886" stroke-width="1.2" stroke-linecap="round" stroke-linejoin="round"/><path d="M621.3,665.7 C622.2,664.5 624.6,660.5 626.8,658.6 C629,656.6 631.8,654.8 634.6,654 C637.4,653.3 640.8,654.7 643.6,653.9 C646.4,653.2 649.5,648.8 651.3,649.4 C653.2,650.1 653.1,655.2 654.5,657.9 C655.9,660.5 658.2,662.6 659.9,665 C661.6,667.5 663,670.2 664.9,672.5 C666.8,674.8 669.9,676.4 671.2,678.9 C672.6,681.4 673.3,684.9 673,687.7 C672.6,690.6 669.7,694.5 669.1,695.9" fill="none" stroke="#86b886" stroke-width="1.2" stroke-linecap="round" stroke-linejoin="round"/><path d="M666.5,661.1 C667.3,662.3 670.2,666 671.2,668.7 C672.3,671.5 672.2,674.7 672.7,677.6 C673.2,680.6 673,683.8 674.2,686.5 C675.4,689.1 680,691.2 679.9,693.4 C679.8,695.7 675.6,697.7 673.6,699.9 C671.5,702 669.7,704.5 667.4,706.5 C665.2,708.4 662.6,710.7 659.8,711.3 C657.1,711.9 653.8,709.6 650.9,710 C648.1,710.4 645.4,712.4 642.7,713.6 C639.9,714.8 635.8,716.5 634.4,717.1" fill="none" stroke="#86b886" stroke-width="1.2" stroke-linecap="round" stroke-linejoin="round"/><path d="M630.9,658.2 C629.5,657.5 625.3,655.7 622.8,654.1 C620.3,652.5 617.9,650.6 615.8,648.5 C613.7,646.3 612.3,643.6 610.3,641.4 C608.2,639.2 603.2,636.3 603.6,635.3 C604,634.4 609.6,635.8 612.6,635.7 C615.6,635.6 618.6,635.1 621.6,634.8 C624.5,634.4 628.6,632.2 630.5,633.4 C632.3,634.6 631.3,639.5 632.5,642.2 C633.6,644.9 635.4,647.7 637.5,649.6 C639.7,651.6 644.1,653.2 645.4,653.9" fill="none" stroke="#86b886" stroke-width="1.2" stroke-linecap="round" stroke-linejoin="round"/>
<path d="M520.6,634 L517.9,635.7 L515.5,637.1 L514,638.2 L513.4,639.1 L514.1,639.7 L515.8,640.2 L518.4,640.6 L521.5,641.2 L524.7,641.8 L527.6,642.7 L529.7,643.9 L530.9,645.3 L530.9,647 L529.8,648.8 L527.8,650.7 L525.2,652.6 L522.4,654.3 L519.9,655.8 L518.1,657 L517.2,658 L517.4,658.7 L518.8,659.2 L521.1,659.7 L524.1,660.1 L527.3,660.7 L530.3,661.6 L532.8,662.6 L534.3,664 L534.7,665.6 L534,667.4 L532.2,669.3 L529.8,671.2 L527,672.9 L524.4,674.5 L522.3,675.8 L521,676.9 L520.9,677.7 L521.9,678.2 L523.9,678.7 L526.7,679.2 L529.9,679.7 L533,680.4 L535.7,681.4 L537.6,682.7 L538.4,684.2 L538,685.9 L536.6,687.8 L534.3,689.7 L531.6,691.5" fill="none" stroke="#547353" stroke-width="4.8" stroke-linecap="round" stroke-linejoin="round" stroke-opacity="0.5"/><path d="M520.6,634 L517.9,635.7 L515.5,637.1 L514,638.2 L513.4,639.1 L514.1,639.7 L515.8,640.2 L518.4,640.6 L521.5,641.2 L524.7,641.8 L527.6,642.7 L529.7,643.9 L530.9,645.3 L530.9,647 L529.8,648.8 L527.8,650.7 L525.2,652.6 L522.4,654.3 L519.9,655.8 L518.1,657 L517.2,658 L517.4,658.7 L518.8,659.2 L521.1,659.7 L524.1,660.1 L527.3,660.7 L530.3,661.6 L532.8,662.6 L534.3,664 L534.7,665.6 L534,667.4 L532.2,669.3 L529.8,671.2 L527,672.9 L524.4,674.5 L522.3,675.8 L521,676.9 L520.9,677.7 L521.9,678.2 L523.9,678.7 L526.7,679.2 L529.9,679.7 L533,680.4 L535.7,681.4 L537.6,682.7 L538.4,684.2 L538,685.9 L536.6,687.8 L534.3,689.7 L531.6,691.5" fill="none" stroke="#8cc18b" stroke-width="3.6" stroke-linecap="round" stroke-linejoin="round"/>
<path d="M585.3,687.9 C590.6,689.6 606.1,694.9 617.1,697.7 C628.1,700.6 645.6,703.8 651.4,705.1" fill="none" stroke="#547353" stroke-width="4.2" stroke-linecap="round" stroke-linejoin="round" stroke-opacity="0.5"/><path d="M585.3,687.9 C590.6,689.6 606.1,694.9 617.1,697.7 C628.1,700.6 645.6,703.8 651.4,705.1" fill="none" stroke="#8cc18b" stroke-width="3.2" stroke-linecap="round" stroke-linejoin="round" stroke-opacity="1"/>
<path d="M573,658.5 C577.1,661 589.3,669.2 597.5,673.2 C605.7,677.3 616.3,679.8 622,683 C627.7,686.3 630.1,691.2 631.8,692.8" fill="none" stroke="#8cc18b" stroke-width="2.4" stroke-linecap="round" stroke-linejoin="round" stroke-opacity="1"/>
<path d="M625.3,646.2 L626.5,648.4 L627.5,650.2 L628.3,651.5 L629.1,652 L629.7,651.6 L630.4,650.4 L631.1,648.6 L631.9,646.3 L632.8,644 L633.8,641.9 L635,640.3 L636.3,639.5 L637.7,639.5 L639.1,640.4 L640.5,641.9 L641.8,643.9 L643,646.1 L644.1,648.1 L645,649.7 L645.8,650.6 L646.5,650.7 L647.2,649.9 L647.9,648.3 L648.6,646.3 L649.5,643.9 L650.4,641.7 L651.6,639.8 L652.8,638.6 L654.2,638.2 L655.6,638.6 L657,639.8 L658.3,641.6 L659.6,643.8" fill="none" stroke="#547353" stroke-width="4.6" stroke-linecap="round" stroke-linejoin="round" stroke-opacity="0.5"/><path d="M625.3,646.2 L626.5,648.4 L627.5,650.2 L628.3,651.5 L629.1,652 L629.7,651.6 L630.4,650.4 L631.1,648.6 L631.9,646.3 L632.8,644 L633.8,641.9 L635,640.3 L636.3,639.5 L637.7,639.5 L639.1,640.4 L640.5,641.9 L641.8,643.9 L643,646.1 L644.1,648.1 L645,649.7 L645.8,650.6 L646.5,650.7 L647.2,649.9 L647.9,648.3 L648.6,646.3 L649.5,643.9 L650.4,641.7 L651.6,639.8 L652.8,638.6 L654.2,638.2 L655.6,638.6 L657,639.8 L658.3,641.6 L659.6,643.8" fill="none" stroke="#8cc18b" stroke-width="3.4" stroke-linecap="round" stroke-linejoin="round"/>
<path d="M544,733 L541.9,734.8 L540.1,736.3 L538.9,737.5 L538.5,738.3 L539.1,738.7 L540.7,738.9 L542.9,738.9 L545.6,738.8 L548.5,738.9 L551.1,739.2 L553.2,739.9 L554.4,740.9 L554.7,742.3 L554.1,744 L552.7,745.9 L550.7,747.9 L548.6,749.7 L546.6,751.4 L545.2,752.7 L544.4,753.7 L544.7,754.3 L545.8,754.5 L547.8,754.6 L550.4,754.5 L553.2,754.5 L556,754.7 L558.3,755.2 L559.9,756.1 L560.6,757.4 L560.3,759 L559.2,760.8 L557.4,762.7 L555.3,764.7 L553.2,766.4 L551.5,767.9 L550.5,769 L550.3,769.7 L551.1,770.1 L552.8,770.2 L555.2,770.2 L558,770.2" fill="none" stroke="#547353" stroke-width="4.6" stroke-linecap="round" stroke-linejoin="round" stroke-opacity="0.5"/><path d="M544,733 L541.9,734.8 L540.1,736.3 L538.9,737.5 L538.5,738.3 L539.1,738.7 L540.7,738.9 L542.9,738.9 L545.6,738.8 L548.5,738.9 L551.1,739.2 L553.2,739.9 L554.4,740.9 L554.7,742.3 L554.1,744 L552.7,745.9 L550.7,747.9 L548.6,749.7 L546.6,751.4 L545.2,752.7 L544.4,753.7 L544.7,754.3 L545.8,754.5 L547.8,754.6 L550.4,754.5 L553.2,754.5 L556,754.7 L558.3,755.2 L559.9,756.1 L560.6,757.4 L560.3,759 L559.2,760.8 L557.4,762.7 L555.3,764.7 L553.2,766.4 L551.5,767.9 L550.5,769 L550.3,769.7 L551.1,770.1 L552.8,770.2 L555.2,770.2 L558,770.2" fill="none" stroke="#8cc18b" stroke-width="3.4" stroke-linecap="round" stroke-linejoin="round"/>
<path d="M563.2,741.8 C567.3,742.6 578.7,748.3 587.7,746.7 C596.7,745 607.3,736.5 617.1,732 C626.9,727.5 640.8,723 646.5,719.7 C652.2,716.5 648.1,716.9 651.4,712.4 C654.6,707.9 662.4,697.7 666,692.8 C669.7,687.9 674.2,683.4 673.4,683 C672.6,682.6 663.2,689.1 661.2,690.4" fill="none" stroke="#8cc18b" stroke-width="1.6" stroke-linecap="round" stroke-linejoin="round" stroke-opacity="1"/>
<path d="M516.7,641.4 C518.8,639 522.8,630 529,626.7 C535.1,623.5 544.5,621.8 553.4,621.8 C562.4,621.8 575.9,622.2 582.8,626.7 C589.8,631.2 593,645.1 595.1,648.8" fill="none" stroke="#8cc18b" stroke-width="1.8" stroke-linecap="round" stroke-linejoin="round" stroke-opacity="1"/>
<path d="M631.8,707.5 C635,706.3 648.9,696.9 651.4,700.2 C653.8,703.4 646.5,724.2 646.5,727.1 C646.5,729.9 650.5,718.9 651.4,717.3" fill="none" stroke="#8cc18b" stroke-width="1.8" stroke-linecap="round" stroke-linejoin="round" stroke-opacity="1"/>
<path d="M513.2,682.4 L516,685.2 L518.3,687.6 L520.1,689.2 L521.2,689.5 L521.6,688.6 L521.4,686.3 L520.9,683.1 L520.3,679.1 L519.9,675.1 L519.9,671.4 L520.5,668.5 L521.8,666.9 L523.8,666.5 L526.3,667.4 L529.2,669.4 L532.3,672.1 L535.1,674.9 L537.6,677.5 L539.4,679.2 L540.6,679.8 L541.1,679 L541,677 L540.6,673.9 L540,670 L539.5,666 L539.5,662.2 L540,659.2 L541.1,657.3 L543,656.7 L545.5,657.4 L548.3,659.2 L551.3,661.8 L554.2,664.7 L556.8,667.3 L558.8,669.2 L560.1,670 L560.7,669.5 L560.7,667.6 L560.3,664.7 L559.7,660.9 L559.2,656.8 L559,653 L559.4,649.8 L560.5,647.7 L562.2,646.9 L564.6,647.4 L567.4,649.1 L570.4,651.6 L573.4,654.4 L576,657.1 L578.1,659.1 L579.5,660.1 L580.2,659.8 L580.3,658.2 L579.9,655.4 L579.4,651.8 L578.8,647.7 L578.6,643.8 L578.9,640.5 L579.8,638.2 L581.5,637.1 L583.8,637.4 L586.5,638.9 L589.5,641.3 L592.5,644.1 L595.2,646.9 L597.3,649.1 L598.9,650.3 L599.7,650.2 L599.9,648.8 L599.6,646.2 L599,642.6 L598.5,638.6 L598.2,634.6 L598.4,631.2 L599.2,628.7 L600.8,627.4 L602.9,627.5 L605.6,628.8 L608.6,631.1 L611.6,633.9 L614.3,636.7 L616.6,639 L618.2,640.4 L619.2,640.5 L619.5,639.3 L619.3,636.9 L618.7,633.5 L618.2,629.5 L617.8,625.5 L617.9,621.9 L618.6,619.2 L620,617.7 L622.1,617.6 L624.7,618.7 L627.7,620.9 L630.7,623.6" fill="none" stroke="#08464f" stroke-width="5.6" stroke-linecap="round" stroke-linejoin="round" stroke-opacity="0.5"/><path d="M513.2,682.4 L516,685.2 L518.3,687.6 L520.1,689.2 L521.2,689.5 L521.6,688.6 L521.4,686.3 L520.9,683.1 L520.3,679.1 L519.9,675.1 L519.9,671.4 L520.5,668.5 L521.8,666.9 L523.8,666.5 L526.3,667.4 L529.2,669.4 L532.3,672.1 L535.1,674.9 L537.6,677.5 L539.4,679.2 L540.6,679.8 L541.1,679 L541,677 L540.6,673.9 L540,670 L539.5,666 L539.5,662.2 L540,659.2 L541.1,657.3 L543,656.7 L545.5,657.4 L548.3,659.2 L551.3,661.8 L554.2,664.7 L556.8,667.3 L558.8,669.2 L560.1,670 L560.7,669.5 L560.7,667.6 L560.3,664.7 L559.7,660.9 L559.2,656.8 L559,653 L559.4,649.8 L560.5,647.7 L562.2,646.9 L564.6,647.4 L567.4,649.1 L570.4,651.6 L573.4,654.4 L576,657.1 L578.1,659.1 L579.5,660.1 L580.2,659.8 L580.3,658.2 L579.9,655.4 L579.4,651.8 L578.8,647.7 L578.6,643.8 L578.9,640.5 L579.8,638.2 L581.5,637.1 L583.8,637.4 L586.5,638.9 L589.5,641.3 L592.5,644.1 L595.2,646.9 L597.3,649.1 L598.9,650.3 L599.7,650.2 L599.9,648.8 L599.6,646.2 L599,642.6 L598.5,638.6 L598.2,634.6 L598.4,631.2 L599.2,628.7 L600.8,627.4 L602.9,627.5 L605.6,628.8 L608.6,631.1 L611.6,633.9 L614.3,636.7 L616.6,639 L618.2,640.4 L619.2,640.5 L619.5,639.3 L619.3,636.9 L618.7,633.5 L618.2,629.5 L617.8,625.5 L617.9,621.9 L618.6,619.2 L620,617.7 L622.1,617.6 L624.7,618.7 L627.7,620.9 L630.7,623.6" fill="none" stroke="#0e7585" stroke-width="4.4" stroke-linecap="round" stroke-linejoin="round"/>
<path d="M537.3,711.5 L540.6,713.2 L543.3,714.6 L545.4,715.5 L546.6,715.4 L546.9,714.4 L546.5,712.3 L545.5,709.5 L544.3,706.1 L543.2,702.5 L542.6,699.1 L542.6,696.3 L543.5,694.4 L545.2,693.4 L547.8,693.4 L550.9,694.3 L554.2,695.8 L557.5,697.5 L560.4,699 L562.7,700 L564.1,700.2 L564.6,699.4 L564.4,697.6 L563.5,695 L562.4,691.7 L561.2,688.1 L560.4,684.6 L560.3,681.7 L560.9,679.5 L562.5,678.2 L564.8,678 L567.8,678.7 L571.1,680.1 L574.5,681.8 L577.5,683.4 L579.9,684.6 L581.6,685 L582.3,684.4 L582.3,682.9 L581.5,680.4 L580.4,677.2 L579.2,673.7 L578.3,670.2 L578,667 L578.4,664.6 L579.7,663.2 L581.9,662.7 L584.8,663.2 L588,664.4 L591.4,666 L594.5,667.7 L597.2,669 L599,669.7 L600,669.4 L600.1,668.1 L599.5,665.8 L598.5,662.8 L597.3,659.3 L596.2,655.7 L595.7,652.5 L596,649.8 L597.1,648.1 L599,647.4 L601.7,647.7 L604.9,648.8 L608.3,650.3" fill="none" stroke="#08464f" stroke-width="5.4" stroke-linecap="round" stroke-linejoin="round" stroke-opacity="0.5"/><path d="M537.3,711.5 L540.6,713.2 L543.3,714.6 L545.4,715.5 L546.6,715.4 L546.9,714.4 L546.5,712.3 L545.5,709.5 L544.3,706.1 L543.2,702.5 L542.6,699.1 L542.6,696.3 L543.5,694.4 L545.2,693.4 L547.8,693.4 L550.9,694.3 L554.2,695.8 L557.5,697.5 L560.4,699 L562.7,700 L564.1,700.2 L564.6,699.4 L564.4,697.6 L563.5,695 L562.4,691.7 L561.2,688.1 L560.4,684.6 L560.3,681.7 L560.9,679.5 L562.5,678.2 L564.8,678 L567.8,678.7 L571.1,680.1 L574.5,681.8 L577.5,683.4 L579.9,684.6 L581.6,685 L582.3,684.4 L582.3,682.9 L581.5,680.4 L580.4,677.2 L579.2,673.7 L578.3,670.2 L578,667 L578.4,664.6 L579.7,663.2 L581.9,662.7 L584.8,663.2 L588,664.4 L591.4,666 L594.5,667.7 L597.2,669 L599,669.7 L600,669.4 L600.1,668.1 L599.5,665.8 L598.5,662.8 L597.3,659.3 L596.2,655.7 L595.7,652.5 L596,649.8 L597.1,648.1 L599,647.4 L601.7,647.7 L604.9,648.8 L608.3,650.3" fill="none" stroke="#0e7585" stroke-width="4.2" stroke-linecap="round" stroke-linejoin="round"/>
<path d="M511.8,687.9 C515.1,691.2 528.6,699.3 531.4,707.5 C534.3,715.7 531,726.3 529,736.9 C526.9,747.5 520.8,765.4 519.2,771.2" fill="none" stroke="#0e7585" stroke-width="2.2" stroke-linecap="round" stroke-linejoin="round" stroke-opacity="1"/>
<path d="M551,616.9 C553,617.3 558.7,617.3 563.2,619.4 C567.7,621.4 574.2,627.9 577.9,629.2 C581.6,630.4 584,627.1 585.3,626.7" fill="none" stroke="#08464f" stroke-width="4.2" stroke-linecap="round" stroke-linejoin="round" stroke-opacity="0.5"/><path d="M551,616.9 C553,617.3 558.7,617.3 563.2,619.4 C567.7,621.4 574.2,627.9 577.9,629.2 C581.6,630.4 584,627.1 585.3,626.7" fill="none" stroke="#0e7585" stroke-width="3.2" stroke-linecap="round" stroke-linejoin="round" stroke-opacity="1"/>
<path d="M560.8,702.6 C562,704.2 565.3,710.8 568.1,712.4 C571,714 577.1,710.8 577.9,712.4 C578.7,714 575.1,721.4 573,722.2 C571,723 566.9,718.1 565.7,717.3" fill="none" stroke="#1f4fb0" stroke-width="2.4"/>
<path d="M651.4,707.5 C652.6,710.8 656.3,718.1 658.7,727.1 C661.2,736.1 663.6,750.8 666,761.4 C668.5,772 669.3,783.4 673.4,790.7 C677.5,798.1 687.7,803 690.5,805.4" fill="none" stroke="#e3141a" stroke-width="1.8" stroke-linecap="round" stroke-linejoin="round" stroke-opacity="1"/>
<path d="M661.2,749.1 L670.9,785.8" fill="none" stroke="#880c0f" stroke-width="5.2" stroke-linecap="round" stroke-linejoin="round" stroke-opacity="0.5"/><path d="M661.2,749.1 L670.9,785.8" fill="none" stroke="#e3141a" stroke-width="4.2" stroke-linecap="round" stroke-linejoin="round" stroke-opacity="1"/>
<path d="M673.4,746.7 L688.1,790.7" fill="none" stroke="#880c0f" stroke-width="5.2" stroke-linecap="round" stroke-linejoin="round" stroke-opacity="0.5"/><path d="M673.4,746.7 L688.1,790.7" fill="none" stroke="#e3141a" stroke-width="4.2" stroke-linecap="round" stroke-linejoin="round" stroke-opacity="1"/>
<path d="M680.7,790.7 C683.2,792.4 693.8,797.3 695.4,800.5 C697.1,803.8 689.7,806.2 690.5,810.3 C691.3,814.4 700.3,820.9 700.3,825 C700.3,829.1 690.5,832.8 690.5,834.8 C690.5,836.8 698.7,836.8 700.3,837.2" fill="none" stroke="#e3141a" stroke-width="1.6" stroke-linecap="round" stroke-linejoin="round" stroke-opacity="1"/>
<path d="M541.3,916.1 C541.4,914.3 542.3,908.7 541.8,905.1 C541.4,901.6 540.3,897.8 538.6,894.6 C536.9,891.4 533.5,889.2 531.8,886 C530.1,882.8 529.1,879.1 528.4,875.5 C527.7,871.9 526.6,867.9 527.6,864.5 C528.5,861.2 531.5,858.3 534,855.6 C536.6,853 540,851.3 542.7,848.9 C545.4,846.4 547.3,842.9 550.2,840.8 C553.1,838.7 557.6,838.7 560.3,836.5 C563,834.2 565.1,830.7 566.5,827.4 C567.8,824 566.8,819.6 568.4,816.5 C570,813.4 574.9,810 576.2,808.7" fill="none" stroke="#b89a6e" stroke-width="1.1" stroke-linecap="round" stroke-linejoin="round"/><path d="M582.6,828 C583.5,826.4 587.3,821.9 588.2,818.5 C589.2,815.1 588.2,811.2 588.4,807.5 C588.6,803.9 588.6,800.1 589.4,796.6 C590.1,793 590.6,787.5 593,786.2 C595.4,784.9 600.2,787.7 603.6,789.1 C607,790.4 609.9,793.5 613.3,794.2 C616.8,795 620.7,794.1 624.3,793.4 C627.9,792.7 631.2,790.4 634.7,790 C638.3,789.5 642.4,789.4 645.7,790.6 C649,791.7 652.8,794 654.7,796.9 C656.7,799.7 656.2,804.1 657.4,807.6 C658.5,811 660.8,816 661.5,817.7" fill="none" stroke="#b89a6e" stroke-width="1.1" stroke-linecap="round" stroke-linejoin="round"/><path d="M623.6,950 C622,949 617.3,946.1 614.4,943.9 C611.5,941.7 608.7,939.3 606.2,936.6 C603.7,933.9 602.3,930.1 599.6,927.8 C596.8,925.6 593.1,923.6 589.7,923.1 C586.2,922.6 582.3,925.2 578.8,924.8 C575.3,924.4 572,922 568.7,920.5 C565.3,919 562.2,916.7 558.7,916 C555.2,915.3 551.3,916.1 547.7,916.4 C544,916.7 538.7,919.2 536.7,917.6 C534.7,916 535.2,910.2 535.6,906.6 C536,903.1 538.1,899.7 539.3,896.3 C540.6,892.8 542.5,887.7 543.1,886" fill="none" stroke="#b89a6e" stroke-width="1.1" stroke-linecap="round" stroke-linejoin="round"/><path d="M538.5,832 C540.1,833 544.5,836.8 547.9,837.6 C551.4,838.5 555.3,837.3 558.9,837.2 C562.6,837.1 566.6,838.2 569.9,837.1 C573.3,836.1 576,832.9 578.9,830.8 C581.9,828.6 584.5,825.9 587.7,824.2 C590.9,822.4 594.5,821.5 598,820.2 C601.4,819 605,818.1 608.5,816.9 C611.9,815.6 615.3,814.2 618.7,812.8 C622.1,811.4 625.5,810 628.8,808.4 C632.1,806.8 635.1,804.7 638.4,803.2 C641.8,801.7 646,801.5 648.8,799.4 C651.5,797.2 654,791.8 655,790.3" fill="none" stroke="#b89a6e" stroke-width="1.1" stroke-linecap="round" stroke-linejoin="round"/><path d="M601.7,823.2 C603.5,822.8 609.5,822.8 612.5,821.1 C615.6,819.4 618.3,816.1 619.9,813 C621.5,809.8 620.8,805.6 622.1,802.2 C623.3,798.8 625.4,795.6 627.4,792.5 C629.3,789.4 630.9,784.5 633.7,783.5 C636.5,782.6 640.9,785.3 644.1,787 C647.4,788.6 651.1,790.6 653,793.4 C655,796.3 654.9,800.5 656.1,804 C657.3,807.5 658.5,811 660.3,814.2 C662.1,817.3 664.7,820 666.7,823.1 C668.7,826.2 671.5,829.2 672.2,832.6 C672.8,836 670.9,841.7 670.6,843.5" fill="none" stroke="#b89a6e" stroke-width="1.1" stroke-linecap="round" stroke-linejoin="round"/><path d="M567.1,836.3 C567.4,838.1 568.4,843.5 569.2,847.1 C570,850.7 570.3,854.5 571.8,857.8 C573.2,861.1 575.7,864 578,866.9 C580.3,869.7 582.6,873.2 585.7,874.7 C588.8,876.2 593,876 596.6,875.8 C600.3,875.7 604.1,873.2 607.5,873.9 C610.8,874.5 613.9,877.5 616.9,879.6 C619.9,881.6 622.3,884.6 625.5,886.4 C628.6,888.2 633.1,888 635.8,890.1 C638.5,892.3 639.5,896.6 641.8,899.4 C644.1,902.2 646.6,905.2 649.5,907.2 C652.5,909.2 657.9,910.9 659.6,911.6" fill="none" stroke="#b89a6e" stroke-width="1.1" stroke-linecap="round" stroke-linejoin="round"/><path d="M556.5,821.9 C557.2,820.3 560.1,815.4 561,811.9 C561.8,808.4 559.6,803.4 561.4,800.9 C563.2,798.4 568.2,797.1 571.7,796.9 C575.1,796.7 578.7,799.3 582.3,799.6 C585.9,800 589.7,798.5 593.3,799 C596.9,799.5 600.1,801.7 603.7,802.6 C607.2,803.4 611,803.4 614.6,804.1 C618.2,804.7 621.8,805.5 625.3,806.5 C628.8,807.6 632.9,808.3 635.6,810.5 C638.2,812.8 640,816.6 641.2,820 C642.4,823.4 642.3,827.2 642.8,830.9 C643.4,834.5 644.1,840 644.3,841.8" fill="none" stroke="#b89a6e" stroke-width="1.1" stroke-linecap="round" stroke-linejoin="round"/><path d="M662,849.1 C660.1,849.2 654.6,849.5 651,849.5 C647.3,849.6 643.5,850 640,849.2 C636.5,848.4 633.5,845.6 630,844.5 C626.6,843.4 622.3,844.3 619.2,842.7 C616.1,841.1 613.8,837.7 611.4,835 C609.1,832.2 607.6,828.5 605,826 C602.5,823.5 598,822.7 595.8,820 C593.7,817.3 593.4,813.1 592.1,809.6 C590.8,806.2 589.7,802.6 587.9,799.5 C586.1,796.3 580.9,793 581.4,790.6 C581.9,788.1 587.4,786 590.7,784.8 C594.1,783.5 599.8,783.4 601.6,783.1" fill="none" stroke="#b89a6e" stroke-width="1.1" stroke-linecap="round" stroke-linejoin="round"/><path d="M556.7,914.1 C558.3,915 563,917.9 566.3,919.6 C569.5,921.3 573,922.6 576.2,924.3 C579.5,926 582.5,928.1 585.8,929.6 C589.1,931.1 593.2,931.4 596.2,933.2 C599.3,935.1 601.2,938.8 604.2,940.8 C607.2,942.7 610.9,943.9 614.4,945 C617.9,946.1 621.5,946.6 625.2,947.1 C628.8,947.6 632.7,948.7 636.1,948.1 C639.6,947.4 643.1,945.3 645.9,943 C648.7,940.8 651.4,937.7 652.8,934.5 C654.3,931.3 653.4,927.1 654.5,923.6 C655.6,920.2 658.8,915.5 659.7,913.9" fill="none" stroke="#b89a6e" stroke-width="1.1" stroke-linecap="round" stroke-linejoin="round"/>
<path d="M566.4,801.5 C568,800.6 572.8,797.7 576.1,796.3 C579.5,794.9 583.1,793.3 586.6,793.1 C590.2,792.9 594.5,793.3 597.5,795.1 C600.4,796.9 602.4,800.6 604.3,803.8 C606.1,806.9 607.9,812.2 608.6,813.9" fill="none" stroke="#d6ba8e" stroke-width="2.8" stroke-linecap="round" stroke-linejoin="round"/><path d="M581.2,803 C582.8,803.8 587.7,806.3 591.1,807.8 C594.4,809.3 597.7,811.7 601.2,812.1 C604.7,812.4 608.4,810 612,810 C615.6,810 619.9,810.3 622.8,812 C625.8,813.8 628.6,819.2 629.7,820.6" fill="none" stroke="#d6ba8e" stroke-width="2.8" stroke-linecap="round" stroke-linejoin="round"/><path d="M575.6,851.8 C577.3,851.1 582.1,847.5 585.5,847.1 C589,846.6 592.9,848 596.4,849 C599.9,850 603.1,852.3 606.7,852.9 C610.2,853.4 614.4,851.4 617.7,852.4 C621,853.4 625.1,857.8 626.5,858.9" fill="none" stroke="#d6ba8e" stroke-width="2.8" stroke-linecap="round" stroke-linejoin="round"/><path d="M580.7,839.5 C582.3,840.4 587,844 590.5,844.6 C593.9,845.2 598.2,844.7 601.4,843.2 C604.5,841.8 607.6,838.7 609.4,835.7 C611.2,832.7 610.9,828.5 612.3,825.1 C613.6,821.7 616.7,817.1 617.6,815.5" fill="none" stroke="#d6ba8e" stroke-width="2.8" stroke-linecap="round" stroke-linejoin="round"/><path d="M567.9,814.4 C566.7,813 559.9,808.3 560.4,806.4 C560.8,804.4 567.1,803.1 570.7,802.5 C574.2,801.9 578.3,803.6 581.7,802.7 C585.1,801.8 588.4,799.5 591.2,797.2 C594,794.9 597.4,790.5 598.7,789.1" fill="none" stroke="#d6ba8e" stroke-width="2.8" stroke-linecap="round" stroke-linejoin="round"/><path d="M580.5,822.1 C582.3,822.6 587.5,824.9 591.1,825.1 C594.7,825.4 598.6,824.8 602,823.5 C605.3,822.2 609,820.2 611.1,817.4 C613.3,814.7 613.6,810.5 615,807.1 C616.5,803.8 619.1,798.9 619.9,797.3" fill="none" stroke="#d6ba8e" stroke-width="2.8" stroke-linecap="round" stroke-linejoin="round"/>
<path d="M551.5,776.2 L549.2,778.4 L547.3,780.4 L546,781.9 L545.6,782.9 L546.3,783.6 L547.9,783.8 L550.5,783.8 L553.5,783.8 L556.8,783.8 L559.9,784.1 L562.4,784.8 L564,786 L564.7,787.6 L564.3,789.6 L563,791.8 L561.1,794.2 L558.8,796.6 L556.7,798.7 L554.9,800.5 L553.9,801.9 L553.9,802.8 L554.9,803.3 L556.9,803.4 L559.6,803.4 L562.8,803.4" fill="none" stroke="#806d51" stroke-width="4.6" stroke-linecap="round" stroke-linejoin="round" stroke-opacity="0.5"/><path d="M551.5,776.2 L549.2,778.4 L547.3,780.4 L546,781.9 L545.6,782.9 L546.3,783.6 L547.9,783.8 L550.5,783.8 L553.5,783.8 L556.8,783.8 L559.9,784.1 L562.4,784.8 L564,786 L564.7,787.6 L564.3,789.6 L563,791.8 L561.1,794.2 L558.8,796.6 L556.7,798.7 L554.9,800.5 L553.9,801.9 L553.9,802.8 L554.9,803.3 L556.9,803.4 L559.6,803.4 L562.8,803.4" fill="none" stroke="#d6b788" stroke-width="3.4" stroke-linecap="round" stroke-linejoin="round"/>
<path d="M548.4,830.3 L545,831 L542,831.6 L540,832.1 L539.3,832.6 L539.8,833.2 L541.7,833.9 L544.4,834.9 L547.7,836.1 L551.1,837.5 L553.9,839 L555.9,840.6 L556.6,842.3 L556,843.8 L554.1,845.2 L551.3,846.4 L547.8,847.3 L544.3,848.1 L541.2,848.6 L539.1,849.1 L538.1,849.6 L538.4,850.2 L540.1,850.9 L542.7,851.8 L546,853 L549.3,854.4 L552.3,855.9 L554.4,857.5 L555.4,859.1 L555,860.7 L553.3,862.1 L550.6,863.3 L547.2,864.3 L543.7,865.1 L540.5,865.7 L538.1,866.2 L536.9,866.7 L537.1,867.2 L538.5,867.9 L541,868.8 L544.2,869.9 L547.6,871.2 L550.6,872.7 L552.9,874.4 L554.1,876 L553.9,877.6 L552.4,879 L549.8,880.3 L546.5,881.3 L543,882.1 L539.7,882.7 L537.2,883.2 L535.8,883.7 L535.7,884.3 L536.9,884.9 L539.3,885.8 L542.4,886.9 L545.8,888.2 L548.9,889.6 L551.4,891.2 L552.7,892.9 L552.8,894.4 L551.5,895.9 L549.1,897.2 L545.9,898.3 L542.4,899.1 L539,899.8 L536.3,900.3 L534.7,900.8 L534.4,901.3 L535.4,901.9 L537.6,902.8 L540.6,903.8 L544,905.1 L547.2,906.5 L549.8,908.1 L551.4,909.7 L551.7,911.3 L550.6,912.8 L548.4,914.1 L545.3,915.2 L541.7,916.1 L538.3,916.8 L535.5,917.4 L533.7,917.8 L533.1,918.3 L533.9,919 L535.9,919.8 L538.8,920.7 L542.2,922 L545.5,923.4 L548.2,925 L550,926.6 L550.5,928.2 L549.6,929.7 L547.6,931.1 L544.6,932.2 L541.1,933.1" fill="none" stroke="#806d51" stroke-width="4.6" stroke-linecap="round" stroke-linejoin="round" stroke-opacity="0.5"/><path d="M548.4,830.3 L545,831 L542,831.6 L540,832.1 L539.3,832.6 L539.8,833.2 L541.7,833.9 L544.4,834.9 L547.7,836.1 L551.1,837.5 L553.9,839 L555.9,840.6 L556.6,842.3 L556,843.8 L554.1,845.2 L551.3,846.4 L547.8,847.3 L544.3,848.1 L541.2,848.6 L539.1,849.1 L538.1,849.6 L538.4,850.2 L540.1,850.9 L542.7,851.8 L546,853 L549.3,854.4 L552.3,855.9 L554.4,857.5 L555.4,859.1 L555,860.7 L553.3,862.1 L550.6,863.3 L547.2,864.3 L543.7,865.1 L540.5,865.7 L538.1,866.2 L536.9,866.7 L537.1,867.2 L538.5,867.9 L541,868.8 L544.2,869.9 L547.6,871.2 L550.6,872.7 L552.9,874.4 L554.1,876 L553.9,877.6 L552.4,879 L549.8,880.3 L546.5,881.3 L543,882.1 L539.7,882.7 L537.2,883.2 L535.8,883.7 L535.7,884.3 L536.9,884.9 L539.3,885.8 L542.4,886.9 L545.8,888.2 L548.9,889.6 L551.4,891.2 L552.7,892.9 L552.8,894.4 L551.5,895.9 L549.1,897.2 L545.9,898.3 L542.4,899.1 L539,899.8 L536.3,900.3 L534.7,900.8 L534.4,901.3 L535.4,901.9 L537.6,902.8 L540.6,903.8 L544,905.1 L547.2,906.5 L549.8,908.1 L551.4,909.7 L551.7,911.3 L550.6,912.8 L548.4,914.1 L545.3,915.2 L541.7,916.1 L538.3,916.8 L535.5,917.4 L533.7,917.8 L533.1,918.3 L533.9,919 L535.9,919.8 L538.8,920.7 L542.2,922 L545.5,923.4 L548.2,925 L550,926.6 L550.5,928.2 L549.6,929.7 L547.6,931.1 L544.6,932.2 L541.1,933.1" fill="none" stroke="#d6b788" stroke-width="3.4" stroke-linecap="round" stroke-linejoin="round"/>
<path d="M566.1,808.2 L563.3,810.3 L560.9,812.1 L559.3,813.5 L558.8,814.3 L559.6,814.7 L561.6,814.7 L564.5,814.5 L568,814.2 L571.7,814.2 L574.9,814.5 L577.4,815.2 L578.8,816.4 L578.9,818.1 L577.8,820.2 L575.8,822.5 L573.1,824.9 L570.2,827.1 L567.7,829 L565.9,830.4 L565.2,831.3 L565.7,831.8 L567.5,831.8 L570.2,831.7 L573.7,831.4 L577.3,831.3 L580.7,831.5 L583.4,832.1 L585,833.3 L585.4,834.9 L584.5,836.9 L582.6,839.2 L580,841.5 L577.2,843.8 L574.5,845.7 L572.5,847.3 L571.6,848.3 L571.9,848.9 L573.4,849 L576,848.8 L579.3,848.6 L583,848.5 L586.4,848.6 L589.3,849.1 L591.1,850.1 L591.7,851.7 L591.1,853.6 L589.4,855.9 L586.9,858.2 L584.1,860.5 L581.4,862.5 L579.2,864.1 L578.1,865.3 L578.1,865.9 L579.4,866.1 L581.7,866 L585,865.8 L588.6,865.6 L592.1,865.7 L595.1,866.1 L597.2,867 L598.1,868.5 L597.7,870.3 L596.2,872.5 L593.8,874.9 L591,877.2 L588.2,879.3 L586,881 L584.6,882.2 L584.3,883 L585.4,883.3 L587.6,883.2 L590.6,883 L594.2,882.8 L597.8,882.8 L601,883.1 L603.2,883.9 L604.4,885.3 L604.3,887.1 L603,889.2 L600.7,891.5 L598,893.9" fill="none" stroke="#806d51" stroke-width="4.6" stroke-linecap="round" stroke-linejoin="round" stroke-opacity="0.5"/><path d="M566.1,808.2 L563.3,810.3 L560.9,812.1 L559.3,813.5 L558.8,814.3 L559.6,814.7 L561.6,814.7 L564.5,814.5 L568,814.2 L571.7,814.2 L574.9,814.5 L577.4,815.2 L578.8,816.4 L578.9,818.1 L577.8,820.2 L575.8,822.5 L573.1,824.9 L570.2,827.1 L567.7,829 L565.9,830.4 L565.2,831.3 L565.7,831.8 L567.5,831.8 L570.2,831.7 L573.7,831.4 L577.3,831.3 L580.7,831.5 L583.4,832.1 L585,833.3 L585.4,834.9 L584.5,836.9 L582.6,839.2 L580,841.5 L577.2,843.8 L574.5,845.7 L572.5,847.3 L571.6,848.3 L571.9,848.9 L573.4,849 L576,848.8 L579.3,848.6 L583,848.5 L586.4,848.6 L589.3,849.1 L591.1,850.1 L591.7,851.7 L591.1,853.6 L589.4,855.9 L586.9,858.2 L584.1,860.5 L581.4,862.5 L579.2,864.1 L578.1,865.3 L578.1,865.9 L579.4,866.1 L581.7,866 L585,865.8 L588.6,865.6 L592.1,865.7 L595.1,866.1 L597.2,867 L598.1,868.5 L597.7,870.3 L596.2,872.5 L593.8,874.9 L591,877.2 L588.2,879.3 L586,881 L584.6,882.2 L584.3,883 L585.4,883.3 L587.6,883.2 L590.6,883 L594.2,882.8 L597.8,882.8 L601,883.1 L603.2,883.9 L604.4,885.3 L604.3,887.1 L603,889.2 L600.7,891.5 L598,893.9" fill="none" stroke="#d6b788" stroke-width="3.4" stroke-linecap="round" stroke-linejoin="round"/>
<path d="M578.5,820.4 L576,822.9 L573.8,825 L572.4,826.6 L572.1,827.6 L572.9,828 L574.9,827.8 L577.8,827.4 L581.3,826.9 L584.9,826.5 L588.3,826.5 L590.9,827 L592.5,828.2 L592.9,829.9 L592.1,832.2 L590.4,834.7 L588,837.5 L585.5,840 L583.2,842.3 L581.6,844 L580.9,845.2 L581.5,845.7 L583.2,845.7 L585.9,845.3 L589.3,844.8 L592.9,844.3 L596.4,844.2 L599.2,844.6 L601,845.6 L601.7,847.2 L601.3,849.3 L599.8,851.8 L597.5,854.5 L595,857.2 L592.6,859.5 L590.8,861.4 L589.8,862.7 L590.1,863.3 L591.5,863.5 L594,863.2 L597.3,862.6 L600.9,862.2 L604.4,862 L607.4,862.2 L609.6,863 L610.6,864.5 L610.4,866.5 L609.1,868.9 L607,871.6 L604.5,874.3 L602,876.7 L600,878.7 L598.8,880.2 L598.8,881 L599.9,881.2 L602.2,881 L605.3,880.5 L608.8,880 L612.4,879.7 L615.6,879.8 L618,880.5 L619.3,881.8 L619.4,883.7 L618.4,886 L616.5,888.7 L614,891.4" fill="none" stroke="#806d51" stroke-width="4.6" stroke-linecap="round" stroke-linejoin="round" stroke-opacity="0.5"/><path d="M578.5,820.4 L576,822.9 L573.8,825 L572.4,826.6 L572.1,827.6 L572.9,828 L574.9,827.8 L577.8,827.4 L581.3,826.9 L584.9,826.5 L588.3,826.5 L590.9,827 L592.5,828.2 L592.9,829.9 L592.1,832.2 L590.4,834.7 L588,837.5 L585.5,840 L583.2,842.3 L581.6,844 L580.9,845.2 L581.5,845.7 L583.2,845.7 L585.9,845.3 L589.3,844.8 L592.9,844.3 L596.4,844.2 L599.2,844.6 L601,845.6 L601.7,847.2 L601.3,849.3 L599.8,851.8 L597.5,854.5 L595,857.2 L592.6,859.5 L590.8,861.4 L589.8,862.7 L590.1,863.3 L591.5,863.5 L594,863.2 L597.3,862.6 L600.9,862.2 L604.4,862 L607.4,862.2 L609.6,863 L610.6,864.5 L610.4,866.5 L609.1,868.9 L607,871.6 L604.5,874.3 L602,876.7 L600,878.7 L598.8,880.2 L598.8,881 L599.9,881.2 L602.2,881 L605.3,880.5 L608.8,880 L612.4,879.7 L615.6,879.8 L618,880.5 L619.3,881.8 L619.4,883.7 L618.4,886 L616.5,888.7 L614,891.4" fill="none" stroke="#d6b788" stroke-width="3.4" stroke-linecap="round" stroke-linejoin="round"/>
<path d="M659.4,851.2 L659.5,853.2 L659.5,854.9 L659.6,856.1 L659.9,856.6 L660.3,856.4 L661,855.6 L662,854.3 L663.1,852.7 L664.3,851.1 L665.6,849.7 L666.8,848.9 L667.9,848.6 L668.8,849.1 L669.4,850.2 L669.8,851.8 L670,853.8 L670.1,855.8 L670.1,857.6 L670.2,859 L670.4,859.7 L670.7,859.8 L671.4,859.2 L672.2,858 L673.3,856.5 L674.5,854.9 L675.8,853.4 L677,852.3 L678.2,851.9 L679.1,852.1 L679.8,853 L680.3,854.5 L680.6,856.4 L680.7,858.4 L680.7,860.3 L680.7,861.9 L680.9,862.8 L681.2,863.1 L681.7,862.7 L682.5,861.7 L683.5,860.3 L684.7,858.7 L686,857.1 L687.2,855.9 L688.4,855.2 L689.4,855.2 L690.2,855.9 L690.8,857.2 L691.1,859 L691.2,861" fill="none" stroke="#806d51" stroke-width="3.6" stroke-linecap="round" stroke-linejoin="round" stroke-opacity="0.5"/><path d="M659.4,851.2 L659.5,853.2 L659.5,854.9 L659.6,856.1 L659.9,856.6 L660.3,856.4 L661,855.6 L662,854.3 L663.1,852.7 L664.3,851.1 L665.6,849.7 L666.8,848.9 L667.9,848.6 L668.8,849.1 L669.4,850.2 L669.8,851.8 L670,853.8 L670.1,855.8 L670.1,857.6 L670.2,859 L670.4,859.7 L670.7,859.8 L671.4,859.2 L672.2,858 L673.3,856.5 L674.5,854.9 L675.8,853.4 L677,852.3 L678.2,851.9 L679.1,852.1 L679.8,853 L680.3,854.5 L680.6,856.4 L680.7,858.4 L680.7,860.3 L680.7,861.9 L680.9,862.8 L681.2,863.1 L681.7,862.7 L682.5,861.7 L683.5,860.3 L684.7,858.7 L686,857.1 L687.2,855.9 L688.4,855.2 L689.4,855.2 L690.2,855.9 L690.8,857.2 L691.1,859 L691.2,861" fill="none" stroke="#d6b788" stroke-width="2.4" stroke-linecap="round" stroke-linejoin="round"/>
<path d="M597.5,794.7 L666,887.7" fill="none" stroke="#806d51" stroke-width="4" stroke-linecap="round" stroke-linejoin="round" stroke-opacity="0.5"/><path d="M597.5,794.7 L666,887.7" fill="none" stroke="#d6b788" stroke-width="3" stroke-linecap="round" stroke-linejoin="round" stroke-opacity="1"/>
<path d="M607.3,804.5 L656.3,885.3" fill="none" stroke="#806d51" stroke-width="4" stroke-linecap="round" stroke-linejoin="round" stroke-opacity="0.5"/><path d="M607.3,804.5 L656.3,885.3" fill="none" stroke="#d6b788" stroke-width="3" stroke-linecap="round" stroke-linejoin="round" stroke-opacity="1"/>
<path d="M626.9,789.8 L634.2,853.4" fill="none" stroke="#806d51" stroke-width="4" stroke-linecap="round" stroke-linejoin="round" stroke-opacity="0.5"/><path d="M626.9,789.8 L634.2,853.4" fill="none" stroke="#d6b788" stroke-width="3" stroke-linecap="round" stroke-linejoin="round" stroke-opacity="1"/>
<path d="M563.2,902.4 L592.6,951.4" fill="none" stroke="#806d51" stroke-width="4" stroke-linecap="round" stroke-linejoin="round" stroke-opacity="0.5"/><path d="M563.2,902.4 L592.6,951.4" fill="none" stroke="#d6b788" stroke-width="3" stroke-linecap="round" stroke-linejoin="round" stroke-opacity="1"/>
<path d="M577.9,907.3 L607.3,939.1" fill="none" stroke="#806d51" stroke-width="4" stroke-linecap="round" stroke-linejoin="round" stroke-opacity="0.5"/><path d="M577.9,907.3 L607.3,939.1" fill="none" stroke="#d6b788" stroke-width="3" stroke-linecap="round" stroke-linejoin="round" stroke-opacity="1"/>
<path d="M553.4,917.1 C552.6,920.4 546.1,931.8 548.5,936.7 C551,941.6 560.8,944.8 568.1,946.5 C575.5,948.1 584.4,945.6 592.6,946.5 C600.8,947.3 610.6,951.4 617.1,951.4 C623.6,951.4 630.1,948.9 631.8,946.5 C633.4,944 630.1,936.7 626.9,936.7 C623.6,936.7 614.6,944.8 612.2,946.5" fill="none" stroke="#d6b788" stroke-width="1.6" stroke-linecap="round" stroke-linejoin="round" stroke-opacity="1"/>
<path d="M641.6,853.4 C644.8,855.9 659.5,863.2 661.2,868.1 C662.8,873 650.5,878.3 651.4,882.8 C652.2,887.3 662,891 666,895.1 C670.1,899.1 677.5,905.3 675.8,907.3 C674.2,909.3 662,908.9 656.3,907.3 C650.5,905.7 644,899.1 641.6,897.5" fill="none" stroke="#d6b788" stroke-width="1.5" stroke-linecap="round" stroke-linejoin="round" stroke-opacity="1"/>
<path d="M573,951.4 C574.7,953.8 580,962 582.8,966 C585.7,970.1 587.3,973 590.2,975.8 C593,978.7 598.3,982 600,983.2" fill="none" stroke="#d6b788" stroke-width="1.4" stroke-linecap="round" stroke-linejoin="round" stroke-opacity="1"/>
<path d="M612.2,887.7 C614.6,890.2 622,898.3 626.9,902.4 C631.8,906.5 639.9,908.1 641.6,912.2 C643.2,916.3 640.8,923.6 636.7,926.9 C632.6,930.1 622,931.8 617.1,931.8 C612.2,931.8 608.9,927.7 607.3,926.9" fill="none" stroke="#d6b788" stroke-width="1.5" stroke-linecap="round" stroke-linejoin="round" stroke-opacity="1"/>
<path d="M646.5,799.6 C648.1,798.8 653.8,793.1 656.3,794.7 C658.7,796.3 662,805.3 661.2,809.4 C660.3,813.5 653.8,815.9 651.4,819.2 C648.9,822.4 647.3,827.3 646.5,829" fill="none" stroke="#d6b788" stroke-width="2.2" stroke-linecap="round" stroke-linejoin="round" stroke-opacity="1"/>
<clipPath id="clipT"><rect x="508.4" y="113" width="190.6" height="350"/></clipPath>
<g clip-path="url(#clipT)">
<path d="M510.1,130.3 C512.6,128.6 519.1,120.5 525.3,120.2 C531.6,119.9 544,123.8 547.4,128.6 C550.8,133.4 549.1,143.9 545.7,149 C542.3,154.1 532.7,156.3 527,159.2 C521.4,162 514.3,164.8 511.8,165.9" fill="none" stroke="#7e897c" stroke-width="9.5" stroke-linecap="round" stroke-linejoin="round" stroke-opacity="0.5"/><path d="M510.1,130.3 C512.6,128.6 519.1,120.5 525.3,120.2 C531.6,119.9 544,123.8 547.4,128.6 C550.8,133.4 549.1,143.9 545.7,149 C542.3,154.1 532.7,156.3 527,159.2 C521.4,162 514.3,164.8 511.8,165.9" fill="none" stroke="#d3e5d0" stroke-width="8.5" stroke-linecap="round" stroke-linejoin="round" stroke-opacity="1"/>
<path d="M527,115.1 C531.8,116.5 546.2,117.3 555.8,123.6 C565.5,129.8 583,145 584.7,152.4 C586.4,159.7 575.1,163.1 566,167.6 C557,172.1 538.3,175 530.4,179.5 C522.5,184 518.6,188.2 518.6,194.7 C518.6,201.2 529.3,211.1 530.4,218.5 C531.6,225.8 528.7,233.7 525.3,238.8 C521.9,243.9 512.6,247.3 510.1,249" fill="none" stroke="#7e897c" stroke-width="9.5" stroke-linecap="round" stroke-linejoin="round" stroke-opacity="0.5"/><path d="M527,115.1 C531.8,116.5 546.2,117.3 555.8,123.6 C565.5,129.8 583,145 584.7,152.4 C586.4,159.7 575.1,163.1 566,167.6 C557,172.1 538.3,175 530.4,179.5 C522.5,184 518.6,188.2 518.6,194.7 C518.6,201.2 529.3,211.1 530.4,218.5 C531.6,225.8 528.7,233.7 525.3,238.8 C521.9,243.9 512.6,247.3 510.1,249" fill="none" stroke="#d3e5d0" stroke-width="8.5" stroke-linecap="round" stroke-linejoin="round" stroke-opacity="1"/>
<path d="M510.1,249 C516.3,248.1 534.1,244.5 547.4,243.9 C560.6,243.3 575.3,244.5 589.7,245.6 C604.2,246.7 626.5,249.8 633.8,250.7" fill="none" stroke="#7e897c" stroke-width="9" stroke-linecap="round" stroke-linejoin="round" stroke-opacity="0.5"/><path d="M510.1,249 C516.3,248.1 534.1,244.5 547.4,243.9 C560.6,243.3 575.3,244.5 589.7,245.6 C604.2,246.7 626.5,249.8 633.8,250.7" fill="none" stroke="#d3e5d0" stroke-width="8" stroke-linecap="round" stroke-linejoin="round" stroke-opacity="1"/>
<path d="M608.4,125.3 C610.9,129.2 622.5,141.9 623.6,149 C624.8,156 619.1,162.3 615.2,167.6 C611.2,173 602.5,178.9 599.9,181.2" fill="none" stroke="#7e897c" stroke-width="9" stroke-linecap="round" stroke-linejoin="round" stroke-opacity="0.5"/><path d="M608.4,125.3 C610.9,129.2 622.5,141.9 623.6,149 C624.8,156 619.1,162.3 615.2,167.6 C611.2,173 602.5,178.9 599.9,181.2" fill="none" stroke="#d3e5d0" stroke-width="8" stroke-linecap="round" stroke-linejoin="round" stroke-opacity="1"/>
<path d="M623.6,113.4 C628.7,114.5 647.4,117.3 654.2,120.2 C660.9,123 664.3,126.4 664.3,130.3 C664.3,134.3 659.2,138.8 654.2,143.9 C649.1,149 637.2,158 633.8,160.8" fill="none" stroke="#7e897c" stroke-width="9" stroke-linecap="round" stroke-linejoin="round" stroke-opacity="0.5"/><path d="M623.6,113.4 C628.7,114.5 647.4,117.3 654.2,120.2 C660.9,123 664.3,126.4 664.3,130.3 C664.3,134.3 659.2,138.8 654.2,143.9 C649.1,149 637.2,158 633.8,160.8" fill="none" stroke="#d3e5d0" stroke-width="8" stroke-linecap="round" stroke-linejoin="round" stroke-opacity="1"/>
<path d="M654.2,165.9 L699.9,169.3" fill="none" stroke="#7e897c" stroke-width="9.5" stroke-linecap="round" stroke-linejoin="round" stroke-opacity="0.5"/><path d="M654.2,165.9 L699.9,169.3" fill="none" stroke="#d3e5d0" stroke-width="8.5" stroke-linecap="round" stroke-linejoin="round" stroke-opacity="1"/>
<path d="M555.8,160.8 C558.1,165.4 564.6,178.9 569.4,188 C574.2,197 580.1,206.6 584.7,215.1 C589.2,223.6 594.5,234.9 596.5,238.8" fill="none" stroke="#7e897c" stroke-width="7" stroke-linecap="round" stroke-linejoin="round" stroke-opacity="0.5"/><path d="M555.8,160.8 C558.1,165.4 564.6,178.9 569.4,188 C574.2,197 580.1,206.6 584.7,215.1 C589.2,223.6 594.5,234.9 596.5,238.8" fill="none" stroke="#d3e5d0" stroke-width="6" stroke-linecap="round" stroke-linejoin="round" stroke-opacity="1"/>
<path d="M510.1,211.7 C514.9,210.6 530.4,207.7 538.9,204.9 C547.4,202.1 557.3,196.4 560.9,194.7" fill="none" stroke="#7e897c" stroke-width="6" stroke-linecap="round" stroke-linejoin="round" stroke-opacity="0.5"/><path d="M510.1,211.7 C514.9,210.6 530.4,207.7 538.9,204.9 C547.4,202.1 557.3,196.4 560.9,194.7" fill="none" stroke="#d3e5d0" stroke-width="5" stroke-linecap="round" stroke-linejoin="round" stroke-opacity="1"/>
<path d="M650.8,120.2 C654.7,121.9 668.3,125 674.5,130.3 C680.7,135.7 683.8,147.3 688.1,152.4 C692.3,157.5 697.9,159.4 699.9,160.8" fill="none" stroke="#7e897c" stroke-width="5" stroke-linecap="round" stroke-linejoin="round" stroke-opacity="0.5"/><path d="M650.8,120.2 C654.7,121.9 668.3,125 674.5,130.3 C680.7,135.7 683.8,147.3 688.1,152.4 C692.3,157.5 697.9,159.4 699.9,160.8" fill="none" stroke="#d3e5d0" stroke-width="4" stroke-linecap="round" stroke-linejoin="round" stroke-opacity="1"/>
<path d="M620.3,194.7 C622.5,195.3 628.2,195 633.8,198.1 C639.5,201.2 647.4,211.7 654.2,213.4 C660.9,215.1 669.7,212.8 674.5,208.3 C679.3,203.8 683,191.9 683,186.3 C683,180.6 675.9,176.4 674.5,174.4" fill="none" stroke="#c2d9bf" stroke-width="2" stroke-linecap="round" stroke-linejoin="round" stroke-opacity="1"/>
<path d="M538.9,218.5 C540.6,220.2 545.7,228.4 549.1,228.6 C552.5,228.9 555.3,220.2 559.2,220.2 C563.2,220.2 570.5,227.2 572.8,228.6" fill="none" stroke="#c2d9bf" stroke-width="1.6" stroke-linecap="round" stroke-linejoin="round" stroke-opacity="1"/>
<path d="M510.1,295.2 C516.3,294.3 539.2,288.4 547.4,290.1 C555.6,291.8 560.6,301.1 559.2,305.3 C557.8,309.6 547.1,313.8 538.9,315.5 C530.7,317.2 514.9,315.5 510.1,315.5" fill="none" stroke="#7e897c" stroke-width="8.5" stroke-linecap="round" stroke-linejoin="round" stroke-opacity="0.5"/><path d="M510.1,295.2 C516.3,294.3 539.2,288.4 547.4,290.1 C555.6,291.8 560.6,301.1 559.2,305.3 C557.8,309.6 547.1,313.8 538.9,315.5 C530.7,317.2 514.9,315.5 510.1,315.5" fill="none" stroke="#d3e5d0" stroke-width="7.5" stroke-linecap="round" stroke-linejoin="round" stroke-opacity="1"/>
<path d="M510.1,318.9 C513.5,321.7 525.3,329.4 530.4,335.8 C535.5,342.3 543.1,351.7 540.6,357.9 C538.1,364.1 520.3,367.8 515.2,373.1 C510.1,378.5 510.9,387.3 510.1,390.1" fill="none" stroke="#7e897c" stroke-width="9.5" stroke-linecap="round" stroke-linejoin="round" stroke-opacity="0.5"/><path d="M510.1,318.9 C513.5,321.7 525.3,329.4 530.4,335.8 C535.5,342.3 543.1,351.7 540.6,357.9 C538.1,364.1 520.3,367.8 515.2,373.1 C510.1,378.5 510.9,387.3 510.1,390.1" fill="none" stroke="#d3e5d0" stroke-width="8.5" stroke-linecap="round" stroke-linejoin="round" stroke-opacity="1"/>
<path d="M510.1,313.8 L581.3,315.5" fill="none" stroke="#7e897c" stroke-width="6" stroke-linecap="round" stroke-linejoin="round" stroke-opacity="0.5"/><path d="M510.1,313.8 L581.3,315.5" fill="none" stroke="#d3e5d0" stroke-width="5" stroke-linecap="round" stroke-linejoin="round" stroke-opacity="1"/>
<path d="M521.9,386.7 C524.8,392.3 533.2,407.6 538.9,420.6 C544.5,433.6 553,457.3 555.8,464.7" fill="none" stroke="#888177" stroke-width="10" stroke-linecap="round" stroke-linejoin="round" stroke-opacity="0.5"/><path d="M521.9,386.7 C524.8,392.3 533.2,407.6 538.9,420.6 C544.5,433.6 553,457.3 555.8,464.7" fill="none" stroke="#e4d7c7" stroke-width="9" stroke-linecap="round" stroke-linejoin="round" stroke-opacity="1"/>
<path d="M538.9,403.6 C544.5,408.7 562.6,424 572.8,434.2 C583,444.3 595.4,459.6 599.9,464.7" fill="none" stroke="#888177" stroke-width="7" stroke-linecap="round" stroke-linejoin="round" stroke-opacity="0.5"/><path d="M538.9,403.6 C544.5,408.7 562.6,424 572.8,434.2 C583,444.3 595.4,459.6 599.9,464.7" fill="none" stroke="#e4d7c7" stroke-width="6" stroke-linecap="round" stroke-linejoin="round" stroke-opacity="1"/>
<path d="M586.4,410.4 L645.7,430.8" fill="none" stroke="#827c75" stroke-width="7" stroke-linecap="round" stroke-linejoin="round" stroke-opacity="0.5"/><path d="M586.4,410.4 L645.7,430.8" fill="none" stroke="#d9d0c4" stroke-width="6" stroke-linecap="round" stroke-linejoin="round" stroke-opacity="1"/>
<path d="M510.1,420.6 C512.6,423.4 520,432.5 525.3,437.5 C530.7,442.6 542.3,447.1 542.3,451.1 C542.3,455.1 528.2,459.6 525.3,461.3" fill="none" stroke="#dccbb7" stroke-width="2" stroke-linecap="round" stroke-linejoin="round" stroke-opacity="1"/>
<path d="M530.4,413.8 C533.2,417.8 546,430.8 547.4,437.5 C548.8,444.3 540.3,451.7 538.9,454.5" fill="none" stroke="#dccbb7" stroke-width="2" stroke-linecap="round" stroke-linejoin="round" stroke-opacity="1"/>
<path d="M630.4,290 C631,282 634.1,256.4 633.8,242.2 C633.5,228 627.6,217.6 628.7,204.9 C629.9,192.2 634.1,174.7 640.6,165.9 C647.1,157.2 657.8,153.5 667.7,152.4 C677.6,151.2 694.5,158 699.9,159.2" fill="none" stroke="#8a6084" stroke-width="7" stroke-linecap="round" stroke-linejoin="round" stroke-opacity="0.5"/><path d="M630.4,290 C631,282 634.1,256.4 633.8,242.2 C633.5,228 627.6,217.6 628.7,204.9 C629.9,192.2 634.1,174.7 640.6,165.9 C647.1,157.2 657.8,153.5 667.7,152.4 C677.6,151.2 694.5,158 699.9,159.2" fill="none" stroke="#e6a0dc" stroke-width="6" stroke-linecap="round" stroke-linejoin="round" stroke-opacity="1"/>
<path d="M699.9,174.4 C698.2,176.7 691.2,181.8 689.7,188 C688.3,194.2 689.7,206 691.4,211.7 C693.1,217.3 698.5,220.2 699.9,221.9" fill="none" stroke="#8a6084" stroke-width="10" stroke-linecap="round" stroke-linejoin="round" stroke-opacity="0.5"/><path d="M699.9,174.4 C698.2,176.7 691.2,181.8 689.7,188 C688.3,194.2 689.7,206 691.4,211.7 C693.1,217.3 698.5,220.2 699.9,221.9" fill="none" stroke="#e6a0dc" stroke-width="9" stroke-linecap="round" stroke-linejoin="round" stroke-opacity="1"/>
<path d="M623.6,290 C625.9,285.4 631,268.2 637.2,262.5 C643.4,256.8 650.5,255.8 660.9,255.8 C671.4,255.8 693.4,261.4 699.9,262.5" fill="none" stroke="#8a6084" stroke-width="8.5" stroke-linecap="round" stroke-linejoin="round" stroke-opacity="0.5"/><path d="M623.6,290 C625.9,285.4 631,268.2 637.2,262.5 C643.4,256.8 650.5,255.8 660.9,255.8 C671.4,255.8 693.4,261.4 699.9,262.5" fill="none" stroke="#e6a0dc" stroke-width="7.5" stroke-linecap="round" stroke-linejoin="round" stroke-opacity="1"/>
<path d="M674.5,285 C676.2,288.4 680.4,301.1 684.7,305.3 C688.9,309.6 697.4,309.6 699.9,310.4" fill="none" stroke="#8a6084" stroke-width="9" stroke-linecap="round" stroke-linejoin="round" stroke-opacity="0.5"/><path d="M674.5,285 C676.2,288.4 680.4,301.1 684.7,305.3 C688.9,309.6 697.4,309.6 699.9,310.4" fill="none" stroke="#e6a0dc" stroke-width="8" stroke-linecap="round" stroke-linejoin="round" stroke-opacity="1"/>
<path d="M606.7,322.3 C607.8,320.9 607.8,315.2 613.5,313.8 C619.1,312.4 633.2,315.8 640.6,313.8 C647.9,311.8 653.6,306.8 657.5,301.9 C661.5,297.1 663.2,287.8 664.3,285" fill="none" stroke="#8a6084" stroke-width="6" stroke-linecap="round" stroke-linejoin="round" stroke-opacity="0.5"/><path d="M606.7,322.3 C607.8,320.9 607.8,315.2 613.5,313.8 C619.1,312.4 633.2,315.8 640.6,313.8 C647.9,311.8 653.6,306.8 657.5,301.9 C661.5,297.1 663.2,287.8 664.3,285" fill="none" stroke="#e6a0dc" stroke-width="5" stroke-linecap="round" stroke-linejoin="round" stroke-opacity="1"/>
<path d="M584.7,465 C586.1,460.4 586.6,443.8 593.1,437.5 C599.6,431.3 612.9,430.8 623.6,427.4 C634.4,424 647.9,424 657.5,417.2 C667.1,410.4 674.2,393.5 681.3,386.7 C688.3,379.9 696.8,378.2 699.9,376.5" fill="none" stroke="#8a6084" stroke-width="6" stroke-linecap="round" stroke-linejoin="round" stroke-opacity="0.5"/><path d="M584.7,465 C586.1,460.4 586.6,443.8 593.1,437.5 C599.6,431.3 612.9,430.8 623.6,427.4 C634.4,424 647.9,424 657.5,417.2 C667.1,410.4 674.2,393.5 681.3,386.7 C688.3,379.9 696.8,378.2 699.9,376.5" fill="none" stroke="#e6a0dc" stroke-width="5" stroke-linecap="round" stroke-linejoin="round" stroke-opacity="1"/>
<path d="M599.9,318.9 C596.8,321.7 580.1,332.2 581.3,335.8 C582.4,339.5 600.2,337.5 606.7,340.9 C613.2,344.3 621.4,351.4 620.3,356.2 C619.1,361 598.8,365.8 599.9,369.7 C601,373.7 621.4,375.7 627,379.9 C632.7,384.2 636.6,390.1 633.8,395.2 C631,400.3 611.8,406.5 610.1,410.4 C608.4,414.4 618,416.4 623.6,418.9 C629.3,421.4 642.6,422 644,425.7 C645.4,429.4 637.2,437.3 632.1,440.9 C627,444.6 614.3,445.2 613.5,447.7 C612.6,450.3 624.8,454.8 627,456.2" fill="none" stroke="#8f5250" stroke-width="7.8" stroke-linecap="round" stroke-linejoin="round" stroke-opacity="0.5"/><path d="M599.9,318.9 C596.8,321.7 580.1,332.2 581.3,335.8 C582.4,339.5 600.2,337.5 606.7,340.9 C613.2,344.3 621.4,351.4 620.3,356.2 C619.1,361 598.8,365.8 599.9,369.7 C601,373.7 621.4,375.7 627,379.9 C632.7,384.2 636.6,390.1 633.8,395.2 C631,400.3 611.8,406.5 610.1,410.4 C608.4,414.4 618,416.4 623.6,418.9 C629.3,421.4 642.6,422 644,425.7 C645.4,429.4 637.2,437.3 632.1,440.9 C627,444.6 614.3,445.2 613.5,447.7 C612.6,450.3 624.8,454.8 627,456.2" fill="none" stroke="#ef8a86" stroke-width="6.8" stroke-linecap="round" stroke-linejoin="round" stroke-opacity="1"/>
<path d="M649.1,335.8 C650.5,341.5 652.7,362.7 657.5,369.7 C662.3,376.8 673.6,372.6 677.9,378.2 C682.1,383.9 680.1,394.6 683,403.6 C685.8,412.7 692.9,427.7 694.8,432.5" fill="none" stroke="#e98080" stroke-width="2.2" stroke-linecap="round" stroke-linejoin="round" stroke-opacity="1"/>
<path d="M560.9,215.1 L572.8,242.2 L589.7,238.8 L599.9,242.2" fill="none" stroke="#6d8b4b" stroke-width="3.6" stroke-linejoin="round" stroke-linecap="round"/>
<path d="M589.7,221.9 L606.7,221.9 L615.2,235.4 L603.3,245.6 L588.1,238.8Z" fill="none" stroke="#6d8b4b" stroke-width="3.4" stroke-linejoin="round" stroke-linecap="round"/>
<path d="M555.8,243.9 L566,235.4" fill="none" stroke="#3550c0" stroke-width="3.6" stroke-linejoin="round" stroke-linecap="round"/>
<path d="M589.7,221.9 L599.9,220.2" fill="none" stroke="#3550c0" stroke-width="3.6" stroke-linejoin="round" stroke-linecap="round"/>
<path d="M608.4,230.3 L615.2,235.4" fill="none" stroke="#3550c0" stroke-width="3.6" stroke-linejoin="round" stroke-linecap="round"/>
<path d="M560.9,215.1 L567.7,203.2" fill="none" stroke="#e04a40" stroke-width="2.2" stroke-linejoin="round" stroke-linecap="round"/>
<path d="M530.4,327.4 L547.4,317.2 L559.2,324 L557.5,335.8 L542.3,340.9 L528.7,334.2Z" fill="none" stroke="#6d8b4b" stroke-width="3.4" stroke-linejoin="round" stroke-linecap="round"/>
<path d="M528.7,334.2 L535.5,349.4 L532.1,356.2" fill="none" stroke="#6d8b4b" stroke-width="3.6" stroke-linejoin="round" stroke-linecap="round"/>
<path d="M532.1,356.2 L527,361.3" fill="none" stroke="#2a3fd0" stroke-width="3.8" stroke-linejoin="round" stroke-linecap="round"/>
<path d="M530.4,324 L527,320.6" fill="none" stroke="#e04a40" stroke-width="2" stroke-linejoin="round" stroke-linecap="round"/>
<path d="M576.2,301.9 L588.1,288.4 L603.3,291.8 L606.7,305.3 L596.5,317.2 L581.3,315.5Z" fill="none" stroke="#c4169e" stroke-width="4" stroke-linejoin="round" stroke-linecap="round"/>
<path d="M606.7,305.3 L623.6,300.3 L630.4,288.4 L637.2,285" fill="none" stroke="#c4169e" stroke-width="4" stroke-linejoin="round" stroke-linecap="round"/>
<path d="M623.6,300.3 L616.9,308.7" fill="none" stroke="#e04a40" stroke-width="2.6" stroke-linejoin="round" stroke-linecap="round"/>
<path d="M630.4,286.3 L640.6,279.5" fill="none" stroke="#3550c0" stroke-width="3.6" stroke-linejoin="round" stroke-linecap="round"/>
<line x1="602.5" y1="247.3" x2="596.5" y2="290.1" stroke="#e0d83a" stroke-width="1.5" stroke-dasharray="2,1.5"/>
<line x1="576.2" y1="305.3" x2="559.2" y2="322.3" stroke="#e0d83a" stroke-width="1.5" stroke-dasharray="2,1.5"/>
</g>
<clipPath id="clipB"><rect x="37" y="614.2" width="190.6" height="350.8"/></clipPath>
<g clip-path="url(#clipB)">
<path d="M68.9,615.1 C77.4,622.7 100,641.9 119.7,660.8 C139.5,679.8 176.2,717.3 187.5,728.6" fill="none" stroke="#808b7e" stroke-width="15" stroke-linecap="round" stroke-linejoin="round" stroke-opacity="0.5"/><path d="M68.9,615.1 C77.4,622.7 100,641.9 119.7,660.8 C139.5,679.8 176.2,717.3 187.5,728.6" fill="none" stroke="#d6e8d3" stroke-width="14" stroke-linecap="round" stroke-linejoin="round" stroke-opacity="1"/>
<path d="M51.9,652.4 C61,660 89.2,683.7 106.2,698.1 C123.1,712.5 145.7,732 153.6,738.8" fill="none" stroke="#808b7e" stroke-width="10" stroke-linecap="round" stroke-linejoin="round" stroke-opacity="0.5"/><path d="M51.9,652.4 C61,660 89.2,683.7 106.2,698.1 C123.1,712.5 145.7,732 153.6,738.8" fill="none" stroke="#d6e8d3" stroke-width="9" stroke-linecap="round" stroke-linejoin="round" stroke-opacity="1"/>
<path d="M40.1,677.8 C44.9,675.5 61.3,666.2 68.9,664.2 C76.5,662.3 80.8,663.1 85.8,665.9 C90.9,668.8 97.1,678.6 99.4,681.2" fill="none" stroke="#808b7e" stroke-width="9.5" stroke-linecap="round" stroke-linejoin="round" stroke-opacity="0.5"/><path d="M40.1,677.8 C44.9,675.5 61.3,666.2 68.9,664.2 C76.5,662.3 80.8,663.1 85.8,665.9 C90.9,668.8 97.1,678.6 99.4,681.2" fill="none" stroke="#d6e8d3" stroke-width="8.5" stroke-linecap="round" stroke-linejoin="round" stroke-opacity="1"/>
<path d="M40.1,720.2 C46.3,720.5 66.4,718.8 77.4,721.9 C88.4,725 104.8,732 106.2,738.8 C107.6,745.6 93.5,756.3 85.8,762.5 C78.2,768.8 60.4,771.5 60.4,776.1 C60.4,780.7 81.6,787.7 85.8,790" fill="none" stroke="#808b7e" stroke-width="9.5" stroke-linecap="round" stroke-linejoin="round" stroke-opacity="0.5"/><path d="M40.1,720.2 C46.3,720.5 66.4,718.8 77.4,721.9 C88.4,725 104.8,732 106.2,738.8 C107.6,745.6 93.5,756.3 85.8,762.5 C78.2,768.8 60.4,771.5 60.4,776.1 C60.4,780.7 81.6,787.7 85.8,790" fill="none" stroke="#d6e8d3" stroke-width="8.5" stroke-linecap="round" stroke-linejoin="round" stroke-opacity="1"/>
<path d="M40.1,630.3 C43.5,633.7 54.2,643.9 60.4,650.7 C66.6,657.5 74.5,667.6 77.4,671" fill="none" stroke="#808b7e" stroke-width="7" stroke-linecap="round" stroke-linejoin="round" stroke-opacity="0.5"/><path d="M40.1,630.3 C43.5,633.7 54.2,643.9 60.4,650.7 C66.6,657.5 74.5,667.6 77.4,671" fill="none" stroke="#d6e8d3" stroke-width="6" stroke-linecap="round" stroke-linejoin="round" stroke-opacity="1"/>
<path d="M113,635.4 C119.7,634.6 144,627.5 153.6,630.3 C163.2,633.2 172.3,646.4 170.6,652.4 C168.9,658.3 151.9,665.9 143.5,665.9 C135,665.9 123.7,654.6 119.7,652.4" fill="none" stroke="#808b7e" stroke-width="7" stroke-linecap="round" stroke-linejoin="round" stroke-opacity="0.5"/><path d="M113,635.4 C119.7,634.6 144,627.5 153.6,630.3 C163.2,633.2 172.3,646.4 170.6,652.4 C168.9,658.3 151.9,665.9 143.5,665.9 C135,665.9 123.7,654.6 119.7,652.4" fill="none" stroke="#d6e8d3" stroke-width="6" stroke-linecap="round" stroke-linejoin="round" stroke-opacity="1"/>
<path d="M174,728.6 C176.2,726.9 182.5,718.5 187.5,718.5 C192.6,718.5 200.3,736 204.5,728.6 C208.7,721.3 215.8,684.9 213,674.4 C210.1,664 191.8,667.3 187.5,665.9" fill="none" stroke="#808b7e" stroke-width="5" stroke-linecap="round" stroke-linejoin="round" stroke-opacity="0.5"/><path d="M174,728.6 C176.2,726.9 182.5,718.5 187.5,718.5 C192.6,718.5 200.3,736 204.5,728.6 C208.7,721.3 215.8,684.9 213,674.4 C210.1,664 191.8,667.3 187.5,665.9" fill="none" stroke="#d6e8d3" stroke-width="4" stroke-linecap="round" stroke-linejoin="round" stroke-opacity="1"/>
<path d="M40.2,802.4 C46.6,800.7 67.2,792 78.6,792 C89.9,792 106.7,796.3 108.2,802.4 C109.6,808.5 96.3,822.7 87.3,828.6 C78.3,834.4 56.5,833.5 54.2,837.3 C51.8,841 64.9,847.7 73.3,851.2 C81.7,854.7 99.5,857 104.7,858.2" fill="none" stroke="#808b7e" stroke-width="9.5" stroke-linecap="round" stroke-linejoin="round" stroke-opacity="0.5"/><path d="M40.2,802.4 C46.6,800.7 67.2,792 78.6,792 C89.9,792 106.7,796.3 108.2,802.4 C109.6,808.5 96.3,822.7 87.3,828.6 C78.3,834.4 56.5,833.5 54.2,837.3 C51.8,841 64.9,847.7 73.3,851.2 C81.7,854.7 99.5,857 104.7,858.2" fill="none" stroke="#d6e8d3" stroke-width="8.5" stroke-linecap="round" stroke-linejoin="round" stroke-opacity="1"/>
<path d="M45.5,886 C51,887.2 70.7,893.6 78.6,893 C86.4,892.4 93.9,886.6 92.5,882.6 C91,878.5 76.5,872.7 69.8,868.6 C63.2,864.6 55.3,859.9 52.4,858.2" fill="none" stroke="#808b7e" stroke-width="9.5" stroke-linecap="round" stroke-linejoin="round" stroke-opacity="0.5"/><path d="M45.5,886 C51,887.2 70.7,893.6 78.6,893 C86.4,892.4 93.9,886.6 92.5,882.6 C91,878.5 76.5,872.7 69.8,868.6 C63.2,864.6 55.3,859.9 52.4,858.2" fill="none" stroke="#d6e8d3" stroke-width="8.5" stroke-linecap="round" stroke-linejoin="round" stroke-opacity="1"/>
<path d="M113.4,816.4 C116.6,816.9 125.3,821.3 132.6,819.8 C139.8,818.4 152.9,809.7 157,807.6" fill="none" stroke="#808b7e" stroke-width="4" stroke-linecap="round" stroke-linejoin="round" stroke-opacity="0.5"/><path d="M113.4,816.4 C116.6,816.9 125.3,821.3 132.6,819.8 C139.8,818.4 152.9,809.7 157,807.6" fill="none" stroke="#d6e8d3" stroke-width="3" stroke-linecap="round" stroke-linejoin="round" stroke-opacity="1"/>
<path d="M40.2,929.6 C45.2,930.8 62.6,929.8 69.8,936.6 C77.1,943.3 81.5,964.4 83.8,970" fill="none" stroke="#8a8278" stroke-width="10" stroke-linecap="round" stroke-linejoin="round" stroke-opacity="0.5"/><path d="M40.2,929.6 C45.2,930.8 62.6,929.8 69.8,936.6 C77.1,943.3 81.5,964.4 83.8,970" fill="none" stroke="#e6d9c9" stroke-width="9" stroke-linecap="round" stroke-linejoin="round" stroke-opacity="1"/>
<path d="M104.7,900 L125.6,970" fill="none" stroke="#8a8278" stroke-width="8" stroke-linecap="round" stroke-linejoin="round" stroke-opacity="0.5"/><path d="M104.7,900 L125.6,970" fill="none" stroke="#e6d9c9" stroke-width="7" stroke-linecap="round" stroke-linejoin="round" stroke-opacity="1"/>
<path d="M139.5,924.4 L195.3,957.5" fill="none" stroke="#847e76" stroke-width="8" stroke-linecap="round" stroke-linejoin="round" stroke-opacity="0.5"/><path d="M139.5,924.4 L195.3,957.5" fill="none" stroke="#dcd2c6" stroke-width="7" stroke-linecap="round" stroke-linejoin="round" stroke-opacity="1"/>
<path d="M87.3,907 C89.6,912.8 101.2,933.1 101.2,941.8 C101.2,950.5 86.7,954.5 87.3,959.2 C87.8,963.9 101.8,968.2 104.7,970" fill="none" stroke="#dccbb7" stroke-width="2" stroke-linecap="round" stroke-linejoin="round" stroke-opacity="1"/>
<path d="M122.1,907 C126.2,912.2 140.7,927.8 146.5,938.3 C152.3,948.8 155.2,964.7 157,970" fill="none" stroke="#dccbb7" stroke-width="2" stroke-linecap="round" stroke-linejoin="round" stroke-opacity="1"/>
<path d="M116.4,652.4 C116.9,648.1 113.5,632.3 119.7,626.9 C126,621.6 140.9,619.3 153.6,620.2 C166.4,621 189,630.1 196,632" fill="none" stroke="#547478" stroke-width="9.5" stroke-linecap="round" stroke-linejoin="round" stroke-opacity="0.5"/><path d="M116.4,652.4 C116.9,648.1 113.5,632.3 119.7,626.9 C126,621.6 140.9,619.3 153.6,620.2 C166.4,621 189,630.1 196,632" fill="none" stroke="#8cc2c8" stroke-width="8.5" stroke-linecap="round" stroke-linejoin="round" stroke-opacity="1"/>
<path d="M65.5,689.7 C67.5,686.6 69.7,674.4 77.4,671 C85,667.6 102.5,667.6 111.3,669.3 C120,671 124.5,676.4 129.9,681.2 C135.3,686 141.2,695.3 143.5,698.1" fill="none" stroke="#547478" stroke-width="9" stroke-linecap="round" stroke-linejoin="round" stroke-opacity="0.5"/><path d="M65.5,689.7 C67.5,686.6 69.7,674.4 77.4,671 C85,667.6 102.5,667.6 111.3,669.3 C120,671 124.5,676.4 129.9,681.2 C135.3,686 141.2,695.3 143.5,698.1" fill="none" stroke="#8cc2c8" stroke-width="8" stroke-linecap="round" stroke-linejoin="round" stroke-opacity="1"/>
<path d="M65.5,689.7 C66.9,693.9 69.7,705.2 74,715.1 C78.2,725 83.9,741.6 90.9,749 C98,756.3 108.7,757.5 116.4,759.2 C124,760.8 130.5,755.8 136.7,759.2 C142.9,762.5 150.8,776.1 153.6,779.5" fill="none" stroke="#547478" stroke-width="7" stroke-linecap="round" stroke-linejoin="round" stroke-opacity="0.5"/><path d="M65.5,689.7 C66.9,693.9 69.7,705.2 74,715.1 C78.2,725 83.9,741.6 90.9,749 C98,756.3 108.7,757.5 116.4,759.2 C124,760.8 130.5,755.8 136.7,759.2 C142.9,762.5 150.8,776.1 153.6,779.5" fill="none" stroke="#8cc2c8" stroke-width="6" stroke-linecap="round" stroke-linejoin="round" stroke-opacity="1"/>
<path d="M229.9,660.8 C224.3,662.5 202.5,665.4 196,671 C189.5,676.7 189.5,687.4 190.9,694.7 C192.3,702.1 198,710.8 204.5,715.1 C211,719.3 225.7,719.3 229.9,720.2" fill="none" stroke="#547478" stroke-width="9.5" stroke-linecap="round" stroke-linejoin="round" stroke-opacity="0.5"/><path d="M229.9,660.8 C224.3,662.5 202.5,665.4 196,671 C189.5,676.7 189.5,687.4 190.9,694.7 C192.3,702.1 198,710.8 204.5,715.1 C211,719.3 225.7,719.3 229.9,720.2" fill="none" stroke="#8cc2c8" stroke-width="8.5" stroke-linecap="round" stroke-linejoin="round" stroke-opacity="1"/>
<path d="M229.9,623.6 C226.8,625.5 214.4,629.2 211.3,635.4 C208.2,641.6 211.3,656.6 211.3,660.8" fill="none" stroke="#547478" stroke-width="9" stroke-linecap="round" stroke-linejoin="round" stroke-opacity="0.5"/><path d="M229.9,623.6 C226.8,625.5 214.4,629.2 211.3,635.4 C208.2,641.6 211.3,656.6 211.3,660.8" fill="none" stroke="#8cc2c8" stroke-width="8" stroke-linecap="round" stroke-linejoin="round" stroke-opacity="1"/>
<path d="M160.4,742.2 C161.6,737.7 162.7,721.3 167.2,715.1 C171.7,708.9 179.1,705.5 187.5,704.9 C196,704.4 211,707.7 218.1,711.7 C225.1,715.6 227.9,725.8 229.9,728.6" fill="none" stroke="#547478" stroke-width="8.5" stroke-linecap="round" stroke-linejoin="round" stroke-opacity="0.5"/><path d="M160.4,742.2 C161.6,737.7 162.7,721.3 167.2,715.1 C171.7,708.9 179.1,705.5 187.5,704.9 C196,704.4 211,707.7 218.1,711.7 C225.1,715.6 227.9,725.8 229.9,728.6" fill="none" stroke="#8cc2c8" stroke-width="7.5" stroke-linecap="round" stroke-linejoin="round" stroke-opacity="1"/>
<path d="M229.9,759.2 C227.9,761.1 219.5,765.9 218.1,771 C216.6,776.2 220.9,786.8 221.4,790" fill="none" stroke="#547478" stroke-width="9" stroke-linecap="round" stroke-linejoin="round" stroke-opacity="0.5"/><path d="M229.9,759.2 C227.9,761.1 219.5,765.9 218.1,771 C216.6,776.2 220.9,786.8 221.4,790" fill="none" stroke="#8cc2c8" stroke-width="8" stroke-linecap="round" stroke-linejoin="round" stroke-opacity="1"/>
<path d="M226.6,816.4 C221.4,819.3 199.3,825.9 195.3,833.8 C191.2,841.6 201.1,854.1 202.2,863.4 C203.4,872.7 206.9,881.7 202.2,889.5 C197.6,897.4 179.6,901.7 174.4,910.4 C169.1,919.1 168,931.9 170.9,941.8 C173.8,951.7 188.3,965.3 191.8,970" fill="none" stroke="#547478" stroke-width="5.4" stroke-linecap="round" stroke-linejoin="round" stroke-opacity="0.5"/><path d="M226.6,816.4 C221.4,819.3 199.3,825.9 195.3,833.8 C191.2,841.6 201.1,854.1 202.2,863.4 C203.4,872.7 206.9,881.7 202.2,889.5 C197.6,897.4 179.6,901.7 174.4,910.4 C169.1,919.1 168,931.9 170.9,941.8 C173.8,951.7 188.3,965.3 191.8,970" fill="none" stroke="#8cc2c8" stroke-width="4.4" stroke-linecap="round" stroke-linejoin="round" stroke-opacity="1"/>
<path d="M157,785 C156.4,790.2 151.7,810.6 153.5,816.4 C155.2,822.2 163.9,823.3 167.4,819.8 C170.9,816.4 173.2,799.5 174.4,795.5" fill="none" stroke="#547478" stroke-width="5" stroke-linecap="round" stroke-linejoin="round" stroke-opacity="0.5"/><path d="M157,785 C156.4,790.2 151.7,810.6 153.5,816.4 C155.2,822.2 163.9,823.3 167.4,819.8 C170.9,816.4 173.2,799.5 174.4,795.5" fill="none" stroke="#8cc2c8" stroke-width="4" stroke-linecap="round" stroke-linejoin="round" stroke-opacity="1"/>
<path d="M224.9,828.6 C224,835.8 222.3,859 219.7,872.1 C217.1,885.2 211.5,890.6 209.2,907 C206.9,923.3 206.3,959.5 205.7,970" fill="none" stroke="#8d5555" stroke-width="6" stroke-linecap="round" stroke-linejoin="round" stroke-opacity="0.5"/><path d="M224.9,828.6 C224,835.8 222.3,859 219.7,872.1 C217.1,885.2 211.5,890.6 209.2,907 C206.9,923.3 206.3,959.5 205.7,970" fill="none" stroke="#ec8f8f" stroke-width="5" stroke-linecap="round" stroke-linejoin="round" stroke-opacity="1"/>
<path d="M177.9,889.5 C178.7,892.4 178.4,903.5 183.1,907 C187.7,910.4 201.4,904.6 205.7,910.4 C210.1,916.2 215.6,936.6 209.2,941.8 C202.8,947 173.8,937.1 167.4,941.8 C161,946.5 170.3,965.3 170.9,970" fill="none" stroke="#ec8f8f" stroke-width="1.8" stroke-linecap="round" stroke-linejoin="round" stroke-opacity="1"/>
<path d="M204.5,754.1 C206.2,758.3 211.8,773.5 214.7,779.5 C217.5,785.5 220.3,788.2 221.4,790" fill="none" stroke="#ec8f8f" stroke-width="2" stroke-linecap="round" stroke-linejoin="round" stroke-opacity="1"/>
<path d="M77.4,718.5 L94.3,728.6 L119.7,740.5" fill="none" stroke="#6d8b4b" stroke-width="4" stroke-linejoin="round" stroke-linecap="round"/>
<path d="M119.7,740.5 L131.6,733.7 L141.8,743.9 L136.7,755.8 L119.7,755.8Z" fill="none" stroke="#6d8b4b" stroke-width="3.6" stroke-linejoin="round" stroke-linecap="round"/>
<path d="M89.2,742.2 L92.6,733.7" fill="none" stroke="#3550c0" stroke-width="4" stroke-linejoin="round" stroke-linecap="round"/>
<path d="M126.5,735.4 L135,733.7" fill="none" stroke="#3550c0" stroke-width="3.6" stroke-linejoin="round" stroke-linecap="round"/>
<path d="M129.9,755.8 L138.4,754.1" fill="none" stroke="#3550c0" stroke-width="3.6" stroke-linejoin="round" stroke-linecap="round"/>
<path d="M77.4,718.5 L79.1,708.3" fill="none" stroke="#e06060" stroke-width="2.4" stroke-linejoin="round" stroke-linecap="round"/>
<path d="M153.6,790 L163.8,776.1 L175.7,767.6 L180.8,762.5 L174,755.8 L175.7,743.9" fill="none" stroke="#1f5ea6" stroke-width="5" stroke-linejoin="round" stroke-linecap="round"/>
<path d="M175.7,743.9 L175.7,738.8" fill="none" stroke="#2a3fd0" stroke-width="3.4" stroke-linejoin="round" stroke-linecap="round"/>
<path d="M104.7,828.6 L118.6,823.3 L132.6,832 L132.6,844.2 L116.9,849.5 L104.7,842.5Z" fill="none" stroke="#6d8b4b" stroke-width="3.6" stroke-linejoin="round" stroke-linecap="round"/>
<path d="M104.7,842.5 L92.5,849.5 L101.2,861.7 L92.5,872.1" fill="none" stroke="#6d8b4b" stroke-width="3.8" stroke-linejoin="round" stroke-linecap="round"/>
<path d="M92.5,872.1 L89,877.3" fill="none" stroke="#2a3fd0" stroke-width="4" stroke-linejoin="round" stroke-linecap="round"/>
<path d="M89,844.2 L92.5,837.3" fill="none" stroke="#e04a40" stroke-width="2.2" stroke-linejoin="round" stroke-linecap="round"/>
<line x1="136.7" y1="759.2" x2="153.6" y2="790" stroke="#e0d83a" stroke-width="1.5" stroke-dasharray="2,1.5"/>
<line x1="155.2" y1="788.5" x2="129.1" y2="823.3" stroke="#e0d83a" stroke-width="1.5" stroke-dasharray="2,1.5"/>
</g>
<defs><g id="prs"><path d="M-33.2,-92.9 C-30.2,-94.8 -21.8,-97.5 -17.1,-98.6 C-12.5,-99.8 -6.5,-99.6 -2,-100.5 C2.5,-101.5 9.7,-104.7 13.1,-104.9 C16.6,-105.1 19.7,-104.1 21.1,-101.8 C22.5,-99.6 22.9,-95.8 22.6,-90.1 C22.3,-84.4 20.6,-70.7 19.2,-63.6 C17.8,-56.5 15.2,-46.8 13.1,-42.8 C11.1,-38.8 8.3,-36.5 5.6,-36.7 C2.9,-37 -1.4,-41.5 -4.8,-44.3 C-8.2,-47.1 -13,-52.9 -17.1,-55.7 C-21.3,-58.4 -29.2,-59.8 -32.3,-62.7 C-35.4,-65.6 -37.2,-71.4 -38,-75 C-38.8,-78.5 -38.3,-83.6 -37.6,-86.3 C-36.9,-89 -36.3,-91.1 -33.2,-92.9Z" fill="#d3a9bd"/>
<path d="M29.2,-99.9 C28.9,-106.3 36.1,-103.5 39.6,-104.3 C43.2,-105.2 49.3,-106.3 52.9,-105.6 C56.4,-105 59.3,-101.2 63.3,-99.9 C67.3,-98.7 75.8,-98.5 79.4,-97.3 C82.9,-96.1 85.4,-95.2 87,-92 C88.5,-88.8 90,-80.2 89.8,-75.9 C89.6,-71.7 87.9,-66.3 85.5,-63.6 C83,-60.9 76.3,-59.9 73.7,-57.9 C71.2,-55.9 69.8,-53.2 68.4,-50.4 C67.1,-47.5 66.7,-41.3 64.6,-39 C62.6,-36.7 57.5,-35.4 54.8,-34.8 C52,-34.3 48.3,-31.2 46.3,-35.2 C44.3,-39.2 44.1,-52 41.5,-61.7 C39,-71.4 29.5,-93.6 29.2,-99.9Z" fill="#8d6180"/>
<path d="M-19,-39 C-16.4,-41.8 -10,-42.7 -5.8,-42.8 C-1.5,-42.8 5.1,-41.4 9.4,-39.4 C13.6,-37.4 19.8,-33.6 22.6,-29.5 C25.4,-25.5 27.4,-19 28.3,-12.5 C29.1,-6 29.1,8 28.3,14 C27.4,20 25.4,24.7 22.6,27.3 C19.8,29.8 13.9,31 9.4,31 C4.8,31 -3.1,29.8 -7.7,27.3 C-12.2,24.7 -18.4,18.8 -20.9,14 C-23.5,9.2 -24.4,0.8 -24.7,-4.9 C-25.1,-10.6 -24.1,-18.7 -23.2,-23.9 C-22.3,-29 -21.6,-36.2 -19,-39Z" fill="#a5b9d3"/>
<path d="M24.5,-27.6 C27,-31.6 32.3,-36.7 36.8,-39 C41.3,-41.3 50.1,-42.5 54.8,-42.8 C59.5,-43.1 65.3,-42.9 68,-40.9 C70.7,-38.9 72.3,-33.8 72.8,-29.5 C73.3,-25.3 72.2,-17.3 71.4,-12.5 C70.7,-7.7 68,-1 68,2.6 C68.1,6.3 72.4,8.9 71.8,12.1 C71.3,15.3 67.4,21.2 64.3,23.8 C61.1,26.5 55.5,28.8 51,29.5 C46.5,30.2 38.2,29.9 34,28.4 C29.7,26.9 24.9,23.3 22.6,19.7 C20.3,16.1 18.8,9.4 18.4,4.5 C18.1,-0.3 19.4,-7.7 20.3,-12.5 C21.2,-17.3 22,-23.7 24.5,-27.6Z" fill="#2e7b9b"/>
<ellipse cx="-0.1" cy="0.2" rx="17.4" ry="14" fill="#fff"/>
<path d="M-4.4,-5.6 L-5.3,-2.3 L-6.3,-0.7" fill="none" stroke="#d2232a" stroke-width="1.25"/><path d="M-4.4,2.4 L-2.6,4.4 L-0.1,4" fill="none" stroke="#d2232a" stroke-width="1.25"/><path d="M4.2,3.4 L6.4,1.7 L8.6,2" fill="none" stroke="#d2232a" stroke-width="1.25"/><path d="M-7.9,3 L-9.5,9" fill="none" stroke="#d2232a" stroke-width="1.25"/><path d="M1.4,6.3 L-1.6,11.7" fill="none" stroke="#d2232a" stroke-width="1.25"/><path d="M12.5,0.2 L15.4,-3.3" fill="none" stroke="#d2232a" stroke-width="1.25"/><path d="M11.9,3.6 L13.5,6.7" fill="none" stroke="#d2232a" stroke-width="1.25"/><path d="M-8.5,0.7 L-8.1,-1.3" fill="none" stroke="#d2232a" stroke-width="1.25"/><path d="M-3.1,-4.3 L-1.9,-3.3" fill="none" stroke="#d2232a" stroke-width="1.25"/><circle cx="-4.2" cy="-7.7" r="2.1" fill="none" stroke="#d2232a" stroke-width="1.2"/><circle cx="-6.5" cy="1.4" r="2.1" fill="none" stroke="#d2232a" stroke-width="1.2"/><circle cx="2.1" cy="4.2" r="2.1" fill="none" stroke="#d2232a" stroke-width="1.2"/><circle cx="10.5" cy="1.8" r="2.1" fill="none" stroke="#d2232a" stroke-width="1.2"/>
<ellipse cx="49.1" cy="-0.8" rx="16.7" ry="14" fill="#fff"/>
<path d="M53.4,-6.6 L54.3,-3.3 L55.3,-1.7" fill="none" stroke="#d2232a" stroke-width="1.25"/><path d="M53.4,1.4 L51.6,3.4 L49.1,3" fill="none" stroke="#d2232a" stroke-width="1.25"/><path d="M44.8,2.4 L42.6,0.7 L40.4,1" fill="none" stroke="#d2232a" stroke-width="1.25"/><path d="M56.9,2 L58.5,8" fill="none" stroke="#d2232a" stroke-width="1.25"/><path d="M47.6,5.3 L50.6,10.7" fill="none" stroke="#d2232a" stroke-width="1.25"/><path d="M36.5,-0.8 L33.6,-4.3" fill="none" stroke="#d2232a" stroke-width="1.25"/><path d="M37.1,2.6 L35.5,5.7" fill="none" stroke="#d2232a" stroke-width="1.25"/><path d="M57.5,-0.3 L57.1,-2.3" fill="none" stroke="#d2232a" stroke-width="1.25"/><path d="M52.1,-5.3 L50.9,-4.3" fill="none" stroke="#d2232a" stroke-width="1.25"/><circle cx="53.2" cy="-8.7" r="2.1" fill="none" stroke="#d2232a" stroke-width="1.2"/><circle cx="55.5" cy="0.4" r="2.1" fill="none" stroke="#d2232a" stroke-width="1.2"/><circle cx="46.9" cy="3.2" r="2.1" fill="none" stroke="#d2232a" stroke-width="1.2"/><circle cx="38.5" cy="0.8" r="2.1" fill="none" stroke="#d2232a" stroke-width="1.2"/>
<path d="M27.9,-98.8 L41.9,-92 C42.9,-88 48.7,-69.3 49.5,-61.7 C50.2,-54.1 49.2,-41.8 47.6,-35.2 C46,-28.7 40.5,-19.1 37.8,-12.5 C35,-5.9 28.8,9.8 26.8,14 C24.8,18.2 23.2,18.6 22.6,19.3 L22.6,19.3 C22.1,18.3 18.1,16.3 18.4,12.1 C18.8,7.9 23,-5.7 25.4,-12.5 C27.9,-19.3 35,-32.4 36.8,-39 C38.6,-45.6 40.5,-53.7 39.3,-61.7 C38.1,-69.7 29.4,-93.9 27.9,-98.8Z" fill="#231815"/>
<path d="M-13.4,42.4 C-11.7,39 -5,25.3 -2,22.5 C1,19.7 6.1,18.2 9.4,21.6 C12.6,25 21.7,41.9 22.6,48.1 C23.5,54.3 18,64.6 16,67.9 C14,71.3 9.9,72.9 7.5,73.1 C5.1,73.2 0.9,72.2 -2,68.9 C-4.9,65.6 -12.8,51.6 -14.3,48.1 C-15.8,44.5 -15,45.8 -13.4,42.4Z" fill="#f6d4a2"/>
<path d="M28.3,42.4 C30.3,38.7 35,25.3 37.8,22.5 C40.5,19.7 46.5,20.4 49.1,21.6 C51.7,22.7 55.6,27.8 57.1,31 C58.5,34.3 60.2,41.9 59.7,46.2 C59.2,50.5 55.9,59.6 53.3,63.2 C50.6,66.8 43.4,73 39.6,73.1 C35.9,73.1 27.2,66.7 24.9,63.6 C22.6,60.5 22.2,52.8 22.6,50 C23.1,47.1 26.3,46.1 28.3,42.4Z" fill="#c4985c"/>
<path d="M-30.4,-50.7 L-30.4,-12.5 C-36.1,-7.8 -38,2.6 -28.5,3.6 C-16.2,3.6 -20,-6.8 -24.7,-12.5 C-24.7,-12.5 -24.7,-12.5 -24.7,-12.5 L-24.7,-50.7" fill="none" stroke="#5a4524" stroke-width="1.9"/>
<path d="M74.3,-50.7 L74.3,-12.5 C68.6,-7.8 66.7,2.6 77.1,3.6 C88.5,3.6 84.7,-6.8 80,-12.5 C80,-12.5 80,-12.5 80,-12.5 L80,-50.7" fill="none" stroke="#5a4524" stroke-width="1.9"/></g><g id="pfs"><path d="M-25.4,-101.2 C-22.6,-101.7 -18.8,-99 -16,-96.1 C-13.2,-93.1 -9.4,-86.7 -6.6,-81.4 C-3.8,-76.1 1.1,-65.5 2.8,-60.7 C4.6,-55.9 5.7,-52 5.1,-49.4 C4.5,-46.8 2.2,-44 -0.9,-43.3 C-4.1,-42.6 -11.5,-44.9 -16,-44.7 C-20.5,-44.4 -27.3,-41.7 -31.1,-41.5 C-34.9,-41.3 -38.5,-41.6 -41.4,-43.3 C-44.3,-45.1 -48.7,-50 -50.3,-53.1 C-51.8,-56.2 -52.7,-60.8 -51.8,-64.1 C-50.9,-67.3 -46.8,-70.6 -44.3,-74.8 C-41.7,-79 -37.7,-88.4 -34.8,-92.3 C-32,-96.3 -28.2,-100.6 -25.4,-101.2Z" fill="#c9afc0"/>
<path d="M66.9,-101.2 C70.3,-102.8 74.1,-100.6 76.7,-98 C79.3,-95.3 81.7,-87.4 84.2,-83.3 C86.7,-79.1 91.6,-74 93.2,-70.1 C94.8,-66.1 95.2,-60.6 94.7,-56.9 C94.2,-53.2 92.3,-47.9 89.8,-45.6 C87.3,-43.3 82.2,-41.7 78.2,-41.5 C74.1,-41.2 68.1,-42.9 63.1,-43.7 C58.1,-44.6 48.5,-45.6 44.6,-47.1 C40.7,-48.6 37.7,-50.3 37.1,-53.5 C36.5,-56.7 38,-63.2 40.5,-68.2 C43,-73.2 49.7,-82.1 53.7,-87 C57.6,-92 63.4,-99.5 66.9,-101.2Z" fill="#8f6384"/>
<path d="M-24.5,-38.4 C-23.5,-39.9 -20.1,-41.1 -16,-41.5 C-11.9,-41.8 2.1,-42.1 6.6,-40.9 C11.1,-39.7 15.7,-35.6 17.9,-32.4 C20.1,-29.3 22.6,-21.6 23.2,-17.4 C23.7,-13.1 22.7,-4.9 22,-0.4 C21.4,4.1 20.1,13.6 18.3,16.5 C16.5,19.5 11.8,20.9 8.5,21.4 C5.2,22 -2.9,21.5 -6.6,20.7 C-10.3,19.8 -17.3,17.8 -19.4,15 C-21.5,12.2 -21.5,5.7 -22,-0.4 C-22.5,-6.5 -22.8,-25.5 -23.2,-30.5 C-23.5,-35.6 -25.4,-37 -24.5,-38.4Z" fill="#a5b9d3"/>
<path d="M23.9,-23 C25.4,-26.2 30.2,-33.5 33,-35.8 C35.7,-38.2 39.5,-40.1 44.3,-40.7 C49,-41.4 65,-41.6 68.7,-40.7 C72.5,-39.9 72.6,-36 72.5,-34.3 C72.5,-32.6 69.1,-32.2 68.4,-27.7 C67.7,-23.2 67.9,-6.3 67.2,-0.4 C66.6,5.5 66,13.6 63.5,16.5 C60.9,19.5 52.6,21.1 48,21.4 C43.5,21.7 32.6,21.2 29.2,18.8 C25.8,16.4 23.6,7.4 22.6,3.4 C21.6,-0.7 21.5,-8.2 21.7,-11.7 C21.8,-15.2 22.4,-19.8 23.9,-23Z" fill="#2e7b9b"/>
<ellipse cx="0" cy="-0.4" rx="16.9" ry="12.1" fill="#fff"/>
<path d="M4.3,-6.2 L5.2,-2.9 L6.2,-1.3" fill="none" stroke="#7b3a8b" stroke-width="1.25"/><path d="M4.3,1.8 L2.5,3.8 L0,3.4" fill="none" stroke="#7b3a8b" stroke-width="1.25"/><path d="M-4.3,2.8 L-6.5,1.1 L-8.7,1.4" fill="none" stroke="#7b3a8b" stroke-width="1.25"/><path d="M7.8,2.4 L9.4,8.4" fill="none" stroke="#7b3a8b" stroke-width="1.25"/><path d="M-1.5,5.7 L1.5,11.1" fill="none" stroke="#7b3a8b" stroke-width="1.25"/><path d="M-12.6,-0.4 L-15.5,-3.9" fill="none" stroke="#7b3a8b" stroke-width="1.25"/><path d="M-12,3 L-13.6,6.1" fill="none" stroke="#7b3a8b" stroke-width="1.25"/><path d="M8.4,0.1 L8,-1.9" fill="none" stroke="#7b3a8b" stroke-width="1.25"/><path d="M3,-4.9 L1.8,-3.9" fill="none" stroke="#7b3a8b" stroke-width="1.25"/><circle cx="4.1" cy="-8.3" r="2.1" fill="none" stroke="#7b3a8b" stroke-width="1.2"/><circle cx="6.4" cy="0.8" r="2.1" fill="none" stroke="#7b3a8b" stroke-width="1.2"/><circle cx="-2.2" cy="3.6" r="2.1" fill="none" stroke="#7b3a8b" stroke-width="1.2"/><circle cx="-10.6" cy="1.2" r="2.1" fill="none" stroke="#7b3a8b" stroke-width="1.2"/>
<ellipse cx="47.5" cy="-0.4" rx="16.9" ry="12.1" fill="#fff"/>
<path d="M43.2,-6.2 L42.3,-2.9 L41.3,-1.3" fill="none" stroke="#7b3a8b" stroke-width="1.25"/><path d="M43.2,1.8 L45,3.8 L47.5,3.4" fill="none" stroke="#7b3a8b" stroke-width="1.25"/><path d="M51.8,2.8 L54,1.1 L56.2,1.4" fill="none" stroke="#7b3a8b" stroke-width="1.25"/><path d="M39.7,2.4 L38.1,8.4" fill="none" stroke="#7b3a8b" stroke-width="1.25"/><path d="M49,5.7 L46,11.1" fill="none" stroke="#7b3a8b" stroke-width="1.25"/><path d="M60.1,-0.4 L63,-3.9" fill="none" stroke="#7b3a8b" stroke-width="1.25"/><path d="M59.5,3 L61.1,6.1" fill="none" stroke="#7b3a8b" stroke-width="1.25"/><path d="M39.1,0.1 L39.5,-1.9" fill="none" stroke="#7b3a8b" stroke-width="1.25"/><path d="M44.5,-4.9 L45.7,-3.9" fill="none" stroke="#7b3a8b" stroke-width="1.25"/><circle cx="43.4" cy="-8.3" r="2.1" fill="none" stroke="#7b3a8b" stroke-width="1.2"/><circle cx="41.1" cy="0.8" r="2.1" fill="none" stroke="#7b3a8b" stroke-width="1.2"/><circle cx="49.7" cy="3.6" r="2.1" fill="none" stroke="#7b3a8b" stroke-width="1.2"/><circle cx="58.1" cy="1.2" r="2.1" fill="none" stroke="#7b3a8b" stroke-width="1.2"/>
<path d="M66.5,-94.6 L75.5,-89.7 L26.9,4.9 L17.9,-0Z" fill="#231815"/>
<path d="M-10.4,26 C-8.1,23.6 0,20 2.8,19.6 C5.6,19.1 8.2,19.7 10.7,22.6 C13.3,25.4 19.9,36.6 21.7,41 C23.4,45.5 24.6,52.5 23.9,56.1 C23.2,59.7 18.7,65.5 16.4,67.8 C14.1,70.1 9.2,73.4 6.6,73.4 C4,73.4 -0.3,70.6 -2.8,67.8 C-5.3,65 -10.7,56.4 -12.2,52.3 C-13.7,48.3 -14.4,40.8 -14.1,37.3 C-13.9,33.7 -12.6,28.3 -10.4,26Z" fill="#f6d4a2"/>
<path d="M33,31.6 C35.2,28.7 41.2,21.3 44.3,19.6 C47.3,17.8 53.6,17.4 55.9,18.8 C58.2,20.2 60.6,26 61.6,29.7 C62.6,33.4 64.2,42.4 63.5,46.7 C62.7,51 58.7,58.8 55.9,62.1 C53.1,65.4 45.4,70.8 42.4,71.5 C39.3,72.3 35.2,70.3 33,67.8 C30.7,65.3 26.2,56.3 25.4,52.7 C24.7,49.1 26.3,43.8 27.3,41 C28.3,38.2 30.7,34.5 33,31.6Z" fill="#c4985c"/>
<path d="M-34.6,-37.3 Q-37.1,-26.2 -35.6,-15.1 T-35.6,7.1" fill="none" stroke="#5a4118" stroke-width="1.9"/>
<ellipse cx="-29.6" cy="-27.7" rx="5.6" ry="3.8" fill="#5a4118"/>
<ellipse cx="-29.6" cy="-17.4" rx="5.6" ry="3.8" fill="#5a4118"/>
<ellipse cx="-29.6" cy="-7.6" rx="5.6" ry="3.8" fill="#5a4118"/>
<ellipse cx="-29.6" cy="0.7" rx="5.6" ry="3.8" fill="#5a4118"/>
<path d="M82.2,-37.3 Q79.7,-26.2 81.2,-15.1 T81.2,7.1" fill="none" stroke="#5a4118" stroke-width="1.9"/>
<ellipse cx="74.8" cy="-27.7" rx="5.6" ry="3.8" fill="#5a4118"/>
<ellipse cx="74.8" cy="-17.4" rx="5.6" ry="3.8" fill="#5a4118"/>
<ellipse cx="74.8" cy="-7.6" rx="5.6" ry="3.8" fill="#5a4118"/>
<ellipse cx="74.8" cy="0.7" rx="5.6" ry="3.8" fill="#5a4118"/></g></defs>
<use href="#prs" x="828" y="198.5"/>
<use href="#prs" x="834" y="386.8"/>
<use href="#prs" x="830.7" y="743.3"/>
<use href="#prs" x="836.8" y="931.9"/>
<use href="#pfs" x="1132.5" y="193.4"/>
<use href="#pfs" x="1138.5" y="386.2"/>
<use href="#pfs" x="1152.3" y="743.7"/>
<use href="#pfs" x="1155.5" y="928"/>
<text x="876" y="126.4" font-size="14" font-weight="normal" fill="#fff" text-anchor="start">PHY</text>
<text x="866.7" y="181.3" font-size="14" font-weight="normal" fill="#fff" text-anchor="start">GAF</text>
<text x="858" y="250.4" font-size="14" font-weight="normal" fill="#fff" text-anchor="start">PAS</text>
<text x="914" y="201.5" font-size="14.3" font-weight="normal" fill="#000" text-anchor="start">Tongue</text>
<text x="918" y="229.8" font-size="14.5" font-weight="normal" fill="#000" text-anchor="start">BV</text>
<text x="865" y="85.6" font-size="14.3" font-weight="normal" fill="#000" text-anchor="start">Helical Spine</text>
<line x1="873" y1="110" x2="903" y2="92" stroke="#111" stroke-width="2.2" stroke-dasharray="4.5,3"/>
<line x1="895" y1="208" x2="915" y2="221" stroke="#111" stroke-width="2.2" stroke-dasharray="4.5,3"/>
<ellipse cx="1124" cy="326" rx="17.5" ry="20.5" fill="#2e6b4e" fill-opacity="0.85" transform="rotate(-22 1124 326)"/>
<ellipse cx="1197" cy="326" rx="18" ry="21" fill="#0f7a45" fill-opacity="0.82" transform="rotate(14 1197 326)"/>
<ellipse cx="1141" cy="867.8" rx="17.5" ry="20.5" fill="#2e6b4e" fill-opacity="0.85" transform="rotate(-22 1141 867.8)"/>
<ellipse cx="1214" cy="867.8" rx="18" ry="21" fill="#0f7a45" fill-opacity="0.82" transform="rotate(14 1214 867.8)"/>
<text x="0" y="0" font-size="14" fill="#fff" text-anchor="middle" transform="translate(1124.5 328.2) rotate(-52)">Aff6</text>
<text x="0" y="0" font-size="14" fill="#fff" text-anchor="middle" transform="translate(1195.5 328.2) rotate(38)">Aff6</text>
<text x="709.5" y="22.8" font-size="23" font-weight="bold" fill="#231815" text-anchor="start">B</text>
<text x="866.6" y="32.5" font-size="29" font-weight="bold" fill="#e60012" textLength="295" lengthAdjust="spacingAndGlyphs">Red light illumination</text>
<text x="791" y="63.9" font-size="19.2" font-weight="bold" fill="#000" textLength="154" lengthAdjust="spacingAndGlyphs">Pr comformation</text>
<text x="1075" y="63.4" font-size="19.2" font-weight="bold" fill="#000" textLength="155" lengthAdjust="spacingAndGlyphs">Pfr conformation</text>
<text x="729.5" y="189.4" font-size="21" font-weight="bold" fill="#000" textLength="41.6" lengthAdjust="spacingAndGlyphs">Apo</text>
<text x="728.5" y="352.3" font-size="21" font-weight="bold" fill="#000" textLength="54" lengthAdjust="spacingAndGlyphs">+Aff6</text>
<line x1="720.6" y1="546.3" x2="1261" y2="546.3" stroke="#111" stroke-width="1.2"/>
<text x="894.9" y="581.9" font-size="29" font-weight="bold" fill="#000" textLength="202.5" lengthAdjust="spacingAndGlyphs">Dark reversion</text>
<text x="781.7" y="608.9" font-size="19.2" font-weight="bold" fill="#000" textLength="154" lengthAdjust="spacingAndGlyphs">Pr comformation</text>
<text x="1087.5" y="608.4" font-size="19.2" font-weight="bold" fill="#000" textLength="154.5" lengthAdjust="spacingAndGlyphs">Pfr conformation</text>
<text x="732.3" y="710.4" font-size="21" font-weight="bold" fill="#000" textLength="41.6" lengthAdjust="spacingAndGlyphs">Apo</text>
<text x="727.6" y="907.5" font-size="21" font-weight="bold" fill="#000" textLength="54" lengthAdjust="spacingAndGlyphs">+Aff6</text>
<rect x="922" y="307.2" width="166" height="57.4" fill="#c9cacb"/>
<text x="931.4" y="329.7" font-size="19.2" font-weight="bold" fill="#000" textLength="144.6" lengthAdjust="spacingAndGlyphs">Slower Pfr -&gt; Pr</text>
<text x="955" y="352.6" font-size="19.2" font-weight="bold" fill="#000" textLength="102.6" lengthAdjust="spacingAndGlyphs">conversion</text>
<rect x="1080.1" y="466.2" width="173.9" height="57.5" fill="#c9cacb"/>
<text x="1096.5" y="488.6" font-size="19.2" font-weight="bold" fill="#000" textLength="143" lengthAdjust="spacingAndGlyphs">Conformational</text>
<text x="1115" y="512.5" font-size="19.2" font-weight="bold" fill="#000" textLength="105.2" lengthAdjust="spacingAndGlyphs">stablization</text>
<rect x="930.5" y="845" width="168.2" height="57.5" fill="#c9cacb"/>
<text x="947.5" y="869.6" font-size="19.2" font-weight="bold" fill="#000" textLength="129.4" lengthAdjust="spacingAndGlyphs">Retarded dark</text>
<text x="971.6" y="892.9" font-size="19.2" font-weight="bold" fill="#000" textLength="86.2" lengthAdjust="spacingAndGlyphs">reversion</text>
<rect x="1099.1" y="1004" width="170" height="60" fill="#c9cacb"/>
<text x="1111" y="1026.8" font-size="19.2" font-weight="bold" fill="#000" textLength="142.5" lengthAdjust="spacingAndGlyphs">Conformational</text>
<text x="1129.7" y="1050" font-size="19.2" font-weight="bold" fill="#000" textLength="105.6" lengthAdjust="spacingAndGlyphs">stablization</text>
<path d="M973.2,156.8 L985,150 L983.5,153.1 L1042.9,153.1 L1042.9,160 L983.5,160 L985,163.4 Z" fill="#000"/>
<path d="M1046.2,188.4 L1009,168.1 Q1012,174 1012.7,178 L976,178 L976,199.7 L1012.7,199.7 Q1012,204 1009,209.6 Z" fill="#000"/>
<path d="M972.2,372.4 L979.7,367.9 L978.5,371 L1041.9,371 L1041.9,373.8 L978.5,373.8 L979.7,376.9 Z" fill="#e60012"/>
<path d="M1046.5,404.5 L1009,384.2 Q1012,390 1012.7,394 L975.5,394 L975.5,415.5 L1012.7,415.5 Q1012,419 1009,424.8 Z" fill="#000"/>
<path d="M955.9,720.3 Q975,708 993.3,699.7 Q991,704 990.2,709.7 L1053.3,709.7 L1053.3,731 L990.2,731 Q991,736 993.3,740.5 Q975,732 955.9,720.3 Z" fill="#000"/>
<path d="M966.3,923.5 L983,914.8 L979,921.2 L1063.7,921.2 L1063.7,925.8 L979,925.8 L983,932.2 Z" fill="#e60012"/>
<text x="0" y="20.8" font-size="23" font-weight="bold" fill="#231815" text-anchor="start">A</text>
<text x="259.2" y="42" font-size="30" font-weight="bold" fill="#000" textLength="241.5" lengthAdjust="spacingAndGlyphs">Pfr comformation</text>
<text x="271" y="560.8" font-size="30" font-weight="bold" fill="#000" textLength="231.5" lengthAdjust="spacingAndGlyphs">Pr comformation</text>
<line x1="243.5" y1="182.9" x2="243.5" y2="212.9" stroke="#231815" stroke-width="2.6"/>
<line x1="243.5" y1="218.8" x2="243.5" y2="257.7" stroke="#231815" stroke-width="2.6"/>
<path d="M255.5,212.4 Q249.5,220.4 235.5,216.4" fill="none" stroke="#231815" stroke-width="2.4"/>
<path d="M230.5,214.9 L238.5,211.4 L238.5,220.9 Z" fill="#231815"/>
<text x="254" y="232.6" font-size="18.5" font-weight="normal" fill="#231815" text-anchor="start">45</text>
<circle cx="279" cy="220.6" r="2.6" fill="none" stroke="#231815" stroke-width="1"/>
<line x1="481" y1="683.3" x2="481" y2="712.2" stroke="#231815" stroke-width="2.6"/>
<line x1="481" y1="720" x2="481" y2="757.4" stroke="#231815" stroke-width="2.6"/>
<path d="M493,712.6 Q487,720.6 473,716.6" fill="none" stroke="#231815" stroke-width="2.4"/>
<path d="M468,715.1 L476,711.6 L476,721.1 Z" fill="#231815"/>
<text x="492.2" y="733.4" font-size="18.5" font-weight="normal" fill="#231815" text-anchor="start">45</text>
<circle cx="517.2" cy="721.4" r="2.6" fill="none" stroke="#231815" stroke-width="1"/>
<path d="M217.1,287.4 L238.2,279.2 L235,284 L288.6,284 L288.6,291.3 L235,291.3 L238.2,296.4 Z" fill="#231815"/>
<path d="M526.1,788.2 L505,780 L506.4,785 L454.1,785 L454.1,792 L506.4,792 L505,796.7 Z" fill="#231815"/>
<rect x="508.4" y="113" width="190.6" height="350" fill="none" stroke="#231815" stroke-width="1.5"/>
<rect x="348.3" y="184.8" width="72.2" height="129.8" fill="none" stroke="#231815" stroke-width="1.1"/>
<line x1="420.5" y1="184.8" x2="508.4" y2="113" stroke="#231815" stroke-width="1.1" stroke-dasharray="6,4"/>
<line x1="420.5" y1="314.6" x2="508.4" y2="463" stroke="#231815" stroke-width="1.1" stroke-dasharray="6,4"/>
<rect x="37" y="614.2" width="190.6" height="350.8" fill="none" stroke="#231815" stroke-width="1.5"/>
<rect x="346" y="668.6" width="72.3" height="130" fill="none" stroke="#231815" stroke-width="1.1"/>
<line x1="227.6" y1="614.2" x2="346" y2="668.6" stroke="#231815" stroke-width="1.1" stroke-dasharray="6,4"/>
<line x1="227.6" y1="965" x2="346" y2="798.6" stroke="#231815" stroke-width="1.1" stroke-dasharray="6,4"/>
<text x="579.4" y="160.9" font-size="18.5" font-weight="normal" fill="#000" textLength="43" lengthAdjust="spacingAndGlyphs">H334</text>
<text x="540.6" y="183.7" font-size="18.5" font-weight="normal" fill="#000" textLength="125.4" lengthAdjust="spacingAndGlyphs">(DrBphP-PCM)</text>
<text x="589.4" y="272.6" font-size="16.3" font-weight="normal" fill="#000" textLength="38.3" lengthAdjust="spacingAndGlyphs">3.8 Å</text>
<text x="531" y="311" font-size="16.3" font-weight="normal" fill="#000" textLength="38.5" lengthAdjust="spacingAndGlyphs">4.3 Å</text>
<text x="633" y="338.8" font-size="18.5" font-weight="normal" fill="#000" textLength="30.3" lengthAdjust="spacingAndGlyphs">F18</text>
<text x="627.7" y="363.2" font-size="18.5" font-weight="normal" fill="#000" textLength="45.3" lengthAdjust="spacingAndGlyphs">(Aff6)</text>
<text x="547.5" y="381.7" font-size="18.5" font-weight="normal" fill="#000" textLength="40.1" lengthAdjust="spacingAndGlyphs">F327</text>
<text x="507.4" y="406.8" font-size="18.5" font-weight="normal" fill="#000" textLength="126.3" lengthAdjust="spacingAndGlyphs">(DrBphP-PCM)</text>
<text x="96.7" y="682.4" font-size="18.5" font-weight="normal" fill="#000" textLength="44.9" lengthAdjust="spacingAndGlyphs">H334</text>
<text x="57" y="706.2" font-size="18.5" font-weight="normal" fill="#000" textLength="127.7" lengthAdjust="spacingAndGlyphs">(DrBphP-PCM)</text>
<text x="102" y="777.7" font-size="16.3" font-weight="normal" fill="#000" textLength="38.3" lengthAdjust="spacingAndGlyphs">3.7 Å</text>
<text x="91.8" y="815.9" font-size="16.3" font-weight="normal" fill="#000" textLength="39.8" lengthAdjust="spacingAndGlyphs">6.1 Å</text>
<text x="175" y="803.2" font-size="18.5" font-weight="normal" fill="#000" textLength="33.2" lengthAdjust="spacingAndGlyphs">F18</text>
<text x="171" y="826.1" font-size="18.5" font-weight="normal" fill="#000" textLength="45.8" lengthAdjust="spacingAndGlyphs">(Aff6)</text>
<text x="94.4" y="892.2" font-size="18.5" font-weight="normal" fill="#000" textLength="43.4" lengthAdjust="spacingAndGlyphs">F327</text>
<text x="55" y="915.8" font-size="18.5" font-weight="normal" fill="#000" textLength="126.8" lengthAdjust="spacingAndGlyphs">(DrBphP-PCM)</text>
</svg></body></html>
